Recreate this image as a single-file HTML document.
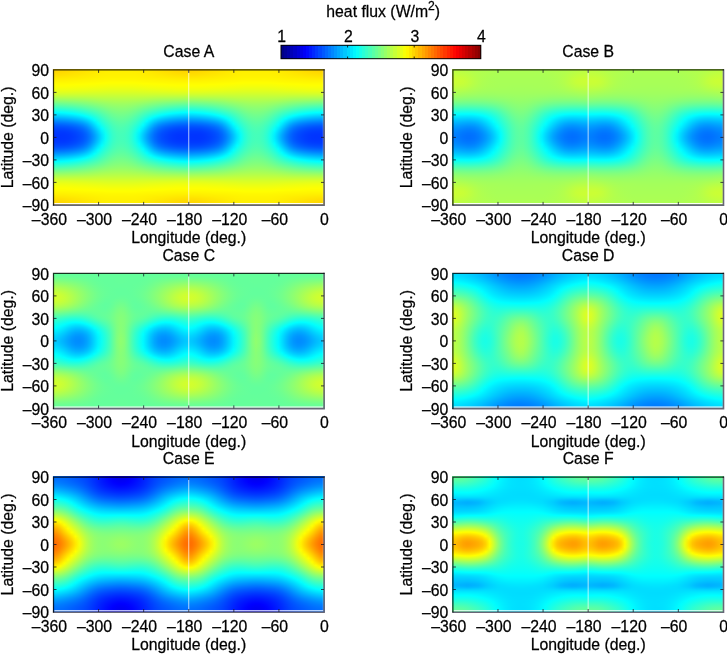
<!DOCTYPE html>
<html><head><meta charset="utf-8"><title>heat flux</title>
<style>
html,body{margin:0;padding:0;background:#fff}
body{width:727px;height:655px;position:relative;overflow:hidden;font-family:"Liberation Sans",sans-serif}
.hm{position:absolute;width:272px;height:136px;overflow:hidden}
.hm i{display:block;height:1px;width:100%}
.a0{background:repeating-linear-gradient(90deg,#ffd500,#ffd500,#ffd600,#ffd800,#ffda00,#ffdc00,#ffde00,#ffe100,#ffe300,#ffe500,#ffe800,#ffea00,#ffec00,#ffee00,#ffef00,#fff000,#fff000,#fff000,#fff000,#fff000,#fff000,#fff000,#ffef00,#ffee00,#ffed00,#ffeb00,#ffe800,#ffe600,#ffe400,#ffe100,#ffdf00,#ffdd00,#ffda00,#ffd800,#ffd600,#ffd500,#ffd500 135.25px)}
.a1{background:repeating-linear-gradient(90deg,#ffd500,#ffd500,#ffd600,#ffd800,#ffda00,#ffdc00,#ffdf00,#ffe100,#ffe300,#ffe500,#ffe800,#ffea00,#ffec00,#ffee00,#ffef00,#fff000,#fff000,#fff000,#fff000,#fff000,#fff000,#fff000,#ffef00,#ffee00,#ffed00,#ffeb00,#ffe800,#ffe600,#ffe400,#ffe200,#ffdf00,#ffdd00,#ffdb00,#ffd900,#ffd700,#ffd600,#ffd500 135.25px)}
.a2{background:repeating-linear-gradient(90deg,#ffd600,#ffd700,#ffd800,#ffd900,#ffdb00,#ffdd00,#ffe000,#ffe200,#ffe400,#ffe600,#ffe800,#ffea00,#ffec00,#ffee00,#ffef00,#fff000,#fff000,#fff000,#fff000,#fff000,#fff000,#fff000,#ffef00,#ffee00,#ffed00,#ffeb00,#ffe900,#ffe700,#ffe400,#ffe200,#ffe000,#ffde00,#ffdc00,#ffda00,#ffd800,#ffd700,#ffd600 135.25px)}
.a3{background:repeating-linear-gradient(90deg,#ffd800,#ffd800,#ffd900,#ffdb00,#ffdd00,#ffdf00,#ffe100,#ffe300,#ffe500,#ffe700,#ffe900,#ffeb00,#ffed00,#ffee00,#fff000,#fff000,#fff000,#fff000,#fff000,#fff000,#fff000,#fff000,#fff000,#ffef00,#ffed00,#ffec00,#ffea00,#ffe700,#ffe500,#ffe300,#ffe100,#ffdf00,#ffdd00,#ffdb00,#ffda00,#ffd900,#ffd800 135.25px)}
.a4{background:repeating-linear-gradient(90deg,#ffdb00,#ffdb00,#ffdc00,#ffdd00,#ffdf00,#ffe100,#ffe300,#ffe400,#ffe600,#ffe800,#ffea00,#ffec00,#ffee00,#ffef00,#fff000,#fff100,#fff100,#fff100,#fff100,#fff100,#fff100,#fff100,#fff000,#ffef00,#ffee00,#ffec00,#ffea00,#ffe900,#ffe700,#ffe500,#ffe300,#ffe100,#ffdf00,#ffdd00,#ffdc00,#ffdb00,#ffdb00 135.25px)}
.a5{background:repeating-linear-gradient(90deg,#ffde00,#ffde00,#ffde00,#ffe000,#ffe100,#ffe300,#ffe500,#ffe600,#ffe800,#ffe900,#ffeb00,#ffed00,#ffee00,#fff000,#fff100,#fff100,#fff100,#fff100,#fff100,#fff100,#fff100,#fff100,#fff100,#fff000,#ffef00,#ffed00,#ffec00,#ffea00,#ffe800,#ffe700,#ffe500,#ffe300,#ffe100,#ffe000,#ffdf00,#ffde00,#ffde00 135.25px)}
.a6{background:repeating-linear-gradient(90deg,#ffe100,#ffe100,#ffe100,#ffe200,#ffe400,#ffe500,#ffe700,#ffe800,#ffea00,#ffeb00,#ffed00,#ffee00,#ffef00,#fff100,#fff100,#fff200,#fff200,#fff200,#fff200,#fff200,#fff200,#fff200,#fff200,#fff100,#fff000,#ffee00,#ffed00,#ffec00,#ffea00,#ffe900,#ffe700,#ffe600,#ffe400,#ffe300,#ffe200,#ffe100,#ffe100 135.25px)}
.a7{background:repeating-linear-gradient(90deg,#ffe400,#ffe400,#ffe500,#ffe600,#ffe700,#ffe800,#ffe900,#ffeb00,#ffec00,#ffed00,#ffee00,#ffef00,#fff100,#fff200,#fff300,#fff300,#fff300,#fff300,#fff300,#fff300,#fff300,#fff300,#fff300,#fff200,#fff100,#fff000,#ffef00,#ffed00,#ffec00,#ffeb00,#ffea00,#ffe800,#ffe700,#ffe600,#ffe500,#ffe400,#ffe400 135.25px)}
.a8{background:repeating-linear-gradient(90deg,#ffe800,#ffe800,#ffe800,#ffe900,#ffea00,#ffeb00,#ffec00,#ffed00,#ffee00,#ffef00,#fff000,#fff100,#fff200,#fff300,#fff400,#fff400,#fff400,#fff400,#fff400,#fff400,#fff400,#fff400,#fff400,#fff300,#fff200,#fff100,#fff000,#ffef00,#ffee00,#ffed00,#ffec00,#ffeb00,#ffea00,#ffe900,#ffe800,#ffe800,#ffe800 135.25px)}
.a9{background:repeating-linear-gradient(90deg,#ffeb00,#ffeb00,#ffec00,#ffec00,#ffed00,#ffee00,#ffef00,#ffef00,#fff000,#fff100,#fff200,#fff300,#fff400,#fff500,#fff500,#fff600,#fff600,#fff600,#fff600,#fff600,#fff600,#fff600,#fff500,#fff500,#fff400,#fff300,#fff200,#fff100,#fff100,#fff000,#ffef00,#ffee00,#ffed00,#ffec00,#ffec00,#ffeb00,#ffeb00 135.25px)}
.a10{background:repeating-linear-gradient(90deg,#ffef00,#ffef00,#ffef00,#ffef00,#fff000,#fff100,#fff100,#fff200,#fff300,#fff300,#fff400,#fff500,#fff600,#fff600,#fff700,#fff700,#fff800,#fff700,#fff700,#fff700,#fff800,#fff700,#fff700,#fff600,#fff600,#fff500,#fff400,#fff400,#fff300,#fff200,#fff200,#fff100,#fff000,#ffef00,#ffef00,#ffef00,#ffef00 135.25px)}
.a11{background:repeating-linear-gradient(90deg,#fff200,#fff200,#fff200,#fff200,#fff300,#fff300,#fff400,#fff500,#fff500,#fff600,#fff600,#fff700,#fff800,#fff800,#fff900,#fff900,#fff900,#fff900,#fff900,#fff900,#fff900,#fff900,#fff900,#fff800,#fff800,#fff700,#fff700,#fff600,#fff500,#fff500,#fff400,#fff400,#fff300,#fff200,#fff200,#fff200,#fff200 135.25px)}
.a12{background:repeating-linear-gradient(90deg,#fff500,#fff500,#fff500,#fff500,#fff600,#fff600,#fff700,#fff700,#fff800,#fff800,#fff900,#fff900,#fffa00,#fffa00,#fffb00,#fffc00,#fffc00,#fffc00,#fffc00,#fffc00,#fffc00,#fffc00,#fffb00,#fffb00,#fffa00,#fff900,#fff900,#fff800,#fff800,#fff700,#fff700,#fff600,#fff600,#fff500,#fff500,#fff500,#fff500 135.25px)}
.a13{background:repeating-linear-gradient(90deg,#fff800,#fff800,#fff800,#fff800,#fff800,#fff900,#fff900,#fffa00,#fffa00,#fffb00,#fffb00,#fffc00,#fffc00,#fffd00,#fffe00,#fffe00,#fffe00,#fffe00,#fffe00,#fffe00,#fffe00,#fffe00,#fffe00,#fffd00,#fffc00,#fffc00,#fffb00,#fffb00,#fffa00,#fffa00,#fff900,#fff900,#fff800,#fff800,#fff800,#fff800,#fff800 135.25px)}
.a14{background:repeating-linear-gradient(90deg,#fffb00,#fffb00,#fffb00,#fffb00,#fffb00,#fffb00,#fffc00,#fffc00,#fffd00,#fffd00,#fffe00,#fffe00,#ffff00,#feff01,#feff01,#fdff02,#fdff02,#fdff02,#fdff02,#fdff02,#fdff02,#fdff02,#fdff02,#feff01,#ffff00,#ffff00,#fffe00,#fffe00,#fffd00,#fffd00,#fffc00,#fffb00,#fffb00,#fffb00,#fffb00,#fffb00,#fffb00 135.25px)}
.a15{background:repeating-linear-gradient(90deg,#fffe00,#fffd00,#fffd00,#fffd00,#fffe00,#fffe00,#ffff00,#ffff00,#feff01,#feff01,#fdff02,#fdff02,#fcff03,#fbff04,#fbff04,#faff05,#faff05,#faff05,#faff05,#faff05,#faff05,#faff05,#faff05,#fbff04,#fcff03,#fdff02,#fdff02,#feff01,#feff01,#ffff00,#ffff00,#fffe00,#fffe00,#fffd00,#fffd00,#fffd00,#fffe00 135.25px)}
.a16{background:repeating-linear-gradient(90deg,#feff01,#feff01,#feff01,#feff01,#feff01,#fdff02,#fcff03,#fcff03,#fbff04,#fbff04,#faff05,#faff05,#f9ff06,#f8ff07,#f7ff08,#f7ff08,#f7ff08,#f7ff08,#f7ff08,#f7ff08,#f6ff09,#f7ff08,#f7ff08,#f8ff07,#f9ff06,#f9ff06,#faff05,#fbff04,#fbff04,#fcff03,#fcff03,#fdff02,#feff01,#feff01,#feff01,#feff01,#feff01 135.25px)}
.a17{background:repeating-linear-gradient(90deg,#fbff04,#fbff04,#fbff04,#fbff04,#fbff04,#faff05,#f9ff06,#f9ff06,#f8ff07,#f8ff07,#f7ff08,#f6ff09,#f5ff0a,#f4ff0b,#f4ff0b,#f3ff0c,#f3ff0c,#f3ff0c,#f3ff0c,#f3ff0c,#f3ff0c,#f3ff0c,#f4ff0b,#f4ff0b,#f5ff0a,#f6ff09,#f7ff08,#f7ff08,#f8ff07,#f9ff06,#f9ff06,#faff05,#faff05,#fbff04,#fbff04,#fbff04,#fbff04 135.25px)}
.a18{background:repeating-linear-gradient(90deg,#f7ff08,#f8ff07,#f8ff07,#f8ff07,#f7ff08,#f7ff08,#f6ff09,#f5ff0a,#f5ff0a,#f4ff0b,#f3ff0c,#f2ff0d,#f2ff0d,#f1ff0e,#f0ff0f,#efff10,#efff10,#efff10,#efff10,#efff10,#efff10,#efff10,#f0ff0f,#f0ff0f,#f1ff0e,#f2ff0d,#f3ff0c,#f4ff0b,#f4ff0b,#f5ff0a,#f6ff09,#f6ff09,#f7ff08,#f8ff07,#f8ff07,#f8ff07,#f7ff08 135.25px)}
.a19{background:repeating-linear-gradient(90deg,#f4ff0b,#f4ff0b,#f4ff0b,#f4ff0b,#f3ff0c,#f3ff0c,#f2ff0d,#f1ff0e,#f1ff0e,#f0ff0f,#efff10,#eeff11,#eeff11,#edff12,#ecff13,#ebff14,#ebff14,#ebff14,#ebff14,#ebff14,#ebff14,#ebff14,#ecff13,#ecff13,#edff12,#eeff11,#efff10,#f0ff0f,#f1ff0e,#f1ff0e,#f2ff0d,#f3ff0c,#f3ff0c,#f4ff0b,#f4ff0b,#f4ff0b,#f4ff0b 135.25px)}
.a20{background:repeating-linear-gradient(90deg,#f0ff0f,#f0ff0f,#f0ff0f,#f0ff0f,#efff10,#efff10,#eeff11,#edff12,#ecff13,#ecff13,#ebff14,#eaff15,#e9ff16,#e8ff17,#e8ff17,#e7ff18,#e7ff18,#e7ff18,#e7ff18,#e7ff18,#e7ff18,#e7ff18,#e7ff18,#e8ff17,#e9ff16,#eaff15,#ebff14,#ebff14,#ecff13,#edff12,#eeff11,#eeff11,#efff10,#f0ff0f,#f0ff0f,#f0ff0f,#f0ff0f 135.25px)}
.a21{background:repeating-linear-gradient(90deg,#ebff14,#ebff14,#ebff14,#ebff14,#eaff15,#eaff15,#e9ff16,#e8ff17,#e8ff17,#e7ff18,#e6ff19,#e5ff1a,#e5ff1a,#e4ff1b,#e3ff1c,#e2ff1d,#e2ff1d,#e2ff1d,#e2ff1d,#e2ff1d,#e2ff1d,#e2ff1d,#e3ff1c,#e4ff1b,#e4ff1b,#e5ff1a,#e6ff19,#e7ff18,#e7ff18,#e8ff17,#e9ff16,#e9ff16,#eaff15,#ebff14,#ebff14,#ebff14,#ebff14 135.25px)}
.a22{background:repeating-linear-gradient(90deg,#e5ff1a,#e5ff1a,#e5ff1a,#e5ff1a,#e5ff1a,#e4ff1b,#e3ff1c,#e3ff1c,#e2ff1d,#e2ff1d,#e1ff1e,#e0ff1f,#e0ff1f,#dfff20,#deff21,#deff21,#deff21,#deff21,#deff21,#deff21,#deff21,#deff21,#deff21,#dfff20,#dfff20,#e0ff1f,#e1ff1e,#e1ff1e,#e2ff1d,#e3ff1c,#e3ff1c,#e4ff1b,#e5ff1a,#e5ff1a,#e5ff1a,#e5ff1a,#e5ff1a 135.25px)}
.a23{background:repeating-linear-gradient(90deg,#dfff20,#dfff20,#dfff20,#dfff20,#dfff20,#deff21,#ddff22,#ddff22,#dcff23,#dcff23,#dbff24,#dbff24,#daff25,#daff25,#d9ff26,#d9ff26,#d9ff26,#d9ff26,#d9ff26,#d9ff26,#d9ff26,#d9ff26,#d9ff26,#daff25,#daff25,#dbff24,#dbff24,#dcff23,#dcff23,#ddff22,#ddff22,#deff21,#deff21,#dfff20,#dfff20,#dfff20,#dfff20 135.25px)}
.a24{background:repeating-linear-gradient(90deg,#d8ff27,#d8ff27,#d8ff27,#d8ff27,#d7ff28,#d7ff28,#d7ff28,#d6ff29,#d6ff29,#d5ff2a,#d5ff2a,#d5ff2a,#d5ff2a,#d4ff2b,#d4ff2b,#d4ff2b,#d4ff2b,#d4ff2b,#d4ff2b,#d4ff2b,#d4ff2b,#d4ff2b,#d4ff2b,#d4ff2b,#d5ff2a,#d5ff2a,#d5ff2a,#d5ff2a,#d6ff29,#d6ff29,#d6ff29,#d7ff28,#d7ff28,#d8ff27,#d8ff27,#d8ff27,#d8ff27 135.25px)}
.a25{background:repeating-linear-gradient(90deg,#cfff30,#d0ff2f,#d0ff2f,#d0ff2f,#d0ff2f,#cfff30,#cfff30,#cfff30,#cfff30,#cfff30,#cfff30,#cfff30,#cfff30,#cfff30,#cfff30,#ceff31,#ceff31,#cfff30,#cfff30,#cfff30,#cfff30,#ceff31,#cfff30,#cfff30,#cfff30,#cfff30,#cfff30,#cfff30,#cfff30,#cfff30,#cfff30,#cfff30,#d0ff2f,#d0ff2f,#d0ff2f,#d0ff2f,#cfff30 135.25px)}
.a26{background:repeating-linear-gradient(90deg,#c7ff38,#c7ff38,#c7ff38,#c7ff38,#c7ff38,#c7ff38,#c7ff38,#c7ff38,#c7ff38,#c7ff38,#c8ff37,#c8ff37,#c9ff36,#c9ff36,#c9ff36,#c9ff36,#c9ff36,#c9ff36,#c9ff36,#c9ff36,#c9ff36,#c9ff36,#c9ff36,#c9ff36,#c9ff36,#c9ff36,#c8ff37,#c7ff38,#c7ff38,#c7ff38,#c7ff38,#c7ff38,#c7ff38,#c7ff38,#c7ff38,#c7ff38,#c7ff38 135.25px)}
.a27{background:repeating-linear-gradient(90deg,#bdff42,#bdff42,#beff41,#beff41,#beff41,#beff41,#bfff40,#bfff40,#bfff40,#c0ff3f,#c1ff3e,#c2ff3d,#c3ff3c,#c3ff3c,#c3ff3c,#c4ff3b,#c4ff3b,#c4ff3b,#c4ff3b,#c4ff3b,#c4ff3b,#c4ff3b,#c3ff3c,#c3ff3c,#c3ff3c,#c2ff3d,#c1ff3e,#c0ff3f,#bfff40,#bfff40,#bfff40,#beff41,#beff41,#beff41,#beff41,#bdff42,#bdff42 135.25px)}
.a28{background:repeating-linear-gradient(90deg,#b3ff4c,#b3ff4c,#b4ff4b,#b4ff4b,#b5ff4a,#b5ff4a,#b6ff49,#b6ff49,#b7ff48,#b8ff47,#b9ff46,#bbff44,#bcff43,#bdff42,#beff41,#beff41,#beff41,#bfff40,#bfff40,#bfff40,#beff41,#beff41,#beff41,#bdff42,#bcff43,#bbff44,#baff45,#b8ff47,#b7ff48,#b6ff49,#b6ff49,#b5ff4a,#b5ff4a,#b4ff4b,#b4ff4b,#b3ff4c,#b3ff4c 135.25px)}
.a29{background:repeating-linear-gradient(90deg,#a9ff56,#a9ff56,#a9ff56,#aaff55,#abff54,#abff54,#acff53,#adff52,#aeff51,#afff50,#b1ff4e,#b3ff4c,#b5ff4a,#b7ff48,#b8ff47,#b8ff47,#b9ff46,#b9ff46,#baff45,#b9ff46,#b9ff46,#b9ff46,#b8ff47,#b7ff48,#b6ff49,#b4ff4b,#b2ff4d,#b0ff4f,#aeff51,#adff52,#acff53,#acff53,#abff54,#aaff55,#aaff55,#a9ff56,#a9ff56 135.25px)}
.a30{background:repeating-linear-gradient(90deg,#9eff61,#9eff61,#9fff60,#9fff60,#a0ff5f,#a1ff5e,#a2ff5d,#a4ff5b,#a5ff5a,#a7ff58,#a9ff56,#acff53,#aeff51,#b0ff4f,#b2ff4d,#b3ff4c,#b4ff4b,#b4ff4b,#b4ff4b,#b4ff4b,#b4ff4b,#b3ff4c,#b2ff4d,#b1ff4e,#afff50,#adff52,#aaff55,#a8ff57,#a6ff59,#a4ff5b,#a3ff5c,#a2ff5d,#a1ff5e,#a0ff5f,#9fff60,#9eff61,#9eff61 135.25px)}
.a31{background:repeating-linear-gradient(90deg,#92ff6d,#93ff6c,#93ff6c,#94ff6b,#96ff69,#97ff68,#98ff67,#9aff65,#9cff63,#9eff61,#a1ff5e,#a4ff5b,#a7ff58,#aaff55,#acff53,#adff52,#aeff51,#afff50,#afff50,#afff50,#aeff51,#adff52,#acff53,#aaff55,#a8ff57,#a5ff5a,#a2ff5d,#9fff60,#9cff63,#9aff65,#99ff66,#97ff68,#96ff69,#95ff6a,#94ff6b,#93ff6c,#92ff6d 135.25px)}
.a32{background:repeating-linear-gradient(90deg,#87ff78,#87ff78,#88ff77,#89ff76,#8bff74,#8cff73,#8eff71,#90ff6f,#93ff6c,#95ff6a,#99ff66,#9dff62,#a0ff5f,#a3ff5c,#a6ff59,#a7ff58,#a9ff56,#aaff55,#aaff55,#aaff55,#a9ff56,#a8ff57,#a6ff59,#a4ff5b,#a1ff5e,#9eff61,#9aff65,#96ff69,#93ff6c,#91ff6e,#8fff70,#8dff72,#8bff74,#8aff75,#88ff77,#87ff78,#87ff78 135.25px)}
.a33{background:repeating-linear-gradient(90deg,#7bff84,#7bff84,#7cff83,#7eff81,#7fff80,#81ff7e,#84ff7b,#86ff79,#89ff76,#8cff73,#90ff6f,#95ff6a,#99ff66,#9cff63,#9fff60,#a2ff5d,#a4ff5b,#a5ff5a,#a5ff5a,#a5ff5a,#a4ff5b,#a2ff5d,#a0ff5f,#9dff62,#9aff65,#96ff69,#92ff6d,#8dff72,#8aff75,#87ff78,#84ff7b,#82ff7d,#80ff7f,#7eff81,#7dff82,#7bff84,#7bff84 135.25px)}
.a34{background:repeating-linear-gradient(90deg,#6fff90,#6fff90,#70ff8f,#72ff8d,#74ff8b,#76ff89,#79ff86,#7cff83,#80ff7f,#84ff7b,#88ff77,#8dff72,#91ff6e,#96ff69,#99ff66,#9cff63,#9fff60,#a0ff5f,#a0ff5f,#a0ff5f,#9fff60,#9dff62,#9aff65,#97ff68,#93ff6c,#8eff71,#89ff76,#85ff7a,#81ff7e,#7dff82,#7aff85,#77ff88,#75ff8a,#73ff8c,#71ff8e,#70ff8f,#6fff90 135.25px)}
.a35{background:repeating-linear-gradient(90deg,#63ff9c,#63ff9c,#65ff9a,#66ff99,#69ff96,#6bff94,#6eff91,#72ff8d,#76ff89,#7bff84,#80ff7f,#85ff7a,#8aff75,#8fff70,#93ff6c,#97ff68,#9aff65,#9bff64,#9cff63,#9bff64,#9aff65,#98ff67,#95ff6a,#90ff6f,#8bff74,#86ff79,#81ff7e,#7cff83,#77ff88,#73ff8c,#6fff90,#6cff93,#69ff96,#67ff98,#65ff9a,#63ff9c,#63ff9c 135.25px)}
.a36{background:repeating-linear-gradient(90deg,#57ffa8,#57ffa8,#59ffa6,#5bffa4,#5dffa2,#60ff9f,#64ff9b,#68ff97,#6cff93,#71ff8e,#77ff88,#7dff82,#83ff7c,#88ff77,#8eff71,#92ff6d,#95ff6a,#97ff68,#97ff68,#97ff68,#95ff6a,#93ff6c,#8fff70,#8aff75,#84ff7b,#7eff81,#79ff86,#73ff8c,#6eff91,#69ff96,#65ff9a,#61ff9e,#5effa1,#5bffa4,#59ffa6,#57ffa8,#57ffa8 135.25px)}
.a37{background:repeating-linear-gradient(90deg,#4affb5,#4bffb4,#4cffb3,#4fffb0,#52ffad,#55ffaa,#59ffa6,#5dffa2,#63ff9c,#68ff97,#6eff91,#75ff8a,#7bff84,#82ff7d,#88ff77,#8dff72,#90ff6f,#92ff6d,#93ff6c,#93ff6c,#91ff6e,#8eff71,#89ff76,#83ff7c,#7dff82,#76ff89,#70ff8f,#6aff95,#64ff9b,#5fffa0,#5affa5,#56ffa9,#52ffad,#4fffb0,#4dffb2,#4bffb4,#4affb5 135.25px)}
.a38{background:repeating-linear-gradient(90deg,#3effc1,#3effc1,#40ffbf,#43ffbc,#46ffb9,#49ffb6,#4effb1,#53ffac,#59ffa6,#5fffa0,#66ff99,#6dff92,#74ff8b,#7bff84,#82ff7d,#88ff77,#8cff73,#8eff71,#8fff70,#8fff70,#8dff72,#89ff76,#84ff7b,#7dff82,#76ff89,#6fff90,#68ff97,#61ff9e,#5affa5,#54ffab,#4fffb0,#4bffb4,#47ffb8,#44ffbb,#41ffbe,#3fffc0,#3effc1 135.25px)}
.a39{background:repeating-linear-gradient(90deg,#31ffce,#32ffcd,#34ffcb,#37ffc8,#3affc5,#3effc1,#43ffbc,#48ffb7,#4fffb0,#56ffa9,#5dffa2,#64ff9b,#6cff93,#74ff8b,#7cff83,#83ff7c,#87ff78,#8aff75,#8bff74,#8aff75,#88ff77,#84ff7b,#7eff81,#77ff88,#6eff91,#67ff98,#5fffa0,#58ffa7,#50ffaf,#4affb5,#44ffbb,#3fffc0,#3bffc4,#37ffc8,#34ffcb,#32ffcd,#31ffce 135.25px)}
.a40{background:repeating-linear-gradient(90deg,#25ffda,#25ffda,#27ffd8,#2affd5,#2effd1,#32ffcd,#37ffc8,#3dffc2,#44ffbb,#4cffb3,#54ffab,#5cffa3,#65ff9a,#6eff91,#76ff89,#7eff81,#83ff7c,#86ff79,#87ff78,#87ff78,#84ff7b,#7fff80,#79ff86,#70ff8f,#67ff98,#5fffa0,#56ffa9,#4effb1,#46ffb9,#3fffc0,#39ffc6,#33ffcc,#2fffd0,#2bffd4,#28ffd7,#26ffd9,#25ffda 135.25px)}
.a41{background:repeating-linear-gradient(90deg,#18ffe7,#19ffe6,#1bffe4,#1effe1,#21ffde,#26ffd9,#2bffd4,#32ffcd,#3affc5,#42ffbd,#4bffb4,#54ffab,#5dffa2,#67ff98,#71ff8e,#79ff86,#7fff80,#82ff7d,#83ff7c,#83ff7c,#80ff7f,#7bff84,#73ff8c,#6aff95,#60ff9f,#56ffa9,#4dffb2,#45ffba,#3cffc3,#34ffcb,#2dffd2,#27ffd8,#23ffdc,#1fffe0,#1bffe4,#19ffe6,#18ffe7 135.25px)}
.a42{background:repeating-linear-gradient(90deg,#0bfff4,#0cfff3,#0efff1,#11ffee,#15ffea,#1affe5,#20ffdf,#27ffd8,#2fffd0,#38ffc7,#42ffbd,#4cffb3,#56ffa9,#61ff9e,#6bff94,#74ff8b,#7bff84,#7eff81,#80ff7f,#7fff80,#7cff83,#76ff89,#6eff91,#64ff9b,#59ffa6,#4effb1,#44ffbb,#3bffc4,#31ffce,#29ffd6,#21ffde,#1bffe4,#16ffe9,#12ffed,#0efff1,#0cfff3,#0bfff4 135.25px)}
.a43{background:repeating-linear-gradient(90deg,#00fdff,#00fdff,#01fffe,#04fffb,#08fff7,#0dfff2,#13ffec,#1bffe4,#24ffdb,#2effd1,#38ffc7,#43ffbc,#4fffb0,#5bffa4,#66ff99,#70ff8f,#77ff88,#7bff84,#7cff83,#7bff84,#78ff87,#72ff8d,#69ff96,#5effa1,#52ffad,#46ffb9,#3bffc4,#30ffcf,#26ffd9,#1dffe2,#15ffea,#0ffff0,#09fff6,#05fffa,#01fffe,#00feff,#00fdff 135.25px)}
.a44{background:repeating-linear-gradient(90deg,#00f0ff,#00f0ff,#00f2ff,#00f6ff,#00faff,#00ffff,#07fff8,#0ffff0,#18ffe7,#23ffdc,#2fffd0,#3bffc4,#48ffb7,#54ffab,#61ff9e,#6bff94,#72ff8d,#77ff88,#79ff86,#78ff87,#74ff8b,#6dff92,#64ff9b,#58ffa7,#4bffb4,#3effc1,#32ffcd,#26ffd9,#1bffe4,#11ffee,#09fff6,#02fffd,#00fbff,#00f7ff,#00f3ff,#00f1ff,#00f0ff 135.25px)}
.a45{background:repeating-linear-gradient(90deg,#00e2ff,#00e3ff,#00e5ff,#00e8ff,#00edff,#00f2ff,#00f9ff,#02fffd,#0cfff3,#18ffe7,#25ffda,#32ffcd,#40ffbf,#4effb1,#5bffa4,#66ff99,#6eff91,#73ff8c,#75ff8a,#74ff8b,#70ff8f,#69ff96,#5fffa0,#52ffad,#44ffbb,#36ffc9,#28ffd7,#1bffe4,#0ffff0,#05fffa,#00fbff,#00f4ff,#00eeff,#00e9ff,#00e6ff,#00e3ff,#00e2ff 135.25px)}
.a46{background:repeating-linear-gradient(90deg,#00d5ff,#00d5ff,#00d7ff,#00dbff,#00dfff,#00e5ff,#00ecff,#00f4ff,#00ffff,#0cfff3,#1affe5,#2affd5,#39ffc6,#49ffb6,#56ffa9,#62ff9d,#6bff94,#70ff8f,#72ff8d,#71ff8e,#6cff93,#65ff9a,#5affa5,#4cffb3,#3dffc2,#2effd1,#1effe1,#10ffef,#03fffc,#00f7ff,#00eeff,#00e6ff,#00e0ff,#00dcff,#00d8ff,#00d6ff,#00d5ff 135.25px)}
.a47{background:repeating-linear-gradient(90deg,#00c7ff,#00c7ff,#00caff,#00cdff,#00d1ff,#00d7ff,#00deff,#00e7ff,#00f2ff,#01fffe,#10ffef,#21ffde,#32ffcd,#43ffbc,#51ffae,#5effa1,#67ff98,#6cff93,#6eff91,#6dff92,#68ff97,#60ff9f,#55ffaa,#47ffb8,#37ffc8,#26ffd9,#15ffea,#05fffa,#00f6ff,#00eaff,#00e0ff,#00d9ff,#00d3ff,#00ceff,#00caff,#00c8ff,#00c7ff 135.25px)}
.a48{background:repeating-linear-gradient(90deg,#00b9ff,#00baff,#00bcff,#00bfff,#00c4ff,#00c9ff,#00d1ff,#00daff,#00e5ff,#00f4ff,#06fff9,#18ffe7,#2bffd4,#3dffc2,#4cffb3,#59ffa6,#63ff9c,#69ff96,#6bff94,#6aff95,#65ff9a,#5cffa3,#50ffaf,#41ffbe,#30ffcf,#1effe1,#0bfff4,#00f8ff,#00e9ff,#00ddff,#00d3ff,#00cbff,#00c5ff,#00c0ff,#00bdff,#00baff,#00b9ff 135.25px)}
.a49{background:repeating-linear-gradient(90deg,#00acff,#00acff,#00aeff,#00b1ff,#00b6ff,#00bcff,#00c3ff,#00ccff,#00d8ff,#00e8ff,#00faff,#10ffef,#25ffda,#37ffc8,#48ffb7,#55ffaa,#5fffa0,#65ff9a,#68ff97,#66ff99,#61ff9e,#58ffa7,#4cffb3,#3cffc3,#2affd5,#15ffea,#01fffe,#00ecff,#00dcff,#00cfff,#00c5ff,#00bdff,#00b7ff,#00b3ff,#00afff,#00adff,#00acff 135.25px)}
.a50{background:repeating-linear-gradient(90deg,#009fff,#009fff,#00a1ff,#00a4ff,#00a8ff,#00aeff,#00b6ff,#00bfff,#00ccff,#00dbff,#00f0ff,#07fff8,#1effe1,#32ffcd,#43ffbc,#51ffae,#5bffa4,#62ff9d,#65ff9a,#63ff9c,#5dffa2,#54ffab,#47ffb8,#37ffc8,#23ffdc,#0dfff2,#00f6ff,#00e0ff,#00cfff,#00c2ff,#00b8ff,#00b0ff,#00aaff,#00a5ff,#00a2ff,#009fff,#009fff 135.25px)}
.a51{background:repeating-linear-gradient(90deg,#0092ff,#0092ff,#0094ff,#0097ff,#009bff,#00a1ff,#00a9ff,#00b2ff,#00bfff,#00d0ff,#00e5ff,#00feff,#17ffe8,#2cffd3,#3effc1,#4dffb2,#58ffa7,#5fffa0,#61ff9e,#60ff9f,#5affa5,#50ffaf,#43ffbc,#32ffcd,#1dffe2,#05fffa,#00ecff,#00d5ff,#00c3ff,#00b5ff,#00abff,#00a3ff,#009dff,#0098ff,#0095ff,#0093ff,#0092ff 135.25px)}
.a52{background:repeating-linear-gradient(90deg,#0086ff,#0086ff,#0088ff,#008aff,#008fff,#0094ff,#009cff,#00a5ff,#00b2ff,#00c4ff,#00dbff,#00f5ff,#10ffef,#27ffd8,#3affc5,#49ffb6,#54ffab,#5bffa4,#5effa1,#5dffa2,#56ffa9,#4cffb3,#3effc1,#2cffd3,#17ffe8,#00fcff,#00e2ff,#00caff,#00b7ff,#00a9ff,#009eff,#0096ff,#0090ff,#008bff,#0088ff,#0086ff,#0086ff 135.25px)}
.a53{background:repeating-linear-gradient(90deg,#007aff,#007aff,#007cff,#007eff,#0082ff,#0088ff,#0090ff,#0099ff,#00a6ff,#00b9ff,#00d1ff,#00edff,#09fff6,#22ffdd,#35ffca,#45ffba,#51ffae,#58ffa7,#5cffa3,#5affa5,#53ffac,#48ffb7,#3affc5,#27ffd8,#10ffef,#00f4ff,#00d8ff,#00bfff,#00abff,#009cff,#0092ff,#008aff,#0084ff,#007fff,#007cff,#007bff,#007aff 135.25px)}
.a54{background:repeating-linear-gradient(90deg,#006fff,#006fff,#0071ff,#0073ff,#0077ff,#007dff,#0084ff,#008eff,#009bff,#00aeff,#00c7ff,#00e5ff,#03fffc,#1cffe3,#31ffce,#41ffbe,#4effb1,#56ffa9,#59ffa6,#57ffa8,#50ffaf,#45ffba,#36ffc9,#22ffdd,#0afff5,#00ecff,#00cfff,#00b4ff,#009fff,#0091ff,#0086ff,#007eff,#0078ff,#0074ff,#0071ff,#0070ff,#006fff 135.25px)}
.a55{background:repeating-linear-gradient(90deg,#0065ff,#0065ff,#0066ff,#0069ff,#006dff,#0072ff,#0079ff,#0083ff,#0090ff,#00a3ff,#00beff,#00dcff,#00fbff,#17ffe8,#2cffd3,#3effc1,#4bffb4,#53ffac,#56ffa9,#54ffab,#4dffb2,#42ffbd,#31ffce,#1dffe2,#04fffb,#00e5ff,#00c6ff,#00aaff,#0095ff,#0086ff,#007cff,#0074ff,#006eff,#006aff,#0067ff,#0066ff,#0065ff 135.25px)}
.a56{background:repeating-linear-gradient(90deg,#005cff,#005cff,#005dff,#005fff,#0063ff,#0068ff,#0070ff,#0079ff,#0086ff,#009aff,#00b5ff,#00d4ff,#00f4ff,#11ffee,#28ffd7,#3affc5,#48ffb7,#50ffaf,#54ffab,#52ffad,#4affb5,#3effc1,#2dffd2,#18ffe7,#00fcff,#00ddff,#00bdff,#00a0ff,#008bff,#007cff,#0072ff,#006aff,#0064ff,#0060ff,#005eff,#005cff,#005cff 135.25px)}
.a57{background:repeating-linear-gradient(90deg,#0054ff,#0054ff,#0055ff,#0057ff,#005aff,#0060ff,#0067ff,#0070ff,#007dff,#0091ff,#00acff,#00cdff,#00edff,#0bfff4,#24ffdb,#37ffc8,#45ffba,#4effb1,#52ffad,#4fffb0,#48ffb7,#3bffc4,#29ffd6,#12ffed,#00f6ff,#00d5ff,#00b5ff,#0098ff,#0082ff,#0073ff,#0069ff,#0062ff,#005cff,#0058ff,#0055ff,#0054ff,#0054ff 135.25px)}
.a58{background:repeating-linear-gradient(90deg,#004dff,#004dff,#004eff,#0050ff,#0053ff,#0058ff,#005fff,#0068ff,#0075ff,#0089ff,#00a4ff,#00c5ff,#00e7ff,#06fff9,#1fffe0,#34ffcb,#43ffbc,#4cffb3,#4fffb0,#4dffb2,#46ffb9,#38ffc7,#25ffda,#0dfff2,#00efff,#00ceff,#00adff,#008fff,#007aff,#006bff,#0061ff,#005aff,#0054ff,#0050ff,#004eff,#004eff,#004dff 135.25px)}
.a59{background:repeating-linear-gradient(90deg,#0048ff,#0048ff,#0048ff,#0049ff,#004dff,#0052ff,#0059ff,#0062ff,#006eff,#0082ff,#009dff,#00beff,#00e0ff,#00ffff,#1bffe4,#31ffce,#41ffbe,#4affb5,#4effb1,#4bffb4,#44ffbb,#36ffc9,#22ffdd,#08fff7,#00e9ff,#00c7ff,#00a5ff,#0088ff,#0073ff,#0065ff,#005bff,#0053ff,#004eff,#004aff,#0048ff,#0048ff,#0048ff 135.25px)}
.a60{background:repeating-linear-gradient(90deg,#0043ff,#0043ff,#0043ff,#0044ff,#0047ff,#004cff,#0053ff,#005cff,#0068ff,#007bff,#0096ff,#00b7ff,#00daff,#00faff,#17ffe8,#2effd1,#3fffc0,#48ffb7,#4cffb3,#4affb5,#42ffbd,#33ffcc,#1effe1,#03fffc,#00e3ff,#00c0ff,#009fff,#0082ff,#006dff,#005fff,#0055ff,#004eff,#0048ff,#0045ff,#0043ff,#0043ff,#0043ff 135.25px)}
.a61{background:repeating-linear-gradient(90deg,#003fff,#003fff,#003fff,#0040ff,#0043ff,#0048ff,#004eff,#0057ff,#0063ff,#0076ff,#0090ff,#00b1ff,#00d4ff,#00f5ff,#14ffeb,#2cffd3,#3dffc2,#47ffb8,#4affb5,#48ffb7,#40ffbf,#31ffce,#1bffe4,#00fdff,#00ddff,#00baff,#0099ff,#007cff,#0067ff,#005aff,#0050ff,#0049ff,#0044ff,#0040ff,#003fff,#003eff,#003fff 135.25px)}
.a62{background:repeating-linear-gradient(90deg,#003bff,#003bff,#003bff,#003cff,#003fff,#0044ff,#004aff,#0053ff,#005fff,#0071ff,#008bff,#00abff,#00ceff,#00f1ff,#11ffee,#2affd5,#3bffc4,#45ffba,#49ffb6,#47ffb8,#3fffc0,#2fffd0,#18ffe7,#00f9ff,#00d8ff,#00b5ff,#0093ff,#0077ff,#0063ff,#0055ff,#004cff,#0045ff,#0040ff,#003dff,#003bff,#003bff,#003bff 135.25px)}
.a63{background:repeating-linear-gradient(90deg,#0039ff,#0039ff,#0039ff,#0039ff,#003cff,#0041ff,#0047ff,#004fff,#005bff,#006dff,#0087ff,#00a7ff,#00caff,#00edff,#0efff1,#28ffd7,#3affc5,#44ffbb,#48ffb7,#46ffb9,#3dffc2,#2effd1,#15ffea,#00f5ff,#00d3ff,#00b0ff,#008fff,#0073ff,#005fff,#0052ff,#0049ff,#0042ff,#003dff,#003aff,#0039ff,#0039ff,#0039ff 135.25px)}
.a64{background:repeating-linear-gradient(90deg,#0037ff,#0037ff,#0037ff,#0037ff,#003aff,#003eff,#0045ff,#004dff,#0058ff,#006aff,#0083ff,#00a3ff,#00c6ff,#00e9ff,#0bfff4,#26ffd9,#39ffc6,#43ffbc,#47ffb8,#45ffba,#3dffc2,#2cffd3,#13ffec,#00f2ff,#00cfff,#00acff,#008bff,#0070ff,#005cff,#004fff,#0047ff,#0040ff,#003bff,#0038ff,#0037ff,#0037ff,#0037ff 135.25px)}
.a65{background:repeating-linear-gradient(90deg,#0036ff,#0035ff,#0035ff,#0036ff,#0038ff,#003dff,#0043ff,#004bff,#0056ff,#0067ff,#0080ff,#009fff,#00c2ff,#00e6ff,#09fff6,#25ffda,#38ffc7,#43ffbc,#46ffb9,#44ffbb,#3cffc3,#2bffd4,#11ffee,#00f0ff,#00ccff,#00a8ff,#0088ff,#006dff,#005aff,#004dff,#0045ff,#003eff,#0039ff,#0036ff,#0035ff,#0035ff,#0036ff 135.25px)}
.a66{background:repeating-linear-gradient(90deg,#0035ff,#0035ff,#0034ff,#0035ff,#0037ff,#003cff,#0042ff,#004aff,#0055ff,#0066ff,#007eff,#009dff,#00c0ff,#00e4ff,#08fff7,#24ffdb,#38ffc7,#42ffbd,#46ffb9,#44ffbb,#3bffc4,#2affd5,#10ffef,#00eeff,#00caff,#00a6ff,#0086ff,#006cff,#0059ff,#004cff,#0044ff,#003dff,#0038ff,#0035ff,#0034ff,#0035ff,#0035ff 135.25px)}
.a67{background:repeating-linear-gradient(90deg,#0035ff,#0034ff,#0034ff,#0035ff,#0037ff,#003bff,#0041ff,#0049ff,#0054ff,#0065ff,#007dff,#009cff,#00bfff,#00e3ff,#07fff8,#24ffdb,#37ffc8,#42ffbd,#46ffb9,#44ffbb,#3bffc4,#2affd5,#10ffef,#00edff,#00c9ff,#00a5ff,#0085ff,#006bff,#0058ff,#004cff,#0043ff,#003dff,#0038ff,#0035ff,#0034ff,#0034ff,#0035ff 135.25px)}
.b0{background:repeating-linear-gradient(90deg,#bdff42,#bcff43,#bbff44,#baff45,#b8ff47,#b5ff4a,#b3ff4c,#b1ff4e,#b0ff4f,#afff50,#aeff51,#adff52,#acff53,#abff54,#abff54,#acff53,#acff53,#acff53,#acff53,#acff53,#acff53,#acff53,#acff53,#abff54,#acff53,#acff53,#aeff51,#afff50,#b0ff4f,#b1ff4e,#b2ff4d,#b4ff4b,#b6ff49,#b9ff46,#bbff44,#bcff43,#bdff42 135.25px)}
.b1{background:repeating-linear-gradient(90deg,#bdff42,#bdff42,#bcff43,#baff45,#b8ff47,#b5ff4a,#b3ff4c,#b1ff4e,#b0ff4f,#afff50,#aeff51,#adff52,#acff53,#abff54,#abff54,#acff53,#acff53,#acff53,#acff53,#acff53,#acff53,#acff53,#abff54,#abff54,#acff53,#acff53,#adff52,#afff50,#b0ff4f,#b1ff4e,#b2ff4d,#b4ff4b,#b7ff48,#b9ff46,#bbff44,#bcff43,#bdff42 135.25px)}
.b2{background:repeating-linear-gradient(90deg,#beff41,#beff41,#bdff42,#bbff44,#b9ff46,#b6ff49,#b3ff4c,#b2ff4d,#b0ff4f,#afff50,#aeff51,#adff52,#acff53,#abff54,#abff54,#abff54,#acff53,#acff53,#acff53,#acff53,#acff53,#acff53,#abff54,#abff54,#abff54,#acff53,#adff52,#afff50,#b0ff4f,#b1ff4e,#b2ff4d,#b5ff4a,#b7ff48,#baff45,#bcff43,#bdff42,#beff41 135.25px)}
.b3{background:repeating-linear-gradient(90deg,#bfff40,#bfff40,#beff41,#bcff43,#baff45,#b7ff48,#b4ff4b,#b2ff4d,#b0ff4f,#afff50,#aeff51,#acff53,#abff54,#abff54,#abff54,#abff54,#abff54,#abff54,#abff54,#abff54,#abff54,#abff54,#abff54,#abff54,#abff54,#acff53,#adff52,#aeff51,#b0ff4f,#b1ff4e,#b3ff4c,#b5ff4a,#b8ff47,#bbff44,#bdff42,#bfff40,#bfff40 135.25px)}
.b4{background:repeating-linear-gradient(90deg,#c1ff3e,#c1ff3e,#c0ff3f,#beff41,#bbff44,#b8ff47,#b4ff4b,#b2ff4d,#b0ff4f,#afff50,#adff52,#acff53,#abff54,#abff54,#abff54,#abff54,#abff54,#abff54,#abff54,#abff54,#abff54,#abff54,#abff54,#abff54,#abff54,#acff53,#adff52,#aeff51,#b0ff4f,#b1ff4e,#b3ff4c,#b6ff49,#b9ff46,#bdff42,#bfff40,#c0ff3f,#c1ff3e 135.25px)}
.b5{background:repeating-linear-gradient(90deg,#c2ff3d,#c2ff3d,#c1ff3e,#c0ff3f,#bdff42,#b9ff46,#b5ff4a,#b2ff4d,#b0ff4f,#afff50,#adff52,#acff53,#abff54,#aaff55,#aaff55,#abff54,#abff54,#abff54,#abff54,#abff54,#abff54,#abff54,#abff54,#aaff55,#abff54,#abff54,#acff53,#aeff51,#afff50,#b1ff4e,#b4ff4b,#b7ff48,#bbff44,#beff41,#c1ff3e,#c2ff3d,#c2ff3d 135.25px)}
.b6{background:repeating-linear-gradient(90deg,#c4ff3b,#c4ff3b,#c3ff3c,#c1ff3e,#beff41,#baff45,#b6ff49,#b2ff4d,#b0ff4f,#aeff51,#adff52,#abff54,#aaff55,#aaff55,#aaff55,#aaff55,#aaff55,#aaff55,#aaff55,#aaff55,#aaff55,#aaff55,#aaff55,#aaff55,#aaff55,#abff54,#acff53,#adff52,#afff50,#b1ff4e,#b4ff4b,#b8ff47,#bcff43,#c0ff3f,#c3ff3c,#c4ff3b,#c4ff3b 135.25px)}
.b7{background:repeating-linear-gradient(90deg,#c6ff39,#c6ff39,#c5ff3a,#c3ff3c,#c0ff3f,#bbff44,#b6ff49,#b2ff4d,#b0ff4f,#aeff51,#acff53,#abff54,#aaff55,#aaff55,#aaff55,#aaff55,#aaff55,#aaff55,#aaff55,#aaff55,#aaff55,#aaff55,#aaff55,#aaff55,#aaff55,#aaff55,#acff53,#adff52,#afff50,#b1ff4e,#b4ff4b,#b9ff46,#bdff42,#c2ff3d,#c4ff3b,#c6ff39,#c6ff39 135.25px)}
.b8{background:repeating-linear-gradient(90deg,#c8ff37,#c7ff38,#c7ff38,#c5ff3a,#c1ff3e,#bcff43,#b7ff48,#b3ff4c,#b0ff4f,#adff52,#acff53,#aaff55,#aaff55,#a9ff56,#a9ff56,#aaff55,#aaff55,#aaff55,#aaff55,#aaff55,#aaff55,#aaff55,#a9ff56,#a9ff56,#a9ff56,#aaff55,#abff54,#adff52,#afff50,#b1ff4e,#b5ff4a,#b9ff46,#bfff40,#c3ff3c,#c6ff39,#c7ff38,#c8ff37 135.25px)}
.b9{background:repeating-linear-gradient(90deg,#c9ff36,#c9ff36,#c8ff37,#c6ff39,#c2ff3d,#bdff42,#b7ff48,#b3ff4c,#afff50,#adff52,#abff54,#aaff55,#a9ff56,#a9ff56,#a9ff56,#a9ff56,#a9ff56,#a9ff56,#a9ff56,#a9ff56,#a9ff56,#a9ff56,#a9ff56,#a9ff56,#a9ff56,#aaff55,#abff54,#acff53,#aeff51,#b1ff4e,#b5ff4a,#baff45,#c0ff3f,#c5ff3a,#c7ff38,#c9ff36,#c9ff36 135.25px)}
.b10{background:repeating-linear-gradient(90deg,#caff35,#caff35,#c9ff36,#c7ff38,#c3ff3c,#bdff42,#b7ff48,#b3ff4c,#afff50,#adff52,#abff54,#aaff55,#a9ff56,#a9ff56,#a9ff56,#a9ff56,#a9ff56,#a9ff56,#a9ff56,#a9ff56,#a9ff56,#a9ff56,#a9ff56,#a9ff56,#a9ff56,#a9ff56,#aaff55,#acff53,#aeff51,#b1ff4e,#b5ff4a,#baff45,#c0ff3f,#c5ff3a,#c9ff36,#caff35,#caff35 135.25px)}
.b11{background:repeating-linear-gradient(90deg,#caff35,#caff35,#caff35,#c8ff37,#c3ff3c,#bdff42,#b7ff48,#b2ff4d,#afff50,#acff53,#aaff55,#a9ff56,#a8ff57,#a8ff57,#a8ff57,#a8ff57,#a8ff57,#a8ff57,#a8ff57,#a8ff57,#a8ff57,#a8ff57,#a8ff57,#a8ff57,#a8ff57,#a9ff56,#aaff55,#abff54,#adff52,#b0ff4f,#b5ff4a,#baff45,#c1ff3e,#c6ff39,#c9ff36,#caff35,#caff35 135.25px)}
.b12{background:repeating-linear-gradient(90deg,#caff35,#caff35,#caff35,#c8ff37,#c3ff3c,#bdff42,#b7ff48,#b2ff4d,#aeff51,#acff53,#aaff55,#a9ff56,#a8ff57,#a8ff57,#a8ff57,#a8ff57,#a8ff57,#a8ff57,#a8ff57,#a8ff57,#a8ff57,#a8ff57,#a8ff57,#a8ff57,#a8ff57,#a9ff56,#a9ff56,#abff54,#adff52,#b0ff4f,#b4ff4b,#baff45,#c0ff3f,#c6ff39,#c9ff36,#caff35,#caff35 135.25px)}
.b13{background:repeating-linear-gradient(90deg,#c9ff36,#c9ff36,#c9ff36,#c7ff38,#c3ff3c,#bdff42,#b6ff49,#b2ff4d,#aeff51,#abff54,#aaff55,#a9ff56,#a8ff57,#a8ff57,#a8ff57,#a8ff57,#a8ff57,#a8ff57,#a8ff57,#a8ff57,#a8ff57,#a8ff57,#a8ff57,#a8ff57,#a8ff57,#a8ff57,#a9ff56,#abff54,#adff52,#b0ff4f,#b4ff4b,#baff45,#c0ff3f,#c5ff3a,#c8ff37,#c9ff36,#c9ff36 135.25px)}
.b14{background:repeating-linear-gradient(90deg,#c8ff37,#c8ff37,#c8ff37,#c6ff39,#c1ff3e,#bcff43,#b6ff49,#b1ff4e,#adff52,#abff54,#a9ff56,#a8ff57,#a8ff57,#a7ff58,#a7ff58,#a7ff58,#a7ff58,#a7ff58,#a7ff58,#a7ff58,#a7ff58,#a7ff58,#a7ff58,#a7ff58,#a8ff57,#a8ff57,#a9ff56,#aaff55,#acff53,#afff50,#b3ff4c,#b9ff46,#bfff40,#c4ff3b,#c7ff38,#c8ff37,#c8ff37 135.25px)}
.b15{background:repeating-linear-gradient(90deg,#c7ff38,#c7ff38,#c6ff39,#c4ff3b,#c0ff3f,#baff45,#b5ff4a,#b0ff4f,#adff52,#aaff55,#a9ff56,#a8ff57,#a7ff58,#a7ff58,#a7ff58,#a7ff58,#a7ff58,#a7ff58,#a7ff58,#a7ff58,#a7ff58,#a7ff58,#a7ff58,#a7ff58,#a7ff58,#a8ff57,#a8ff57,#aaff55,#acff53,#aeff51,#b2ff4d,#b8ff47,#bdff42,#c2ff3d,#c5ff3a,#c6ff39,#c7ff38 135.25px)}
.b16{background:repeating-linear-gradient(90deg,#c4ff3b,#c4ff3b,#c4ff3b,#c2ff3d,#beff41,#b9ff46,#b3ff4c,#afff50,#acff53,#aaff55,#a8ff57,#a8ff57,#a7ff58,#a7ff58,#a7ff58,#a7ff58,#a6ff59,#a6ff59,#a6ff59,#a6ff59,#a6ff59,#a6ff59,#a7ff58,#a7ff58,#a7ff58,#a7ff58,#a8ff57,#a9ff56,#abff54,#adff52,#b1ff4e,#b6ff49,#bbff44,#c0ff3f,#c3ff3c,#c4ff3b,#c4ff3b 135.25px)}
.b17{background:repeating-linear-gradient(90deg,#c2ff3d,#c2ff3d,#c1ff3e,#bfff40,#bcff43,#b7ff48,#b2ff4d,#aeff51,#abff54,#a9ff56,#a8ff57,#a7ff58,#a7ff58,#a6ff59,#a6ff59,#a6ff59,#a6ff59,#a6ff59,#a6ff59,#a6ff59,#a6ff59,#a6ff59,#a6ff59,#a6ff59,#a7ff58,#a7ff58,#a7ff58,#a8ff57,#aaff55,#acff53,#b0ff4f,#b4ff4b,#b9ff46,#beff41,#c0ff3f,#c2ff3d,#c2ff3d 135.25px)}
.b18{background:repeating-linear-gradient(90deg,#bfff40,#bfff40,#beff41,#bcff43,#b9ff46,#b4ff4b,#b0ff4f,#acff53,#aaff55,#a8ff57,#a7ff58,#a7ff58,#a6ff59,#a6ff59,#a6ff59,#a5ff5a,#a5ff5a,#a5ff5a,#a5ff5a,#a5ff5a,#a5ff5a,#a5ff5a,#a6ff59,#a6ff59,#a6ff59,#a6ff59,#a7ff58,#a8ff57,#a9ff56,#abff54,#aeff51,#b2ff4d,#b7ff48,#bbff44,#bdff42,#bfff40,#bfff40 135.25px)}
.b19{background:repeating-linear-gradient(90deg,#bcff43,#bcff43,#bbff44,#b9ff46,#b6ff49,#b2ff4d,#aeff51,#abff54,#a9ff56,#a7ff58,#a6ff59,#a6ff59,#a5ff5a,#a5ff5a,#a5ff5a,#a5ff5a,#a5ff5a,#a4ff5b,#a4ff5b,#a4ff5b,#a5ff5a,#a5ff5a,#a5ff5a,#a5ff5a,#a5ff5a,#a6ff59,#a6ff59,#a7ff58,#a8ff57,#aaff55,#acff53,#b0ff4f,#b4ff4b,#b8ff47,#baff45,#bbff44,#bcff43 135.25px)}
.b20{background:repeating-linear-gradient(90deg,#b8ff47,#b8ff47,#b7ff48,#b6ff49,#b3ff4c,#afff50,#acff53,#a9ff56,#a7ff58,#a6ff59,#a5ff5a,#a5ff5a,#a5ff5a,#a4ff5b,#a4ff5b,#a4ff5b,#a4ff5b,#a4ff5b,#a4ff5b,#a4ff5b,#a4ff5b,#a4ff5b,#a4ff5b,#a4ff5b,#a5ff5a,#a5ff5a,#a5ff5a,#a5ff5a,#a6ff59,#a8ff57,#aaff55,#aeff51,#b1ff4e,#b4ff4b,#b7ff48,#b8ff47,#b8ff47 135.25px)}
.b21{background:repeating-linear-gradient(90deg,#b5ff4a,#b5ff4a,#b4ff4b,#b2ff4d,#afff50,#acff53,#a9ff56,#a7ff58,#a5ff5a,#a4ff5b,#a4ff5b,#a4ff5b,#a4ff5b,#a3ff5c,#a3ff5c,#a3ff5c,#a3ff5c,#a3ff5c,#a3ff5c,#a3ff5c,#a3ff5c,#a3ff5c,#a3ff5c,#a3ff5c,#a4ff5b,#a4ff5b,#a4ff5b,#a4ff5b,#a5ff5a,#a6ff59,#a8ff57,#abff54,#aeff51,#b1ff4e,#b3ff4c,#b4ff4b,#b5ff4a 135.25px)}
.b22{background:repeating-linear-gradient(90deg,#b1ff4e,#b1ff4e,#b0ff4f,#aeff51,#acff53,#a9ff56,#a7ff58,#a5ff5a,#a3ff5c,#a3ff5c,#a2ff5d,#a2ff5d,#a2ff5d,#a2ff5d,#a2ff5d,#a2ff5d,#a2ff5d,#a2ff5d,#a2ff5d,#a2ff5d,#a2ff5d,#a2ff5d,#a2ff5d,#a2ff5d,#a2ff5d,#a2ff5d,#a2ff5d,#a2ff5d,#a3ff5c,#a4ff5b,#a6ff59,#a8ff57,#abff54,#adff52,#afff50,#b0ff4f,#b1ff4e 135.25px)}
.b23{background:repeating-linear-gradient(90deg,#adff52,#adff52,#acff53,#aaff55,#a8ff57,#a6ff59,#a4ff5b,#a2ff5d,#a1ff5e,#a1ff5e,#a0ff5f,#a0ff5f,#a1ff5e,#a1ff5e,#a1ff5e,#a1ff5e,#a1ff5e,#a1ff5e,#a1ff5e,#a1ff5e,#a1ff5e,#a1ff5e,#a1ff5e,#a1ff5e,#a1ff5e,#a1ff5e,#a0ff5f,#a0ff5f,#a1ff5e,#a2ff5d,#a3ff5c,#a5ff5a,#a7ff58,#a9ff56,#abff54,#adff52,#adff52 135.25px)}
.b24{background:repeating-linear-gradient(90deg,#a9ff56,#a9ff56,#a8ff57,#a6ff59,#a4ff5b,#a3ff5c,#a1ff5e,#a0ff5f,#9fff60,#9eff61,#9eff61,#9eff61,#9fff60,#9fff60,#9fff60,#9fff60,#a0ff5f,#a0ff5f,#a0ff5f,#a0ff5f,#a0ff5f,#a0ff5f,#9fff60,#9fff60,#9fff60,#9fff60,#9eff61,#9eff61,#9eff61,#9fff60,#a0ff5f,#a2ff5d,#a3ff5c,#a5ff5a,#a7ff58,#a9ff56,#a9ff56 135.25px)}
.b25{background:repeating-linear-gradient(90deg,#a5ff5a,#a5ff5a,#a4ff5b,#a2ff5d,#a0ff5f,#9fff60,#9eff61,#9cff63,#9cff63,#9bff64,#9cff63,#9cff63,#9dff62,#9dff62,#9dff62,#9eff61,#9eff61,#9fff60,#9fff60,#9fff60,#9eff61,#9eff61,#9eff61,#9dff62,#9dff62,#9cff63,#9cff63,#9bff64,#9cff63,#9cff63,#9dff62,#9eff61,#a0ff5f,#a1ff5e,#a3ff5c,#a4ff5b,#a5ff5a 135.25px)}
.b26{background:repeating-linear-gradient(90deg,#a1ff5e,#a0ff5f,#9fff60,#9eff61,#9cff63,#9bff64,#9aff65,#99ff66,#99ff66,#98ff67,#99ff66,#99ff66,#9aff65,#9bff64,#9bff64,#9cff63,#9dff62,#9dff62,#9dff62,#9dff62,#9dff62,#9cff63,#9cff63,#9bff64,#9aff65,#9aff65,#99ff66,#98ff67,#98ff67,#99ff66,#99ff66,#9aff65,#9cff63,#9dff62,#9fff60,#a0ff5f,#a1ff5e 135.25px)}
.b27{background:repeating-linear-gradient(90deg,#9cff63,#9cff63,#9bff64,#99ff66,#98ff67,#97ff68,#96ff69,#95ff6a,#95ff6a,#95ff6a,#95ff6a,#96ff69,#97ff68,#98ff67,#99ff66,#9aff65,#9bff64,#9cff63,#9cff63,#9cff63,#9bff64,#9bff64,#9aff65,#99ff66,#98ff67,#97ff68,#96ff69,#95ff6a,#95ff6a,#95ff6a,#96ff69,#96ff69,#97ff68,#98ff67,#9aff65,#9bff64,#9cff63 135.25px)}
.b28{background:repeating-linear-gradient(90deg,#97ff68,#97ff68,#96ff69,#94ff6b,#93ff6c,#92ff6d,#91ff6e,#91ff6e,#91ff6e,#91ff6e,#92ff6d,#93ff6c,#94ff6b,#95ff6a,#97ff68,#98ff67,#99ff66,#9aff65,#9aff65,#9aff65,#9aff65,#99ff66,#97ff68,#96ff69,#95ff6a,#93ff6c,#92ff6d,#91ff6e,#91ff6e,#91ff6e,#91ff6e,#92ff6d,#92ff6d,#93ff6c,#95ff6a,#96ff69,#97ff68 135.25px)}
.b29{background:repeating-linear-gradient(90deg,#92ff6d,#92ff6d,#90ff6f,#8fff70,#8eff71,#8dff72,#8dff72,#8cff73,#8cff73,#8dff72,#8eff71,#8fff70,#91ff6e,#92ff6d,#94ff6b,#96ff69,#97ff68,#98ff67,#99ff66,#99ff66,#98ff67,#96ff69,#95ff6a,#93ff6c,#91ff6e,#90ff6f,#8eff71,#8dff72,#8dff72,#8cff73,#8dff72,#8dff72,#8dff72,#8eff71,#90ff6f,#91ff6e,#92ff6d 135.25px)}
.b30{background:repeating-linear-gradient(90deg,#8cff73,#8cff73,#8bff74,#89ff76,#88ff77,#87ff78,#87ff78,#87ff78,#87ff78,#88ff77,#89ff76,#8bff74,#8dff72,#8fff70,#91ff6e,#93ff6c,#95ff6a,#97ff68,#97ff68,#97ff68,#96ff69,#94ff6b,#92ff6d,#90ff6f,#8eff71,#8cff73,#8aff75,#88ff77,#88ff77,#87ff78,#87ff78,#87ff78,#88ff77,#88ff77,#8aff75,#8bff74,#8cff73 135.25px)}
.b31{background:repeating-linear-gradient(90deg,#86ff79,#86ff79,#84ff7b,#83ff7c,#82ff7d,#81ff7e,#81ff7e,#82ff7d,#82ff7d,#83ff7c,#84ff7b,#86ff79,#89ff76,#8bff74,#8eff71,#91ff6e,#93ff6c,#95ff6a,#96ff69,#95ff6a,#94ff6b,#92ff6d,#8fff70,#8dff72,#8aff75,#87ff78,#85ff7a,#83ff7c,#82ff7d,#82ff7d,#82ff7d,#81ff7e,#82ff7d,#82ff7d,#84ff7b,#85ff7a,#86ff79 135.25px)}
.b32{background:repeating-linear-gradient(90deg,#7fff80,#7fff80,#7eff81,#7cff83,#7bff84,#7bff84,#7bff84,#7bff84,#7cff83,#7dff82,#7fff80,#81ff7e,#84ff7b,#87ff78,#8bff74,#8eff71,#91ff6e,#93ff6c,#94ff6b,#93ff6c,#92ff6d,#8fff70,#8cff73,#89ff76,#86ff79,#82ff7d,#80ff7f,#7eff81,#7cff83,#7cff83,#7bff84,#7bff84,#7bff84,#7cff83,#7dff82,#7eff81,#7fff80 135.25px)}
.b33{background:repeating-linear-gradient(90deg,#78ff87,#77ff88,#76ff89,#75ff8a,#74ff8b,#74ff8b,#74ff8b,#75ff8a,#75ff8a,#77ff88,#79ff86,#7cff83,#7fff80,#83ff7c,#87ff78,#8bff74,#8eff71,#91ff6e,#92ff6d,#91ff6e,#90ff6f,#8dff72,#89ff76,#85ff7a,#81ff7e,#7dff82,#7aff85,#77ff88,#76ff89,#75ff8a,#74ff8b,#74ff8b,#74ff8b,#74ff8b,#75ff8a,#77ff88,#78ff87 135.25px)}
.b34{background:repeating-linear-gradient(90deg,#70ff8f,#6fff90,#6eff91,#6dff92,#6cff93,#6cff93,#6cff93,#6dff92,#6eff91,#70ff8f,#72ff8d,#76ff89,#7aff85,#7eff81,#83ff7c,#88ff77,#8cff73,#8fff70,#90ff6f,#8fff70,#8dff72,#8aff75,#86ff79,#81ff7e,#7cff83,#77ff88,#74ff8b,#71ff8e,#6fff90,#6dff92,#6dff92,#6cff93,#6cff93,#6cff93,#6dff92,#6fff90,#70ff8f 135.25px)}
.b35{background:repeating-linear-gradient(90deg,#67ff98,#67ff98,#65ff9a,#64ff9b,#63ff9c,#63ff9c,#64ff9b,#65ff9a,#66ff99,#68ff97,#6bff94,#6fff90,#74ff8b,#79ff86,#7fff80,#85ff7a,#89ff76,#8cff73,#8eff71,#8dff72,#8bff74,#87ff78,#82ff7d,#7cff83,#77ff88,#71ff8e,#6dff92,#69ff96,#67ff98,#65ff9a,#64ff9b,#64ff9b,#63ff9c,#64ff9b,#65ff9a,#66ff99,#67ff98 135.25px)}
.b36{background:repeating-linear-gradient(90deg,#5effa1,#5dffa2,#5cffa3,#5bffa4,#5affa5,#5affa5,#5bffa4,#5cffa3,#5effa1,#60ff9f,#64ff9b,#68ff97,#6eff91,#74ff8b,#7bff84,#81ff7e,#87ff78,#8aff75,#8cff73,#8bff74,#89ff76,#84ff7b,#7eff81,#78ff87,#71ff8e,#6bff94,#66ff99,#62ff9d,#5fffa0,#5dffa2,#5cffa3,#5bffa4,#5affa5,#5affa5,#5bffa4,#5dffa2,#5effa1 135.25px)}
.b37{background:repeating-linear-gradient(90deg,#54ffab,#53ffac,#52ffad,#51ffae,#51ffae,#51ffae,#52ffad,#53ffac,#55ffaa,#58ffa7,#5cffa3,#61ff9e,#68ff97,#6fff90,#77ff88,#7eff81,#84ff7b,#88ff77,#8aff75,#89ff76,#86ff79,#81ff7e,#7aff85,#73ff8c,#6bff94,#64ff9b,#5effa1,#5affa5,#56ffa9,#54ffab,#52ffad,#51ffae,#51ffae,#51ffae,#52ffad,#53ffac,#54ffab 135.25px)}
.b38{background:repeating-linear-gradient(90deg,#4affb5,#49ffb6,#48ffb7,#47ffb8,#46ffb9,#47ffb8,#48ffb7,#49ffb6,#4cffb3,#4fffb0,#54ffab,#5affa5,#61ff9e,#6aff95,#72ff8d,#7aff85,#81ff7e,#86ff79,#88ff77,#87ff78,#84ff7b,#7eff81,#76ff89,#6eff91,#65ff9a,#5dffa2,#57ffa8,#51ffae,#4dffb2,#4affb5,#49ffb6,#47ffb8,#47ffb8,#47ffb8,#47ffb8,#49ffb6,#4affb5 135.25px)}
.b39{background:repeating-linear-gradient(90deg,#3fffc0,#3fffc0,#3effc1,#3cffc3,#3cffc3,#3cffc3,#3effc1,#40ffbf,#42ffbd,#46ffb9,#4cffb3,#52ffad,#5bffa4,#64ff9b,#6eff91,#77ff88,#7eff81,#83ff7c,#86ff79,#85ff7a,#81ff7e,#7bff84,#72ff8d,#69ff96,#5fffa0,#56ffa9,#4fffb0,#49ffb6,#44ffbb,#41ffbe,#3fffc0,#3dffc2,#3cffc3,#3cffc3,#3dffc2,#3effc1,#3fffc0 135.25px)}
.b40{background:repeating-linear-gradient(90deg,#34ffcb,#34ffcb,#33ffcc,#32ffcd,#31ffce,#32ffcd,#33ffcc,#35ffca,#39ffc6,#3dffc2,#43ffbc,#4bffb4,#54ffab,#5effa1,#69ff96,#73ff8c,#7bff84,#81ff7e,#83ff7c,#83ff7c,#7eff81,#77ff88,#6eff91,#64ff9b,#59ffa6,#4fffb0,#47ffb8,#40ffbf,#3bffc4,#37ffc8,#34ffcb,#32ffcd,#31ffce,#31ffce,#32ffcd,#33ffcc,#34ffcb 135.25px)}
.b41{background:repeating-linear-gradient(90deg,#29ffd6,#29ffd6,#28ffd7,#27ffd8,#26ffd9,#27ffd8,#29ffd6,#2bffd4,#2fffd0,#34ffcb,#3bffc4,#43ffbc,#4dffb2,#59ffa6,#65ff9a,#70ff8f,#78ff87,#7fff80,#81ff7e,#80ff7f,#7cff83,#74ff8b,#6aff95,#5effa1,#53ffac,#48ffb7,#3fffc0,#37ffc8,#31ffce,#2dffd2,#2affd5,#28ffd7,#27ffd8,#26ffd9,#27ffd8,#28ffd7,#29ffd6 135.25px)}
.b42{background:repeating-linear-gradient(90deg,#1effe1,#1effe1,#1dffe2,#1cffe3,#1bffe4,#1cffe3,#1effe1,#21ffde,#25ffda,#2bffd4,#32ffcd,#3cffc3,#47ffb8,#53ffac,#60ff9f,#6cff93,#76ff89,#7cff83,#7fff80,#7eff81,#79ff86,#71ff8e,#66ff99,#59ffa6,#4dffb2,#41ffbe,#37ffc8,#2effd1,#28ffd7,#23ffdc,#1fffe0,#1dffe2,#1cffe3,#1bffe4,#1cffe3,#1effe1,#1effe1 135.25px)}
.b43{background:repeating-linear-gradient(90deg,#13ffec,#13ffec,#12ffed,#11ffee,#10ffef,#11ffee,#13ffec,#16ffe9,#1bffe4,#22ffdd,#2affd5,#35ffca,#40ffbf,#4effb1,#5cffa3,#68ff97,#73ff8c,#7aff85,#7dff82,#7cff83,#76ff89,#6eff91,#62ff9d,#54ffab,#47ffb8,#3affc5,#2fffd0,#26ffd9,#1effe1,#18ffe7,#14ffeb,#12ffed,#10ffef,#10ffef,#11ffee,#13ffec,#13ffec 135.25px)}
.b44{background:repeating-linear-gradient(90deg,#09fff6,#08fff7,#07fff8,#06fff9,#05fffa,#06fff9,#08fff7,#0cfff3,#12ffed,#19ffe6,#22ffdd,#2effd1,#3affc5,#49ffb6,#57ffa8,#65ff9a,#70ff8f,#77ff88,#7bff84,#79ff86,#74ff8b,#6aff95,#5effa1,#50ffaf,#41ffbe,#33ffcc,#27ffd8,#1dffe2,#15ffea,#0efff1,#0afff5,#07fff8,#06fff9,#05fffa,#06fff9,#08fff7,#09fff6 135.25px)}
.b45{background:repeating-linear-gradient(90deg,#00fdff,#00fdff,#00fcff,#00faff,#00faff,#00faff,#00fcff,#02fffd,#08fff7,#10ffef,#1bffe4,#27ffd8,#35ffca,#44ffbb,#53ffac,#61ff9e,#6dff92,#75ff8a,#79ff86,#77ff88,#71ff8e,#67ff98,#5affa5,#4bffb4,#3cffc3,#2dffd2,#20ffdf,#15ffea,#0cfff3,#05fffa,#00feff,#00fbff,#00faff,#00faff,#00fbff,#00fcff,#00fdff 135.25px)}
.b46{background:repeating-linear-gradient(90deg,#00f3ff,#00f3ff,#00f1ff,#00f0ff,#00efff,#00efff,#00f2ff,#00f7ff,#00feff,#08fff7,#13ffec,#21ffde,#2fffd0,#3fffc0,#4fffb0,#5effa1,#6aff95,#73ff8c,#76ff89,#75ff8a,#6fff90,#64ff9b,#56ffa9,#47ffb8,#37ffc8,#27ffd8,#1affe5,#0dfff2,#03fffc,#00faff,#00f4ff,#00f0ff,#00efff,#00efff,#00f0ff,#00f2ff,#00f3ff 135.25px)}
.b47{background:repeating-linear-gradient(90deg,#00e9ff,#00e9ff,#00e7ff,#00e5ff,#00e5ff,#00e5ff,#00e8ff,#00edff,#00f5ff,#00ffff,#0dfff2,#1bffe4,#2affd5,#3bffc4,#4bffb4,#5affa5,#67ff98,#70ff8f,#74ff8b,#73ff8c,#6cff93,#61ff9e,#53ffac,#43ffbc,#32ffcd,#22ffdd,#13ffec,#06fff9,#00faff,#00f1ff,#00eaff,#00e6ff,#00e5ff,#00e5ff,#00e6ff,#00e8ff,#00e9ff 135.25px)}
.b48{background:repeating-linear-gradient(90deg,#00e0ff,#00dfff,#00deff,#00dcff,#00daff,#00dbff,#00deff,#00e4ff,#00ecff,#00f8ff,#06fff9,#15ffea,#25ffda,#36ffc9,#47ffb8,#57ffa8,#64ff9b,#6eff91,#72ff8d,#71ff8e,#69ff96,#5effa1,#4fffb0,#3fffc0,#2dffd2,#1dffe2,#0dfff2,#00feff,#00f2ff,#00e7ff,#00e0ff,#00dcff,#00daff,#00dbff,#00ddff,#00dfff,#00e0ff 135.25px)}
.b49{background:repeating-linear-gradient(90deg,#00d7ff,#00d6ff,#00d4ff,#00d2ff,#00d1ff,#00d1ff,#00d4ff,#00daff,#00e4ff,#00f0ff,#00ffff,#10ffef,#21ffde,#32ffcd,#44ffbb,#54ffab,#62ff9d,#6cff93,#70ff8f,#6fff90,#67ff98,#5bffa4,#4cffb3,#3bffc4,#29ffd6,#18ffe7,#07fff8,#00f7ff,#00eaff,#00dfff,#00d7ff,#00d2ff,#00d0ff,#00d1ff,#00d3ff,#00d5ff,#00d7ff 135.25px)}
.b50{background:repeating-linear-gradient(90deg,#00ceff,#00ceff,#00cbff,#00c9ff,#00c7ff,#00c7ff,#00cbff,#00d2ff,#00dcff,#00e9ff,#00f9ff,#0afff5,#1cffe3,#2fffd0,#41ffbe,#51ffae,#5fffa0,#69ff96,#6eff91,#6cff93,#65ff9a,#58ffa7,#49ffb6,#37ffc8,#25ffda,#13ffec,#02fffd,#00f0ff,#00e2ff,#00d6ff,#00cdff,#00c9ff,#00c7ff,#00c8ff,#00caff,#00cdff,#00ceff 135.25px)}
.b51{background:repeating-linear-gradient(90deg,#00c6ff,#00c5ff,#00c3ff,#00c0ff,#00beff,#00beff,#00c2ff,#00c9ff,#00d4ff,#00e3ff,#00f3ff,#06fff9,#18ffe7,#2bffd4,#3dffc2,#4effb1,#5dffa2,#67ff98,#6cff93,#6bff94,#62ff9d,#56ffa9,#46ffb9,#34ffcb,#21ffde,#0efff1,#00fbff,#00eaff,#00dbff,#00ceff,#00c5ff,#00bfff,#00beff,#00bfff,#00c1ff,#00c4ff,#00c6ff 135.25px)}
.b52{background:repeating-linear-gradient(90deg,#00beff,#00bdff,#00bbff,#00b7ff,#00b5ff,#00b5ff,#00b9ff,#00c1ff,#00cdff,#00dcff,#00edff,#01fffe,#14ffeb,#27ffd8,#3affc5,#4bffb4,#5affa5,#65ff9a,#6bff94,#69ff96,#60ff9f,#53ffac,#43ffbc,#31ffce,#1dffe2,#0afff5,#00f6ff,#00e4ff,#00d4ff,#00c6ff,#00bcff,#00b7ff,#00b5ff,#00b6ff,#00b9ff,#00bcff,#00beff 135.25px)}
.b53{background:repeating-linear-gradient(90deg,#00b7ff,#00b6ff,#00b3ff,#00afff,#00adff,#00adff,#00b1ff,#00b9ff,#00c6ff,#00d6ff,#00e8ff,#00fbff,#10ffef,#24ffdb,#37ffc8,#49ffb6,#58ffa7,#63ff9c,#69ff96,#67ff98,#5effa1,#51ffae,#40ffbf,#2dffd2,#1affe5,#06fff9,#00f1ff,#00deff,#00cdff,#00bfff,#00b4ff,#00aeff,#00adff,#00aeff,#00b1ff,#00b5ff,#00b7ff 135.25px)}
.b54{background:repeating-linear-gradient(90deg,#00b0ff,#00afff,#00acff,#00a8ff,#00a5ff,#00a5ff,#00a9ff,#00b2ff,#00bfff,#00d0ff,#00e2ff,#00f6ff,#0cfff3,#21ffde,#34ffcb,#46ffb9,#56ffa9,#62ff9d,#67ff98,#65ff9a,#5cffa3,#4effb1,#3dffc2,#2affd5,#16ffe9,#01fffe,#00ecff,#00d8ff,#00c7ff,#00b7ff,#00acff,#00a6ff,#00a5ff,#00a6ff,#00aaff,#00adff,#00b0ff 135.25px)}
.b55{background:repeating-linear-gradient(90deg,#00a9ff,#00a8ff,#00a5ff,#00a1ff,#009eff,#009eff,#00a1ff,#00abff,#00b8ff,#00caff,#00ddff,#00f2ff,#08fff7,#1dffe2,#32ffcd,#44ffbb,#54ffab,#60ff9f,#66ff99,#64ff9b,#5affa5,#4cffb3,#3bffc4,#27ffd8,#12ffed,#00fcff,#00e7ff,#00d3ff,#00c0ff,#00b1ff,#00a5ff,#009fff,#009dff,#009fff,#00a3ff,#00a7ff,#00a9ff 135.25px)}
.b56{background:repeating-linear-gradient(90deg,#00a3ff,#00a2ff,#009eff,#009aff,#0097ff,#0097ff,#009bff,#00a4ff,#00b2ff,#00c4ff,#00d8ff,#00edff,#04fffb,#1affe5,#2fffd0,#42ffbd,#52ffad,#5fffa0,#64ff9b,#62ff9d,#59ffa6,#4affb5,#38ffc7,#24ffdb,#0ffff0,#00f8ff,#00e2ff,#00cdff,#00baff,#00aaff,#009eff,#0098ff,#0096ff,#0098ff,#009cff,#00a0ff,#00a3ff 135.25px)}
.b57{background:repeating-linear-gradient(90deg,#009dff,#009cff,#0098ff,#0094ff,#0090ff,#0090ff,#0094ff,#009eff,#00acff,#00beff,#00d2ff,#00e8ff,#00ffff,#17ffe8,#2cffd3,#40ffbf,#51ffae,#5dffa2,#63ff9c,#61ff9e,#57ffa8,#49ffb6,#36ffc9,#21ffde,#0bfff4,#00f3ff,#00ddff,#00c8ff,#00b4ff,#00a4ff,#0098ff,#0092ff,#0090ff,#0092ff,#0096ff,#009bff,#009dff 135.25px)}
.b58{background:repeating-linear-gradient(90deg,#0098ff,#0097ff,#0093ff,#008eff,#008bff,#008aff,#008eff,#0098ff,#00a6ff,#00b8ff,#00cdff,#00e4ff,#00fbff,#13ffec,#2affd5,#3effc1,#4fffb0,#5cffa3,#62ff9d,#60ff9f,#56ffa9,#47ffb8,#34ffcb,#1effe1,#07fff8,#00efff,#00d8ff,#00c2ff,#00afff,#009eff,#0092ff,#008cff,#008aff,#008cff,#0090ff,#0095ff,#0098ff 135.25px)}
.b59{background:repeating-linear-gradient(90deg,#0093ff,#0092ff,#008eff,#0089ff,#0085ff,#0085ff,#0089ff,#0093ff,#00a1ff,#00b3ff,#00c8ff,#00dfff,#00f7ff,#10ffef,#28ffd7,#3dffc2,#4effb1,#5bffa4,#61ff9e,#5fffa0,#55ffaa,#46ffb9,#32ffcd,#1cffe3,#04fffb,#00eaff,#00d3ff,#00bdff,#00a9ff,#0099ff,#008dff,#0086ff,#0085ff,#0087ff,#008bff,#0090ff,#0093ff 135.25px)}
.b60{background:repeating-linear-gradient(90deg,#008fff,#008eff,#0089ff,#0084ff,#0081ff,#0080ff,#0085ff,#008eff,#009cff,#00aeff,#00c3ff,#00dbff,#00f3ff,#0dfff2,#25ffda,#3bffc4,#4dffb2,#5affa5,#60ff9f,#5effa1,#54ffab,#44ffbb,#30ffcf,#19ffe6,#00ffff,#00e6ff,#00ceff,#00b8ff,#00a4ff,#0094ff,#0088ff,#0082ff,#0080ff,#0082ff,#0087ff,#008cff,#008fff 135.25px)}
.b61{background:repeating-linear-gradient(90deg,#008bff,#008aff,#0085ff,#0080ff,#007cff,#007cff,#0080ff,#008aff,#0098ff,#00aaff,#00bfff,#00d6ff,#00f0ff,#0afff5,#23ffdc,#3affc5,#4cffb3,#59ffa6,#5fffa0,#5dffa2,#53ffac,#43ffbc,#2fffd0,#17ffe8,#00fcff,#00e2ff,#00caff,#00b3ff,#00a0ff,#0090ff,#0084ff,#007eff,#007cff,#007eff,#0083ff,#0088ff,#008bff 135.25px)}
.b62{background:repeating-linear-gradient(90deg,#0088ff,#0087ff,#0082ff,#007cff,#0079ff,#0079ff,#007dff,#0086ff,#0094ff,#00a5ff,#00bbff,#00d2ff,#00ecff,#08fff7,#22ffdd,#39ffc6,#4cffb3,#59ffa6,#5fffa0,#5dffa2,#53ffac,#43ffbc,#2dffd2,#14ffeb,#00f9ff,#00dfff,#00c6ff,#00afff,#009cff,#008cff,#0081ff,#007aff,#0078ff,#007aff,#007fff,#0085ff,#0088ff 135.25px)}
.b63{background:repeating-linear-gradient(90deg,#0085ff,#0084ff,#007fff,#0079ff,#0076ff,#0076ff,#007aff,#0083ff,#0090ff,#00a2ff,#00b7ff,#00cfff,#00e9ff,#05fffa,#20ffdf,#38ffc7,#4bffb4,#58ffa7,#5effa1,#5cffa3,#52ffad,#42ffbd,#2cffd3,#12ffed,#00f6ff,#00dbff,#00c2ff,#00abff,#0098ff,#0089ff,#007eff,#0077ff,#0075ff,#0077ff,#007cff,#0082ff,#0085ff 135.25px)}
.b64{background:repeating-linear-gradient(90deg,#0083ff,#0082ff,#007dff,#0077ff,#0073ff,#0073ff,#0077ff,#0080ff,#008dff,#009fff,#00b4ff,#00ccff,#00e7ff,#03fffc,#1fffe0,#37ffc8,#4bffb4,#58ffa7,#5effa1,#5cffa3,#52ffad,#41ffbe,#2bffd4,#11ffee,#00f4ff,#00d8ff,#00bfff,#00a8ff,#0095ff,#0086ff,#007bff,#0075ff,#0073ff,#0075ff,#007aff,#007fff,#0083ff 135.25px)}
.b65{background:repeating-linear-gradient(90deg,#0081ff,#0080ff,#007bff,#0075ff,#0072ff,#0072ff,#0076ff,#007eff,#008bff,#009cff,#00b1ff,#00caff,#00e4ff,#02fffd,#1effe1,#37ffc8,#4affb5,#58ffa7,#5effa1,#5bffa4,#52ffad,#41ffbe,#2affd5,#0ffff0,#00f2ff,#00d6ff,#00bdff,#00a6ff,#0093ff,#0084ff,#0079ff,#0073ff,#0071ff,#0073ff,#0078ff,#007eff,#0081ff 135.25px)}
.b66{background:repeating-linear-gradient(90deg,#0080ff,#007fff,#007aff,#0074ff,#0070ff,#0070ff,#0074ff,#007dff,#008aff,#009aff,#00afff,#00c8ff,#00e3ff,#01fffe,#1dffe2,#36ffc9,#4affb5,#58ffa7,#5dffa2,#5bffa4,#52ffad,#41ffbe,#2affd5,#0efff1,#00f1ff,#00d5ff,#00bbff,#00a4ff,#0091ff,#0082ff,#0078ff,#0072ff,#0070ff,#0072ff,#0077ff,#007cff,#0080ff 135.25px)}
.b67{background:repeating-linear-gradient(90deg,#007fff,#007eff,#0079ff,#0073ff,#0070ff,#0070ff,#0074ff,#007cff,#0089ff,#009aff,#00afff,#00c7ff,#00e2ff,#00ffff,#1dffe2,#36ffc9,#4affb5,#57ffa8,#5dffa2,#5bffa4,#51ffae,#41ffbe,#29ffd6,#0efff1,#00f0ff,#00d4ff,#00baff,#00a3ff,#0090ff,#0082ff,#0077ff,#0071ff,#006fff,#0071ff,#0076ff,#007cff,#007fff 135.25px)}
.c0{background:repeating-linear-gradient(90deg,#64ff9b,#64ff9b,#64ff9b,#64ff9b,#64ff9b,#64ff9b,#64ff9b,#64ff9b,#64ff9b,#64ff9b,#64ff9b,#64ff9b,#64ff9b,#64ff9b,#64ff9b,#64ff9b,#64ff9b,#64ff9b,#64ff9b,#64ff9b,#64ff9b,#64ff9b,#64ff9b,#64ff9b,#64ff9b,#64ff9b,#64ff9b,#64ff9b,#64ff9b,#64ff9b,#64ff9b,#64ff9b,#64ff9b,#64ff9b,#64ff9b,#64ff9b,#64ff9b 135.25px)}
.c1{background:repeating-linear-gradient(90deg,#65ff9a,#65ff9a,#65ff9a,#65ff9a,#65ff9a,#65ff9a,#65ff9a,#65ff9a,#65ff9a,#64ff9b,#64ff9b,#64ff9b,#64ff9b,#64ff9b,#64ff9b,#64ff9b,#64ff9b,#64ff9b,#64ff9b,#64ff9b,#64ff9b,#64ff9b,#64ff9b,#64ff9b,#64ff9b,#64ff9b,#64ff9b,#64ff9b,#65ff9a,#65ff9a,#65ff9a,#65ff9a,#65ff9a,#65ff9a,#65ff9a,#65ff9a,#65ff9a 135.25px)}
.c2{background:repeating-linear-gradient(90deg,#67ff98,#67ff98,#67ff98,#67ff98,#66ff99,#66ff99,#66ff99,#66ff99,#65ff9a,#65ff9a,#65ff9a,#65ff9a,#64ff9b,#64ff9b,#64ff9b,#64ff9b,#64ff9b,#64ff9b,#64ff9b,#64ff9b,#64ff9b,#64ff9b,#64ff9b,#64ff9b,#64ff9b,#64ff9b,#65ff9a,#65ff9a,#65ff9a,#66ff99,#66ff99,#66ff99,#66ff99,#66ff99,#67ff98,#67ff98,#67ff98 135.25px)}
.c3{background:repeating-linear-gradient(90deg,#6aff95,#6aff95,#69ff96,#69ff96,#69ff96,#68ff97,#68ff97,#67ff98,#67ff98,#66ff99,#65ff9a,#65ff9a,#64ff9b,#64ff9b,#64ff9b,#64ff9b,#64ff9b,#64ff9b,#64ff9b,#64ff9b,#64ff9b,#64ff9b,#64ff9b,#64ff9b,#64ff9b,#65ff9a,#65ff9a,#66ff99,#66ff99,#67ff98,#68ff97,#68ff97,#69ff96,#69ff96,#69ff96,#6aff95,#6aff95 135.25px)}
.c4{background:repeating-linear-gradient(90deg,#6eff91,#6eff91,#6dff92,#6dff92,#6cff93,#6bff94,#6aff95,#69ff96,#68ff97,#67ff98,#66ff99,#65ff9a,#65ff9a,#64ff9b,#64ff9b,#64ff9b,#64ff9b,#65ff9a,#65ff9a,#65ff9a,#64ff9b,#64ff9b,#64ff9b,#64ff9b,#64ff9b,#65ff9a,#66ff99,#67ff98,#68ff97,#69ff96,#6aff95,#6bff94,#6cff93,#6cff93,#6dff92,#6dff92,#6eff91 135.25px)}
.c5{background:repeating-linear-gradient(90deg,#72ff8d,#72ff8d,#72ff8d,#71ff8e,#70ff8f,#6fff90,#6eff91,#6cff93,#6aff95,#69ff96,#67ff98,#66ff99,#65ff9a,#64ff9b,#64ff9b,#64ff9b,#64ff9b,#65ff9a,#65ff9a,#65ff9a,#64ff9b,#64ff9b,#64ff9b,#64ff9b,#65ff9a,#66ff99,#67ff98,#68ff97,#6aff95,#6cff93,#6dff92,#6eff91,#70ff8f,#71ff8e,#71ff8e,#72ff8d,#72ff8d 135.25px)}
.c6{background:repeating-linear-gradient(90deg,#78ff87,#78ff87,#77ff88,#76ff89,#74ff8b,#73ff8c,#71ff8e,#6fff90,#6dff92,#6bff94,#68ff97,#66ff99,#65ff9a,#64ff9b,#64ff9b,#64ff9b,#64ff9b,#65ff9a,#65ff9a,#65ff9a,#64ff9b,#64ff9b,#64ff9b,#64ff9b,#65ff9a,#66ff99,#68ff97,#6aff95,#6cff93,#6eff91,#71ff8e,#72ff8d,#74ff8b,#75ff8a,#77ff88,#77ff88,#78ff87 135.25px)}
.c7{background:repeating-linear-gradient(90deg,#7eff81,#7eff81,#7cff83,#7bff84,#79ff86,#77ff88,#75ff8a,#72ff8d,#6fff90,#6cff93,#6aff95,#67ff98,#65ff9a,#64ff9b,#64ff9b,#64ff9b,#64ff9b,#65ff9a,#65ff9a,#65ff9a,#64ff9b,#64ff9b,#64ff9b,#64ff9b,#65ff9a,#67ff98,#69ff96,#6cff93,#6fff90,#72ff8d,#74ff8b,#77ff88,#79ff86,#7bff84,#7cff83,#7dff82,#7eff81 135.25px)}
.c8{background:repeating-linear-gradient(90deg,#84ff7b,#84ff7b,#83ff7c,#81ff7e,#7eff81,#7cff83,#79ff86,#76ff89,#72ff8d,#6fff90,#6bff94,#68ff97,#66ff99,#65ff9a,#64ff9b,#64ff9b,#64ff9b,#65ff9a,#65ff9a,#65ff9a,#64ff9b,#64ff9b,#64ff9b,#64ff9b,#66ff99,#68ff97,#6aff95,#6eff91,#71ff8e,#75ff8a,#78ff87,#7bff84,#7eff81,#80ff7f,#82ff7d,#84ff7b,#84ff7b 135.25px)}
.c9{background:repeating-linear-gradient(90deg,#8bff74,#8bff74,#89ff76,#87ff78,#84ff7b,#81ff7e,#7dff82,#79ff86,#75ff8a,#71ff8e,#6dff92,#69ff96,#67ff98,#65ff9a,#64ff9b,#64ff9b,#64ff9b,#65ff9a,#65ff9a,#65ff9a,#64ff9b,#64ff9b,#64ff9b,#65ff9a,#66ff99,#68ff97,#6cff93,#70ff8f,#74ff8b,#78ff87,#7cff83,#80ff7f,#83ff7c,#86ff79,#88ff77,#8aff75,#8bff74 135.25px)}
.c10{background:repeating-linear-gradient(90deg,#92ff6d,#91ff6e,#90ff6f,#8dff72,#89ff76,#86ff79,#82ff7d,#7dff82,#78ff87,#73ff8c,#6eff91,#6aff95,#67ff98,#65ff9a,#64ff9b,#64ff9b,#64ff9b,#64ff9b,#65ff9a,#64ff9b,#64ff9b,#64ff9b,#64ff9b,#65ff9a,#67ff98,#69ff96,#6dff92,#72ff8d,#77ff88,#7cff83,#80ff7f,#85ff7a,#89ff76,#8cff73,#8fff70,#91ff6e,#92ff6d 135.25px)}
.c11{background:repeating-linear-gradient(90deg,#99ff66,#98ff67,#96ff69,#93ff6c,#8fff70,#8bff74,#86ff79,#81ff7e,#7bff84,#75ff8a,#70ff8f,#6bff94,#68ff97,#66ff99,#65ff9a,#64ff9b,#64ff9b,#64ff9b,#64ff9b,#64ff9b,#64ff9b,#64ff9b,#65ff9a,#65ff9a,#67ff98,#6aff95,#6fff90,#74ff8b,#7aff85,#7fff80,#85ff7a,#8aff75,#8eff71,#92ff6d,#95ff6a,#98ff67,#99ff66 135.25px)}
.c12{background:repeating-linear-gradient(90deg,#a0ff5f,#9fff60,#9dff62,#99ff66,#95ff6a,#90ff6f,#8aff75,#84ff7b,#7eff81,#78ff87,#72ff8d,#6dff92,#69ff96,#66ff99,#65ff9a,#64ff9b,#64ff9b,#64ff9b,#64ff9b,#64ff9b,#64ff9b,#64ff9b,#65ff9a,#66ff99,#68ff97,#6cff93,#70ff8f,#76ff89,#7cff83,#83ff7c,#89ff76,#8eff71,#93ff6c,#98ff67,#9cff63,#9fff60,#a0ff5f 135.25px)}
.c13{background:repeating-linear-gradient(90deg,#a7ff58,#a6ff59,#a3ff5c,#9fff60,#9aff65,#94ff6b,#8eff71,#88ff77,#81ff7e,#7aff85,#74ff8b,#6eff91,#6aff95,#67ff98,#65ff9a,#64ff9b,#64ff9b,#64ff9b,#64ff9b,#64ff9b,#64ff9b,#64ff9b,#65ff9a,#66ff99,#69ff96,#6dff92,#72ff8d,#78ff87,#7fff80,#86ff79,#8cff73,#93ff6c,#98ff67,#9eff61,#a2ff5d,#a5ff5a,#a7ff58 135.25px)}
.c14{background:repeating-linear-gradient(90deg,#adff52,#acff53,#a9ff56,#a5ff5a,#9fff60,#99ff66,#92ff6d,#8bff74,#84ff7b,#7cff83,#76ff89,#6fff90,#6bff94,#67ff98,#66ff99,#65ff9a,#64ff9b,#64ff9b,#63ff9c,#64ff9b,#64ff9b,#64ff9b,#65ff9a,#67ff98,#6aff95,#6eff91,#74ff8b,#7aff85,#82ff7d,#89ff76,#90ff6f,#97ff68,#9dff62,#a3ff5c,#a8ff57,#abff54,#adff52 135.25px)}
.c15{background:repeating-linear-gradient(90deg,#b3ff4c,#b2ff4d,#afff50,#aaff55,#a4ff5b,#9dff62,#96ff69,#8eff71,#86ff79,#7eff81,#77ff88,#71ff8e,#6cff93,#68ff97,#66ff99,#65ff9a,#64ff9b,#63ff9c,#63ff9c,#63ff9c,#64ff9b,#64ff9b,#66ff99,#67ff98,#6aff95,#6fff90,#75ff8a,#7dff82,#84ff7b,#8cff73,#94ff6b,#9bff64,#a2ff5d,#a8ff57,#aeff51,#b2ff4d,#b3ff4c 135.25px)}
.c16{background:repeating-linear-gradient(90deg,#b9ff46,#b8ff47,#b4ff4b,#afff50,#a8ff57,#a1ff5e,#99ff66,#91ff6e,#89ff76,#80ff7f,#79ff86,#72ff8d,#6cff93,#69ff96,#66ff99,#65ff9a,#64ff9b,#63ff9c,#63ff9c,#63ff9c,#64ff9b,#64ff9b,#66ff99,#68ff97,#6bff94,#70ff8f,#77ff88,#7eff81,#86ff79,#8fff70,#97ff68,#9fff60,#a6ff59,#adff52,#b3ff4c,#b7ff48,#b9ff46 135.25px)}
.c17{background:repeating-linear-gradient(90deg,#beff41,#bdff42,#b9ff46,#b4ff4b,#adff52,#a5ff5a,#9cff63,#93ff6c,#8bff74,#82ff7d,#7aff85,#73ff8c,#6dff92,#69ff96,#67ff98,#65ff9a,#64ff9b,#63ff9c,#63ff9c,#63ff9c,#63ff9c,#64ff9b,#66ff99,#68ff97,#6cff93,#71ff8e,#78ff87,#80ff7f,#88ff77,#91ff6e,#9aff65,#a2ff5d,#abff54,#b2ff4d,#b8ff47,#bcff43,#beff41 135.25px)}
.c18{background:repeating-linear-gradient(90deg,#c3ff3c,#c2ff3d,#beff41,#b8ff47,#b0ff4f,#a8ff57,#9fff60,#96ff69,#8dff72,#84ff7b,#7cff83,#74ff8b,#6eff91,#6aff95,#67ff98,#65ff9a,#64ff9b,#63ff9c,#63ff9c,#63ff9c,#63ff9c,#64ff9b,#66ff99,#69ff96,#6dff92,#72ff8d,#7aff85,#82ff7d,#8aff75,#93ff6c,#9cff63,#a5ff5a,#aeff51,#b6ff49,#bdff42,#c1ff3e,#c3ff3c 135.25px)}
.c19{background:repeating-linear-gradient(90deg,#c7ff38,#c6ff39,#c2ff3d,#bcff43,#b4ff4b,#abff54,#a1ff5e,#98ff67,#8eff71,#85ff7a,#7dff82,#75ff8a,#6fff90,#6aff95,#67ff98,#65ff9a,#64ff9b,#63ff9c,#63ff9c,#63ff9c,#63ff9c,#64ff9b,#66ff99,#69ff96,#6dff92,#73ff8c,#7bff84,#83ff7c,#8cff73,#95ff6a,#9fff60,#a8ff57,#b1ff4e,#baff45,#c1ff3e,#c5ff3a,#c7ff38 135.25px)}
.c20{background:repeating-linear-gradient(90deg,#cbff34,#caff35,#c6ff39,#bfff40,#b7ff48,#adff52,#a3ff5c,#99ff66,#90ff6f,#86ff79,#7eff81,#76ff89,#6fff90,#6aff95,#67ff98,#65ff9a,#64ff9b,#63ff9c,#63ff9c,#63ff9c,#63ff9c,#64ff9b,#66ff99,#69ff96,#6eff91,#74ff8b,#7bff84,#84ff7b,#8dff72,#97ff68,#a0ff5f,#abff54,#b4ff4b,#bdff42,#c4ff3b,#c9ff36,#cbff34 135.25px)}
.c21{background:repeating-linear-gradient(90deg,#ceff31,#cdff32,#c9ff36,#c2ff3d,#b9ff46,#afff50,#a5ff5a,#9aff65,#91ff6e,#87ff78,#7eff81,#76ff89,#6fff90,#6aff95,#67ff98,#65ff9a,#64ff9b,#63ff9c,#63ff9c,#63ff9c,#63ff9c,#64ff9b,#66ff99,#69ff96,#6eff91,#74ff8b,#7cff83,#85ff7a,#8eff71,#98ff67,#a2ff5d,#acff53,#b7ff48,#c0ff3f,#c7ff38,#ccff33,#ceff31 135.25px)}
.c22{background:repeating-linear-gradient(90deg,#d0ff2f,#cfff30,#cbff34,#c4ff3b,#bbff44,#b1ff4e,#a6ff59,#9bff64,#91ff6e,#87ff78,#7eff81,#76ff89,#6fff90,#6aff95,#67ff98,#65ff9a,#64ff9b,#64ff9b,#64ff9b,#64ff9b,#64ff9b,#64ff9b,#66ff99,#69ff96,#6eff91,#74ff8b,#7cff83,#85ff7a,#8fff70,#99ff66,#a3ff5c,#aeff51,#b8ff47,#c2ff3d,#c9ff36,#ceff31,#d0ff2f 135.25px)}
.c23{background:repeating-linear-gradient(90deg,#d2ff2d,#d0ff2f,#ccff33,#c5ff3a,#bcff43,#b2ff4d,#a7ff58,#9cff63,#91ff6e,#88ff77,#7eff81,#76ff89,#6fff90,#6aff95,#66ff99,#64ff9b,#64ff9b,#64ff9b,#65ff9a,#65ff9a,#64ff9b,#64ff9b,#66ff99,#69ff96,#6eff91,#74ff8b,#7cff83,#85ff7a,#8fff70,#99ff66,#a4ff5b,#afff50,#b9ff46,#c3ff3c,#cbff34,#d0ff2f,#d2ff2d 135.25px)}
.c24{background:repeating-linear-gradient(90deg,#d2ff2d,#d1ff2e,#cdff32,#c6ff39,#bdff42,#b2ff4d,#a7ff58,#9cff63,#91ff6e,#87ff78,#7eff81,#76ff89,#6fff90,#69ff96,#66ff99,#64ff9b,#64ff9b,#65ff9a,#66ff99,#66ff99,#64ff9b,#64ff9b,#65ff9a,#68ff97,#6dff92,#74ff8b,#7cff83,#85ff7a,#8eff71,#99ff66,#a4ff5b,#afff50,#baff45,#c4ff3b,#cbff34,#d0ff2f,#d2ff2d 135.25px)}
.c25{background:repeating-linear-gradient(90deg,#d2ff2d,#d1ff2e,#ccff33,#c6ff39,#bcff43,#b2ff4d,#a7ff58,#9bff64,#91ff6e,#86ff79,#7dff82,#75ff8a,#6eff91,#68ff97,#65ff9a,#64ff9b,#64ff9b,#66ff99,#67ff98,#67ff98,#65ff9a,#64ff9b,#64ff9b,#67ff98,#6cff93,#73ff8c,#7bff84,#84ff7b,#8eff71,#98ff67,#a4ff5b,#afff50,#baff45,#c3ff3c,#cbff34,#d0ff2f,#d2ff2d 135.25px)}
.c26{background:repeating-linear-gradient(90deg,#d1ff2e,#d0ff2f,#cbff34,#c5ff3a,#bcff43,#b1ff4e,#a6ff59,#9aff65,#90ff6f,#85ff7a,#7cff83,#74ff8b,#6dff92,#68ff97,#64ff9b,#63ff9c,#65ff9a,#68ff97,#69ff96,#68ff97,#66ff99,#64ff9b,#64ff9b,#66ff99,#6bff94,#72ff8d,#7aff85,#83ff7c,#8dff72,#97ff68,#a3ff5c,#aeff51,#b9ff46,#c2ff3d,#caff35,#cfff30,#d1ff2e 135.25px)}
.c27{background:repeating-linear-gradient(90deg,#cfff30,#ceff31,#caff35,#c3ff3c,#baff45,#b0ff4f,#a4ff5b,#99ff66,#8eff71,#84ff7b,#7bff84,#72ff8d,#6cff93,#67ff98,#63ff9c,#63ff9c,#65ff9a,#69ff96,#6bff94,#6aff95,#66ff99,#63ff9c,#63ff9c,#66ff99,#6aff95,#70ff8f,#78ff87,#81ff7e,#8bff74,#96ff69,#a1ff5e,#adff52,#b7ff48,#c1ff3e,#c8ff37,#cdff32,#cfff30 135.25px)}
.c28{background:repeating-linear-gradient(90deg,#ccff33,#cbff34,#c7ff38,#c1ff3e,#b8ff47,#aeff51,#a2ff5d,#97ff68,#8cff73,#82ff7d,#79ff86,#71ff8e,#6bff94,#66ff99,#63ff9c,#63ff9c,#66ff99,#6aff95,#6dff92,#6bff94,#67ff98,#63ff9c,#62ff9d,#65ff9a,#69ff96,#6fff90,#77ff88,#80ff7f,#89ff76,#94ff6b,#9fff60,#abff54,#b5ff4a,#beff41,#c5ff3a,#caff35,#ccff33 135.25px)}
.c29{background:repeating-linear-gradient(90deg,#c8ff37,#c7ff38,#c3ff3c,#bdff42,#b5ff4a,#abff54,#a0ff5f,#95ff6a,#8aff75,#80ff7f,#77ff88,#70ff8f,#69ff96,#65ff9a,#62ff9d,#63ff9c,#67ff98,#6cff93,#6fff90,#6dff92,#68ff97,#63ff9c,#62ff9d,#64ff9b,#68ff97,#6eff91,#75ff8a,#7eff81,#87ff78,#92ff6d,#9dff62,#a8ff57,#b2ff4d,#bbff44,#c2ff3d,#c6ff39,#c8ff37 135.25px)}
.c30{background:repeating-linear-gradient(90deg,#c4ff3b,#c3ff3c,#bfff40,#b9ff46,#b1ff4e,#a7ff58,#9dff62,#92ff6d,#87ff78,#7eff81,#75ff8a,#6eff91,#68ff97,#64ff9b,#61ff9e,#62ff9d,#67ff98,#6dff92,#71ff8e,#6fff90,#69ff96,#63ff9c,#61ff9e,#63ff9c,#67ff98,#6cff93,#73ff8c,#7bff84,#85ff7a,#8fff70,#9aff65,#a4ff5b,#afff50,#b7ff48,#beff41,#c2ff3d,#c4ff3b 135.25px)}
.c31{background:repeating-linear-gradient(90deg,#beff41,#bdff42,#baff45,#b4ff4b,#acff53,#a3ff5c,#99ff66,#8eff71,#84ff7b,#7bff84,#73ff8c,#6cff93,#67ff98,#63ff9c,#61ff9e,#62ff9d,#68ff97,#6fff90,#73ff8c,#71ff8e,#6aff95,#64ff9b,#61ff9e,#62ff9d,#66ff99,#6bff94,#71ff8e,#79ff86,#82ff7d,#8cff73,#96ff69,#a0ff5f,#aaff55,#b2ff4d,#b9ff46,#bdff42,#beff41 135.25px)}
.c32{background:repeating-linear-gradient(90deg,#b8ff47,#b7ff48,#b4ff4b,#aeff51,#a7ff58,#9eff61,#94ff6b,#8aff75,#81ff7e,#78ff87,#71ff8e,#6bff94,#66ff99,#62ff9d,#61ff9e,#63ff9c,#69ff96,#71ff8e,#75ff8a,#72ff8d,#6bff94,#64ff9b,#61ff9e,#62ff9d,#65ff9a,#6aff95,#6fff90,#76ff89,#7eff81,#88ff77,#92ff6d,#9cff63,#a5ff5a,#adff52,#b3ff4c,#b7ff48,#b8ff47 135.25px)}
.c33{background:repeating-linear-gradient(90deg,#b1ff4e,#b0ff4f,#adff52,#a8ff57,#a1ff5e,#98ff67,#8fff70,#86ff79,#7dff82,#75ff8a,#6fff90,#69ff96,#65ff9a,#62ff9d,#61ff9e,#63ff9c,#6aff95,#72ff8d,#77ff88,#74ff8b,#6cff93,#65ff9a,#61ff9e,#61ff9e,#64ff9b,#68ff97,#6dff92,#73ff8c,#7bff84,#84ff7b,#8dff72,#96ff69,#9fff60,#a6ff59,#acff53,#b0ff4f,#b1ff4e 135.25px)}
.c34{background:repeating-linear-gradient(90deg,#aaff55,#a9ff56,#a6ff59,#a0ff5f,#9aff65,#92ff6d,#89ff76,#81ff7e,#79ff86,#72ff8d,#6cff93,#68ff97,#65ff9a,#62ff9d,#61ff9e,#64ff9b,#6bff94,#74ff8b,#79ff86,#76ff89,#6eff91,#65ff9a,#61ff9e,#61ff9e,#64ff9b,#67ff98,#6bff94,#70ff8f,#77ff88,#7fff80,#87ff78,#90ff6f,#98ff67,#9fff60,#a4ff5b,#a8ff57,#aaff55 135.25px)}
.c35{background:repeating-linear-gradient(90deg,#a1ff5e,#a0ff5f,#9dff62,#98ff67,#92ff6d,#8aff75,#83ff7c,#7bff84,#74ff8b,#6eff91,#6aff95,#67ff98,#64ff9b,#62ff9d,#61ff9e,#65ff9a,#6dff92,#76ff89,#7bff84,#78ff87,#6fff90,#66ff99,#62ff9d,#62ff9d,#64ff9b,#66ff99,#69ff96,#6dff92,#73ff8c,#79ff86,#81ff7e,#88ff77,#90ff6f,#96ff69,#9cff63,#a0ff5f,#a1ff5e 135.25px)}
.c36{background:repeating-linear-gradient(90deg,#98ff67,#97ff68,#94ff6b,#8fff70,#89ff76,#82ff7d,#7cff83,#75ff8a,#6fff90,#6bff94,#68ff97,#66ff99,#64ff9b,#62ff9d,#62ff9d,#66ff99,#6eff91,#77ff88,#7dff82,#79ff86,#70ff8f,#67ff98,#63ff9c,#62ff9d,#64ff9b,#65ff9a,#67ff98,#6aff95,#6eff91,#73ff8c,#7aff85,#81ff7e,#87ff78,#8eff71,#93ff6c,#96ff69,#98ff67 135.25px)}
.c37{background:repeating-linear-gradient(90deg,#8eff71,#8dff72,#8aff75,#85ff7a,#80ff7f,#7aff85,#74ff8b,#6eff91,#6aff95,#67ff98,#65ff9a,#64ff9b,#64ff9b,#63ff9c,#63ff9c,#67ff98,#6fff90,#79ff86,#7eff81,#7bff84,#72ff8d,#69ff96,#64ff9b,#63ff9c,#63ff9c,#64ff9b,#65ff9a,#66ff99,#69ff96,#6dff92,#72ff8d,#78ff87,#7eff81,#84ff7b,#89ff76,#8dff72,#8eff71 135.25px)}
.c38{background:repeating-linear-gradient(90deg,#84ff7b,#83ff7c,#80ff7f,#7bff84,#76ff89,#70ff8f,#6bff94,#67ff98,#64ff9b,#62ff9d,#62ff9d,#63ff9c,#63ff9c,#63ff9c,#64ff9b,#68ff97,#70ff8f,#7aff85,#80ff7f,#7cff83,#73ff8c,#6aff95,#65ff9a,#63ff9c,#63ff9c,#63ff9c,#62ff9d,#62ff9d,#64ff9b,#66ff99,#6aff95,#6fff90,#74ff8b,#7aff85,#7fff80,#83ff7c,#84ff7b 135.25px)}
.c39{background:repeating-linear-gradient(90deg,#7aff85,#79ff86,#76ff89,#71ff8e,#6cff93,#67ff98,#63ff9c,#60ff9f,#5effa1,#5effa1,#5fffa0,#61ff9e,#63ff9c,#64ff9b,#65ff9a,#69ff96,#72ff8d,#7bff84,#81ff7e,#7eff81,#74ff8b,#6bff94,#65ff9a,#64ff9b,#63ff9c,#62ff9d,#60ff9f,#5effa1,#5effa1,#5fffa0,#62ff9d,#66ff99,#6aff95,#70ff8f,#75ff8a,#78ff87,#7aff85 135.25px)}
.c40{background:repeating-linear-gradient(90deg,#70ff8f,#6fff90,#6bff94,#66ff99,#61ff9e,#5dffa2,#59ffa6,#57ffa8,#57ffa8,#59ffa6,#5cffa3,#5fffa0,#62ff9d,#64ff9b,#65ff9a,#6aff95,#73ff8c,#7dff82,#82ff7d,#7fff80,#75ff8a,#6cff93,#66ff99,#64ff9b,#63ff9c,#60ff9f,#5cffa3,#59ffa6,#57ffa8,#57ffa8,#59ffa6,#5cffa3,#60ff9f,#65ff9a,#6aff95,#6eff91,#70ff8f 135.25px)}
.c41{background:repeating-linear-gradient(90deg,#65ff9a,#64ff9b,#60ff9f,#5cffa3,#57ffa8,#52ffad,#50ffaf,#4fffb0,#50ffaf,#53ffac,#57ffa8,#5dffa2,#61ff9e,#63ff9c,#66ff99,#6aff95,#74ff8b,#7eff81,#83ff7c,#80ff7f,#76ff89,#6dff92,#67ff98,#64ff9b,#62ff9d,#5effa1,#59ffa6,#54ffab,#51ffae,#4fffb0,#4fffb0,#52ffad,#55ffaa,#5affa5,#5fffa0,#63ff9c,#65ff9a 135.25px)}
.c42{background:repeating-linear-gradient(90deg,#5bffa4,#5affa5,#56ffa9,#51ffae,#4cffb3,#48ffb7,#46ffb9,#46ffb9,#48ffb7,#4dffb2,#53ffac,#59ffa6,#5fffa0,#63ff9c,#66ff99,#6bff94,#74ff8b,#7fff80,#84ff7b,#81ff7e,#77ff88,#6dff92,#67ff98,#63ff9c,#60ff9f,#5bffa4,#55ffaa,#4effb1,#49ffb6,#46ffb9,#46ffb9,#47ffb8,#4bffb4,#4fffb0,#55ffaa,#59ffa6,#5bffa4 135.25px)}
.c43{background:repeating-linear-gradient(90deg,#51ffae,#50ffaf,#4cffb3,#46ffb9,#41ffbe,#3dffc2,#3cffc3,#3dffc2,#40ffbf,#46ffb9,#4effb1,#56ffa9,#5dffa2,#61ff9e,#65ff9a,#6bff94,#75ff8a,#7fff80,#85ff7a,#81ff7e,#78ff87,#6dff92,#66ff99,#62ff9d,#5effa1,#58ffa7,#50ffaf,#48ffb7,#42ffbd,#3dffc2,#3cffc3,#3dffc2,#40ffbf,#45ffba,#4affb5,#4fffb0,#51ffae 135.25px)}
.c44{background:repeating-linear-gradient(90deg,#48ffb7,#46ffb9,#42ffbd,#3cffc3,#37ffc8,#33ffcc,#31ffce,#33ffcc,#38ffc7,#3fffc0,#48ffb7,#51ffae,#5affa5,#5fffa0,#64ff9b,#6bff94,#75ff8a,#80ff7f,#86ff79,#82ff7d,#78ff87,#6dff92,#65ff9a,#60ff9f,#5bffa4,#54ffab,#4affb5,#41ffbe,#39ffc6,#34ffcb,#32ffcd,#32ffcd,#35ffca,#3affc5,#40ffbf,#45ffba,#48ffb7 135.25px)}
.c45{background:repeating-linear-gradient(90deg,#3fffc0,#3dffc2,#38ffc7,#32ffcd,#2cffd3,#28ffd7,#27ffd8,#29ffd6,#2fffd0,#37ffc8,#41ffbe,#4cffb3,#56ffa9,#5cffa3,#62ff9d,#6aff95,#75ff8a,#80ff7f,#86ff79,#82ff7d,#78ff87,#6cff93,#64ff9b,#5effa1,#58ffa7,#4fffb0,#44ffbb,#39ffc6,#31ffce,#2affd5,#27ffd8,#28ffd7,#2bffd4,#30ffcf,#37ffc8,#3cffc3,#3fffc0 135.25px)}
.c46{background:repeating-linear-gradient(90deg,#37ffc8,#35ffca,#30ffcf,#29ffd6,#22ffdd,#1effe1,#1dffe2,#1fffe0,#25ffda,#2effd1,#3affc5,#46ffb9,#51ffae,#59ffa6,#60ff9f,#68ff97,#74ff8b,#80ff7f,#87ff78,#83ff7c,#78ff87,#6bff94,#62ff9d,#5bffa4,#53ffac,#49ffb6,#3dffc2,#31ffce,#27ffd8,#20ffdf,#1dffe2,#1dffe2,#21ffde,#27ffd8,#2effd1,#34ffcb,#37ffc8 135.25px)}
.c47{background:repeating-linear-gradient(90deg,#2fffd0,#2dffd2,#27ffd8,#20ffdf,#19ffe6,#14ffeb,#12ffed,#14ffeb,#1bffe4,#25ffda,#32ffcd,#3fffc0,#4bffb4,#55ffaa,#5dffa2,#67ff98,#74ff8b,#80ff7f,#87ff78,#83ff7c,#77ff88,#6aff95,#5fffa0,#57ffa8,#4effb1,#42ffbd,#35ffca,#28ffd7,#1dffe2,#16ffe9,#12ffed,#13ffec,#17ffe8,#1effe1,#25ffda,#2cffd3,#2fffd0 135.25px)}
.c48{background:repeating-linear-gradient(90deg,#28ffd7,#26ffd9,#20ffdf,#17ffe8,#10ffef,#0afff5,#08fff7,#0afff5,#11ffee,#1bffe4,#29ffd6,#37ffc8,#45ffba,#50ffaf,#59ffa6,#64ff9b,#73ff8c,#80ff7f,#87ff78,#83ff7c,#77ff88,#68ff97,#5cffa3,#52ffad,#48ffb7,#3bffc4,#2dffd2,#1fffe0,#13ffec,#0bfff4,#08fff7,#09fff6,#0efff1,#15ffea,#1dffe2,#24ffdb,#28ffd7 135.25px)}
.c49{background:repeating-linear-gradient(90deg,#21ffde,#1fffe0,#18ffe7,#0ffff0,#07fff8,#00ffff,#00fcff,#00feff,#06fff9,#11ffee,#20ffdf,#2fffd0,#3effc1,#4affb5,#55ffaa,#62ff9d,#71ff8e,#80ff7f,#88ff77,#83ff7c,#76ff89,#66ff99,#58ffa7,#4dffb2,#42ffbd,#33ffcc,#24ffdb,#15ffea,#09fff6,#01fffe,#00fcff,#00feff,#05fffa,#0dfff2,#16ffe9,#1dffe2,#21ffde 135.25px)}
.c50{background:repeating-linear-gradient(90deg,#1bffe4,#18ffe7,#11ffee,#08fff7,#00fdff,#00f6ff,#00f2ff,#00f4ff,#00fbff,#07fff8,#16ffe9,#27ffd8,#37ffc8,#45ffba,#51ffae,#5fffa0,#70ff8f,#80ff7f,#88ff77,#83ff7c,#74ff8b,#63ff9c,#54ffab,#48ffb7,#3bffc4,#2bffd4,#1bffe4,#0bfff4,#00fdff,#00f5ff,#00f2ff,#00f4ff,#00fbff,#05fffa,#0ffff0,#17ffe8,#1bffe4 135.25px)}
.c51{background:repeating-linear-gradient(90deg,#15ffea,#12ffed,#0bfff4,#01fffe,#00f5ff,#00edff,#00e8ff,#00e9ff,#00f0ff,#00fcff,#0dfff2,#1fffe0,#30ffcf,#3fffc0,#4dffb2,#5cffa3,#6eff91,#7fff80,#88ff77,#83ff7c,#73ff8c,#61ff9e,#50ffaf,#42ffbd,#34ffcb,#23ffdc,#11ffee,#01fffe,#00f3ff,#00ebff,#00e8ff,#00ebff,#00f3ff,#00fdff,#08fff7,#11ffee,#15ffea 135.25px)}
.c52{background:repeating-linear-gradient(90deg,#0ffff0,#0cfff3,#04fffb,#00f9ff,#00edff,#00e4ff,#00deff,#00dfff,#00e6ff,#00f2ff,#03fffc,#16ffe9,#28ffd7,#39ffc6,#48ffb7,#59ffa6,#6dff92,#7fff80,#88ff77,#82ff7d,#72ff8d,#5effa1,#4cffb3,#3dffc2,#2dffd2,#1bffe4,#08fff7,#00f6ff,#00e9ff,#00e0ff,#00deff,#00e2ff,#00eaff,#00f5ff,#02fffd,#0bfff4,#0ffff0 135.25px)}
.c53{background:repeating-linear-gradient(90deg,#09fff6,#07fff8,#00fdff,#00f2ff,#00e6ff,#00dbff,#00d5ff,#00d5ff,#00dcff,#00e8ff,#00f9ff,#0efff1,#21ffde,#33ffcc,#43ffbc,#56ffa9,#6bff94,#7fff80,#88ff77,#82ff7d,#71ff8e,#5bffa4,#48ffb7,#37ffc8,#26ffd9,#13ffec,#00feff,#00ecff,#00dfff,#00d7ff,#00d5ff,#00d9ff,#00e3ff,#00efff,#00faff,#05fffa,#09fff6 135.25px)}
.c54{background:repeating-linear-gradient(90deg,#04fffb,#01fffe,#00f7ff,#00ebff,#00deff,#00d3ff,#00ccff,#00ccff,#00d2ff,#00dfff,#00f0ff,#06fff9,#1affe5,#2dffd2,#3fffc0,#53ffac,#6aff95,#7eff81,#89ff76,#82ff7d,#70ff8f,#59ffa6,#44ffbb,#32ffcd,#1fffe0,#0bfff4,#00f6ff,#00e3ff,#00d5ff,#00cdff,#00cbff,#00d1ff,#00dbff,#00e8ff,#00f4ff,#00feff,#04fffb 135.25px)}
.c55{background:repeating-linear-gradient(90deg,#00fdff,#00fbff,#00f2ff,#00e5ff,#00d7ff,#00cbff,#00c4ff,#00c3ff,#00c9ff,#00d6ff,#00e8ff,#00fdff,#14ffeb,#28ffd7,#3bffc4,#50ffaf,#68ff97,#7eff81,#89ff76,#82ff7d,#6fff90,#56ffa9,#40ffbf,#2dffd2,#19ffe6,#04fffb,#00edff,#00daff,#00ccff,#00c4ff,#00c3ff,#00c9ff,#00d4ff,#00e1ff,#00eeff,#00f9ff,#00fdff 135.25px)}
.c56{background:repeating-linear-gradient(90deg,#00f8ff,#00f5ff,#00ecff,#00dfff,#00d1ff,#00c4ff,#00bcff,#00bbff,#00c1ff,#00cdff,#00e0ff,#00f6ff,#0efff1,#23ffdc,#37ffc8,#4dffb2,#67ff98,#7eff81,#89ff76,#82ff7d,#6eff91,#54ffab,#3dffc2,#28ffd7,#14ffeb,#00fcff,#00e6ff,#00d2ff,#00c4ff,#00bcff,#00bbff,#00c1ff,#00cdff,#00dbff,#00e9ff,#00f3ff,#00f8ff 135.25px)}
.c57{background:repeating-linear-gradient(90deg,#00f2ff,#00efff,#00e6ff,#00d9ff,#00caff,#00bdff,#00b4ff,#00b3ff,#00b9ff,#00c6ff,#00d9ff,#00f0ff,#08fff7,#1effe1,#34ffcb,#4bffb4,#66ff99,#7eff81,#8aff75,#83ff7c,#6dff92,#52ffad,#39ffc6,#24ffdb,#0efff1,#00f6ff,#00dfff,#00caff,#00bcff,#00b4ff,#00b3ff,#00baff,#00c6ff,#00d5ff,#00e3ff,#00edff,#00f2ff 135.25px)}
.c58{background:repeating-linear-gradient(90deg,#00edff,#00eaff,#00e0ff,#00d3ff,#00c4ff,#00b6ff,#00aeff,#00acff,#00b2ff,#00bfff,#00d3ff,#00ebff,#04fffb,#1bffe4,#31ffce,#49ffb6,#65ff9a,#7eff81,#8bff74,#83ff7c,#6cff93,#50ffaf,#37ffc8,#20ffdf,#0afff5,#00f1ff,#00d9ff,#00c4ff,#00b5ff,#00adff,#00acff,#00b4ff,#00c0ff,#00cfff,#00ddff,#00e8ff,#00edff 135.25px)}
.c59{background:repeating-linear-gradient(90deg,#00e7ff,#00e4ff,#00dbff,#00cdff,#00beff,#00b0ff,#00a7ff,#00a6ff,#00acff,#00b9ff,#00cdff,#00e6ff,#00ffff,#17ffe8,#2effd1,#47ffb8,#64ff9b,#7eff81,#8bff74,#83ff7c,#6cff93,#4fffb0,#34ffcb,#1dffe2,#07fff8,#00edff,#00d4ff,#00beff,#00aeff,#00a7ff,#00a6ff,#00adff,#00baff,#00c9ff,#00d7ff,#00e2ff,#00e7ff 135.25px)}
.c60{background:repeating-linear-gradient(90deg,#00e2ff,#00dfff,#00d5ff,#00c8ff,#00b9ff,#00abff,#00a2ff,#00a0ff,#00a6ff,#00b4ff,#00c9ff,#00e2ff,#00fcff,#15ffea,#2cffd3,#46ffb9,#64ff9b,#7fff80,#8cff73,#84ff7b,#6bff94,#4dffb2,#32ffcd,#1bffe4,#03fffc,#00e9ff,#00cfff,#00b9ff,#00a9ff,#00a1ff,#00a1ff,#00a8ff,#00b5ff,#00c4ff,#00d2ff,#00ddff,#00e2ff 135.25px)}
.c61{background:repeating-linear-gradient(90deg,#00ddff,#00daff,#00d0ff,#00c3ff,#00b4ff,#00a6ff,#009dff,#009bff,#00a1ff,#00afff,#00c5ff,#00dfff,#00f9ff,#13ffec,#2affd5,#44ffbb,#63ff9c,#7fff80,#8dff72,#84ff7b,#6bff94,#4cffb3,#31ffce,#19ffe6,#01fffe,#00e6ff,#00cbff,#00b4ff,#00a4ff,#009cff,#009cff,#00a3ff,#00b0ff,#00bfff,#00cdff,#00d8ff,#00ddff 135.25px)}
.c62{background:repeating-linear-gradient(90deg,#00d8ff,#00d5ff,#00ccff,#00beff,#00afff,#00a2ff,#0099ff,#0097ff,#009dff,#00abff,#00c1ff,#00dcff,#00f7ff,#11ffee,#29ffd6,#43ffbc,#63ff9c,#7fff80,#8eff71,#85ff7a,#6bff94,#4bffb4,#2fffd0,#17ffe8,#00feff,#00e3ff,#00c8ff,#00b1ff,#00a0ff,#0098ff,#0097ff,#009fff,#00abff,#00baff,#00c8ff,#00d3ff,#00d8ff 135.25px)}
.c63{background:repeating-linear-gradient(90deg,#00d4ff,#00d1ff,#00c8ff,#00baff,#00abff,#009eff,#0095ff,#0093ff,#009aff,#00a8ff,#00bfff,#00daff,#00f5ff,#10ffef,#28ffd7,#43ffbc,#63ff9c,#80ff7f,#8eff71,#85ff7a,#6bff94,#4bffb4,#2effd1,#16ffe9,#00fcff,#00e1ff,#00c5ff,#00adff,#009dff,#0094ff,#0094ff,#009bff,#00a7ff,#00b6ff,#00c4ff,#00cfff,#00d4ff 135.25px)}
.c64{background:repeating-linear-gradient(90deg,#00d0ff,#00ceff,#00c4ff,#00b7ff,#00a8ff,#009bff,#0092ff,#0091ff,#0097ff,#00a6ff,#00bcff,#00d8ff,#00f4ff,#0ffff0,#27ffd8,#42ffbd,#63ff9c,#80ff7f,#8fff70,#86ff79,#6bff94,#4affb5,#2effd1,#15ffea,#00fbff,#00e0ff,#00c4ff,#00abff,#009aff,#0092ff,#0091ff,#0098ff,#00a4ff,#00b3ff,#00c1ff,#00ccff,#00d0ff 135.25px)}
.c65{background:repeating-linear-gradient(90deg,#00ceff,#00cbff,#00c1ff,#00b4ff,#00a6ff,#0099ff,#0090ff,#008fff,#0095ff,#00a4ff,#00bbff,#00d7ff,#00f3ff,#0efff1,#26ffd9,#42ffbd,#63ff9c,#80ff7f,#90ff6f,#86ff79,#6bff94,#4affb5,#2dffd2,#14ffeb,#00fbff,#00dfff,#00c2ff,#00a9ff,#0098ff,#0090ff,#008fff,#0096ff,#00a2ff,#00b0ff,#00beff,#00c9ff,#00ceff 135.25px)}
.c66{background:repeating-linear-gradient(90deg,#00ccff,#00c9ff,#00bfff,#00b2ff,#00a4ff,#0097ff,#008fff,#008dff,#0094ff,#00a3ff,#00baff,#00d6ff,#00f3ff,#0efff1,#26ffd9,#42ffbd,#63ff9c,#81ff7e,#90ff6f,#87ff78,#6bff94,#4affb5,#2dffd2,#14ffeb,#00faff,#00deff,#00c1ff,#00a8ff,#0097ff,#008eff,#008dff,#0094ff,#00a0ff,#00aeff,#00bcff,#00c7ff,#00ccff 135.25px)}
.c67{background:repeating-linear-gradient(90deg,#00caff,#00c8ff,#00beff,#00b1ff,#00a3ff,#0096ff,#008eff,#008cff,#0093ff,#00a2ff,#00baff,#00d6ff,#00f3ff,#0dfff2,#26ffd9,#42ffbd,#63ff9c,#81ff7e,#90ff6f,#87ff78,#6bff94,#4affb5,#2dffd2,#14ffeb,#00faff,#00deff,#00c1ff,#00a8ff,#0096ff,#008dff,#008dff,#0093ff,#009fff,#00adff,#00bbff,#00c6ff,#00caff 135.25px)}
.d0{background:repeating-linear-gradient(90deg,#00dbff,#00dbff,#00d9ff,#00d5ff,#00d1ff,#00cbff,#00c5ff,#00beff,#00b6ff,#00aeff,#00a5ff,#009bff,#0092ff,#008bff,#0085ff,#0080ff,#007dff,#007aff,#0079ff,#0079ff,#007bff,#007fff,#0083ff,#0088ff,#008fff,#0097ff,#00a0ff,#00aaff,#00b2ff,#00baff,#00c2ff,#00c9ff,#00ceff,#00d3ff,#00d7ff,#00daff,#00dbff 135.25px)}
.d1{background:repeating-linear-gradient(90deg,#00dcff,#00dbff,#00d9ff,#00d6ff,#00d1ff,#00ccff,#00c6ff,#00bfff,#00b7ff,#00aeff,#00a5ff,#009cff,#0093ff,#008cff,#0086ff,#0081ff,#007dff,#007aff,#0079ff,#007aff,#007cff,#007fff,#0083ff,#0089ff,#008fff,#0097ff,#00a1ff,#00aaff,#00b3ff,#00bbff,#00c2ff,#00c9ff,#00cfff,#00d4ff,#00d8ff,#00dbff,#00dcff 135.25px)}
.d2{background:repeating-linear-gradient(90deg,#00deff,#00ddff,#00dbff,#00d8ff,#00d3ff,#00cdff,#00c7ff,#00c0ff,#00b8ff,#00b0ff,#00a7ff,#009dff,#0095ff,#008dff,#0087ff,#0082ff,#007eff,#007cff,#007aff,#007bff,#007dff,#0080ff,#0085ff,#008aff,#0091ff,#0099ff,#00a2ff,#00acff,#00b4ff,#00bdff,#00c4ff,#00caff,#00d0ff,#00d5ff,#00daff,#00dcff,#00deff 135.25px)}
.d3{background:repeating-linear-gradient(90deg,#00e0ff,#00e0ff,#00deff,#00daff,#00d5ff,#00d0ff,#00c9ff,#00c2ff,#00bbff,#00b2ff,#00a9ff,#00a0ff,#0097ff,#008fff,#0089ff,#0084ff,#0080ff,#007eff,#007cff,#007dff,#007fff,#0082ff,#0087ff,#008cff,#0093ff,#009bff,#00a5ff,#00aeff,#00b7ff,#00bfff,#00c6ff,#00cdff,#00d3ff,#00d8ff,#00dcff,#00dfff,#00e0ff 135.25px)}
.d4{background:repeating-linear-gradient(90deg,#00e4ff,#00e3ff,#00e1ff,#00ddff,#00d8ff,#00d3ff,#00cdff,#00c6ff,#00beff,#00b5ff,#00acff,#00a3ff,#009aff,#0092ff,#008cff,#0087ff,#0083ff,#0080ff,#007fff,#0080ff,#0082ff,#0085ff,#008aff,#008fff,#0096ff,#009fff,#00a8ff,#00b1ff,#00baff,#00c2ff,#00c9ff,#00d0ff,#00d6ff,#00dbff,#00dfff,#00e2ff,#00e4ff 135.25px)}
.d5{background:repeating-linear-gradient(90deg,#00e8ff,#00e8ff,#00e5ff,#00e1ff,#00dcff,#00d7ff,#00d0ff,#00c9ff,#00c2ff,#00b9ff,#00b0ff,#00a7ff,#009eff,#0096ff,#0090ff,#008aff,#0086ff,#0084ff,#0082ff,#0083ff,#0085ff,#0088ff,#008dff,#0093ff,#009aff,#00a2ff,#00acff,#00b5ff,#00beff,#00c6ff,#00cdff,#00d4ff,#00daff,#00dfff,#00e3ff,#00e7ff,#00e8ff 135.25px)}
.d6{background:repeating-linear-gradient(90deg,#00edff,#00edff,#00eaff,#00e6ff,#00e1ff,#00dbff,#00d5ff,#00ceff,#00c6ff,#00bdff,#00b4ff,#00abff,#00a2ff,#009aff,#0094ff,#008eff,#008aff,#0087ff,#0086ff,#0087ff,#0089ff,#008cff,#0091ff,#0097ff,#009eff,#00a7ff,#00b0ff,#00b9ff,#00c2ff,#00caff,#00d1ff,#00d8ff,#00deff,#00e3ff,#00e8ff,#00ebff,#00edff 135.25px)}
.d7{background:repeating-linear-gradient(90deg,#00f3ff,#00f2ff,#00efff,#00ebff,#00e6ff,#00e0ff,#00daff,#00d2ff,#00cbff,#00c2ff,#00b9ff,#00b0ff,#00a7ff,#009fff,#0098ff,#0092ff,#008eff,#008bff,#008aff,#008bff,#008dff,#0090ff,#0095ff,#009bff,#00a3ff,#00abff,#00b4ff,#00beff,#00c7ff,#00cfff,#00d6ff,#00ddff,#00e3ff,#00e9ff,#00edff,#00f1ff,#00f3ff 135.25px)}
.d8{background:repeating-linear-gradient(90deg,#00f9ff,#00f8ff,#00f5ff,#00f1ff,#00ebff,#00e5ff,#00dfff,#00d7ff,#00cfff,#00c7ff,#00beff,#00b4ff,#00acff,#00a3ff,#009dff,#0097ff,#0093ff,#0090ff,#008fff,#008fff,#0091ff,#0095ff,#009aff,#00a0ff,#00a8ff,#00b0ff,#00b9ff,#00c3ff,#00cbff,#00d4ff,#00dbff,#00e2ff,#00e9ff,#00eeff,#00f3ff,#00f7ff,#00f9ff 135.25px)}
.d9{background:repeating-linear-gradient(90deg,#00ffff,#00feff,#00fbff,#00f7ff,#00f1ff,#00ebff,#00e4ff,#00ddff,#00d5ff,#00ccff,#00c3ff,#00b9ff,#00b0ff,#00a8ff,#00a1ff,#009bff,#0097ff,#0094ff,#0093ff,#0094ff,#0096ff,#0099ff,#009eff,#00a5ff,#00acff,#00b5ff,#00beff,#00c7ff,#00d0ff,#00d9ff,#00e1ff,#00e8ff,#00eeff,#00f4ff,#00f9ff,#00fdff,#00ffff 135.25px)}
.d10{background:repeating-linear-gradient(90deg,#07fff8,#06fff9,#03fffc,#00fdff,#00f8ff,#00f1ff,#00eaff,#00e2ff,#00daff,#00d1ff,#00c7ff,#00beff,#00b5ff,#00adff,#00a6ff,#00a0ff,#009cff,#0099ff,#0098ff,#0098ff,#009aff,#009eff,#00a3ff,#00aaff,#00b1ff,#00baff,#00c3ff,#00ccff,#00d6ff,#00deff,#00e7ff,#00eeff,#00f5ff,#00fbff,#01fffe,#05fffa,#07fff8 135.25px)}
.d11{background:repeating-linear-gradient(90deg,#0dfff2,#0dfff2,#0afff5,#05fffa,#00feff,#00f7ff,#00f0ff,#00e8ff,#00dfff,#00d6ff,#00ccff,#00c3ff,#00baff,#00b2ff,#00abff,#00a5ff,#00a1ff,#009eff,#009dff,#009dff,#009fff,#00a3ff,#00a8ff,#00aeff,#00b6ff,#00bfff,#00c8ff,#00d1ff,#00daff,#00e4ff,#00ecff,#00f4ff,#00fbff,#02fffd,#07fff8,#0bfff4,#0dfff2 135.25px)}
.d12{background:repeating-linear-gradient(90deg,#14ffeb,#14ffeb,#10ffef,#0cfff3,#06fff9,#00feff,#00f6ff,#00edff,#00e4ff,#00daff,#00d1ff,#00c7ff,#00bfff,#00b7ff,#00afff,#00aaff,#00a5ff,#00a3ff,#00a2ff,#00a2ff,#00a4ff,#00a7ff,#00acff,#00b3ff,#00bbff,#00c3ff,#00ccff,#00d6ff,#00dfff,#00e9ff,#00f2ff,#00faff,#02fffd,#09fff6,#0efff1,#12ffed,#14ffeb 135.25px)}
.d13{background:repeating-linear-gradient(90deg,#1bffe4,#1bffe4,#17ffe8,#12ffed,#0cfff3,#05fffa,#00fcff,#00f3ff,#00e9ff,#00dfff,#00d5ff,#00ccff,#00c3ff,#00bbff,#00b4ff,#00aeff,#00aaff,#00a8ff,#00a7ff,#00a7ff,#00a9ff,#00acff,#00b1ff,#00b7ff,#00bfff,#00c7ff,#00d0ff,#00daff,#00e4ff,#00eeff,#00f8ff,#01fffe,#09fff6,#10ffef,#15ffea,#19ffe6,#1bffe4 135.25px)}
.d14{background:repeating-linear-gradient(90deg,#22ffdd,#22ffdd,#1effe1,#19ffe6,#13ffec,#0cfff3,#03fffc,#00f8ff,#00edff,#00e3ff,#00d9ff,#00cfff,#00c7ff,#00bfff,#00b8ff,#00b2ff,#00aeff,#00acff,#00abff,#00acff,#00adff,#00b0ff,#00b5ff,#00bcff,#00c3ff,#00cbff,#00d4ff,#00deff,#00e8ff,#00f3ff,#00fdff,#08fff7,#10ffef,#17ffe8,#1cffe3,#20ffdf,#22ffdd 135.25px)}
.d15{background:repeating-linear-gradient(90deg,#29ffd6,#29ffd6,#26ffd9,#21ffde,#1affe5,#12ffed,#09fff6,#00fdff,#00f2ff,#00e7ff,#00dcff,#00d3ff,#00cbff,#00c3ff,#00bcff,#00b7ff,#00b3ff,#00b1ff,#00b0ff,#00b0ff,#00b2ff,#00b5ff,#00baff,#00c0ff,#00c7ff,#00cfff,#00d8ff,#00e2ff,#00edff,#00f8ff,#04fffb,#0efff1,#17ffe8,#1effe1,#23ffdc,#27ffd8,#29ffd6 135.25px)}
.d16{background:repeating-linear-gradient(90deg,#31ffce,#30ffcf,#2dffd2,#28ffd7,#21ffde,#19ffe6,#0ffff0,#04fffb,#00f6ff,#00ebff,#00e0ff,#00d7ff,#00cfff,#00c7ff,#00c1ff,#00bbff,#00b8ff,#00b6ff,#00b5ff,#00b5ff,#00b6ff,#00b9ff,#00beff,#00c4ff,#00cbff,#00d3ff,#00dbff,#00e5ff,#00f1ff,#00fdff,#0afff5,#14ffeb,#1dffe2,#25ffda,#2bffd4,#2fffd0,#31ffce 135.25px)}
.d17{background:repeating-linear-gradient(90deg,#38ffc7,#37ffc8,#34ffcb,#2fffd0,#28ffd7,#1fffe0,#15ffea,#09fff6,#00fbff,#00eeff,#00e4ff,#00daff,#00d2ff,#00cbff,#00c5ff,#00c0ff,#00bcff,#00baff,#00baff,#00baff,#00bbff,#00beff,#00c2ff,#00c8ff,#00cfff,#00d6ff,#00dfff,#00e9ff,#00f5ff,#03fffc,#0ffff0,#1bffe4,#24ffdb,#2cffd3,#32ffcd,#36ffc9,#38ffc7 135.25px)}
.d18{background:repeating-linear-gradient(90deg,#40ffbf,#3fffc0,#3cffc3,#37ffc8,#2fffd0,#26ffd9,#1bffe4,#0efff1,#00ffff,#00f2ff,#00e7ff,#00deff,#00d6ff,#00cfff,#00c9ff,#00c4ff,#00c1ff,#00bfff,#00beff,#00bfff,#00c0ff,#00c2ff,#00c6ff,#00ccff,#00d2ff,#00daff,#00e2ff,#00edff,#00f9ff,#07fff8,#15ffea,#21ffde,#2bffd4,#33ffcc,#3affc5,#3effc1,#40ffbf 135.25px)}
.d19{background:repeating-linear-gradient(90deg,#47ffb8,#47ffb8,#43ffbc,#3effc1,#36ffc9,#2dffd2,#21ffde,#13ffec,#05fffa,#00f6ff,#00ebff,#00e1ff,#00daff,#00d3ff,#00cdff,#00c8ff,#00c5ff,#00c4ff,#00c3ff,#00c3ff,#00c4ff,#00c7ff,#00cbff,#00d0ff,#00d6ff,#00ddff,#00e6ff,#00f0ff,#00fdff,#0cfff3,#1affe5,#27ffd8,#32ffcd,#3bffc4,#41ffbe,#45ffba,#47ffb8 135.25px)}
.d20{background:repeating-linear-gradient(90deg,#4fffb0,#4fffb0,#4bffb4,#46ffb9,#3effc1,#33ffcc,#27ffd8,#18ffe7,#09fff6,#00faff,#00eeff,#00e5ff,#00ddff,#00d7ff,#00d1ff,#00cdff,#00caff,#00c9ff,#00c8ff,#00c8ff,#00c9ff,#00cbff,#00cfff,#00d4ff,#00daff,#00e1ff,#00e9ff,#00f4ff,#02fffd,#11ffee,#20ffdf,#2dffd2,#39ffc6,#42ffbd,#49ffb6,#4dffb2,#4fffb0 135.25px)}
.d21{background:repeating-linear-gradient(90deg,#57ffa8,#57ffa8,#53ffac,#4dffb2,#45ffba,#3affc5,#2cffd3,#1dffe2,#0dfff2,#00feff,#00f2ff,#00e8ff,#00e1ff,#00dbff,#00d5ff,#00d1ff,#00cfff,#00cdff,#00cdff,#00cdff,#00ceff,#00d0ff,#00d3ff,#00d8ff,#00deff,#00e5ff,#00edff,#00f8ff,#06fff9,#16ffe9,#25ffda,#34ffcb,#40ffbf,#49ffb6,#51ffae,#55ffaa,#57ffa8 135.25px)}
.d22{background:repeating-linear-gradient(90deg,#60ff9f,#5fffa0,#5bffa4,#55ffaa,#4cffb3,#40ffbf,#32ffcd,#22ffdd,#12ffed,#03fffc,#00f6ff,#00ecff,#00e5ff,#00dfff,#00daff,#00d6ff,#00d4ff,#00d2ff,#00d2ff,#00d2ff,#00d3ff,#00d5ff,#00d8ff,#00dcff,#00e2ff,#00e9ff,#00f1ff,#00fcff,#0afff5,#1affe5,#2bffd4,#3affc5,#46ffb9,#51ffae,#59ffa6,#5effa1,#60ff9f 135.25px)}
.d23{background:repeating-linear-gradient(90deg,#69ff96,#68ff97,#64ff9b,#5dffa2,#53ffac,#46ffb9,#38ffc7,#27ffd8,#17ffe8,#07fff8,#00faff,#00f0ff,#00e9ff,#00e3ff,#00dfff,#00dbff,#00d9ff,#00d7ff,#00d7ff,#00d7ff,#00d8ff,#00daff,#00ddff,#00e1ff,#00e6ff,#00edff,#00f5ff,#01fffe,#0ffff0,#1fffe0,#30ffcf,#40ffbf,#4dffb2,#58ffa7,#61ff9e,#66ff99,#69ff96 135.25px)}
.d24{background:repeating-linear-gradient(90deg,#72ff8d,#71ff8e,#6cff93,#64ff9b,#5affa5,#4dffb2,#3dffc2,#2dffd2,#1bffe4,#0cfff3,#00feff,#00f5ff,#00edff,#00e8ff,#00e3ff,#00e0ff,#00deff,#00ddff,#00dcff,#00dcff,#00ddff,#00dfff,#00e2ff,#00e6ff,#00ebff,#00f1ff,#00f9ff,#05fffa,#13ffec,#24ffdb,#35ffca,#46ffb9,#54ffab,#60ff9f,#69ff96,#6fff90,#72ff8d 135.25px)}
.d25{background:repeating-linear-gradient(90deg,#7bff84,#7aff85,#75ff8a,#6cff93,#61ff9e,#53ffac,#43ffbc,#32ffcd,#20ffdf,#10ffef,#03fffc,#00f9ff,#00f2ff,#00ecff,#00e8ff,#00e5ff,#00e3ff,#00e2ff,#00e2ff,#00e2ff,#00e3ff,#00e4ff,#00e7ff,#00eaff,#00efff,#00f5ff,#00feff,#0afff5,#18ffe7,#29ffd6,#3bffc4,#4bffb4,#5affa5,#67ff98,#71ff8e,#78ff87,#7bff84 135.25px)}
.d26{background:repeating-linear-gradient(90deg,#84ff7b,#83ff7c,#7dff82,#73ff8c,#67ff98,#59ffa6,#48ffb7,#36ffc9,#25ffda,#15ffea,#08fff7,#00fdff,#00f6ff,#00f1ff,#00edff,#00ebff,#00e9ff,#00e8ff,#00e7ff,#00e7ff,#00e8ff,#00eaff,#00ecff,#00efff,#00f4ff,#00faff,#03fffc,#0efff1,#1dffe2,#2effd1,#40ffbf,#51ffae,#60ff9f,#6eff91,#79ff86,#80ff7f,#84ff7b 135.25px)}
.d27{background:repeating-linear-gradient(90deg,#8dff72,#8cff73,#85ff7a,#7bff84,#6eff91,#5effa1,#4dffb2,#3bffc4,#29ffd6,#19ffe6,#0dfff2,#03fffc,#00fbff,#00f6ff,#00f3ff,#00f0ff,#00eeff,#00edff,#00edff,#00edff,#00eeff,#00efff,#00f1ff,#00f4ff,#00f9ff,#00feff,#08fff7,#13ffec,#21ffde,#33ffcc,#45ffba,#56ffa9,#67ff98,#75ff8a,#81ff7e,#89ff76,#8dff72 135.25px)}
.d28{background:repeating-linear-gradient(90deg,#96ff69,#95ff6a,#8dff72,#82ff7d,#74ff8b,#64ff9b,#52ffad,#40ffbf,#2effd1,#1effe1,#11ffee,#08fff7,#01fffe,#00fbff,#00f8ff,#00f6ff,#00f4ff,#00f3ff,#00f3ff,#00f3ff,#00f4ff,#00f5ff,#00f7ff,#00f9ff,#00fdff,#04fffb,#0cfff3,#17ffe8,#26ffd9,#37ffc8,#4affb5,#5cffa3,#6cff93,#7bff84,#88ff77,#92ff6d,#96ff69 135.25px)}
.d29{background:repeating-linear-gradient(90deg,#9fff60,#9dff62,#95ff6a,#89ff76,#7aff85,#69ff96,#57ffa8,#44ffbb,#32ffcd,#22ffdd,#16ffe9,#0cfff3,#05fffa,#01fffe,#00fdff,#00fcff,#00faff,#00f9ff,#00f9ff,#00f9ff,#00faff,#00fbff,#00fcff,#00ffff,#03fffc,#09fff6,#11ffee,#1cffe3,#2affd5,#3cffc3,#4effb1,#60ff9f,#72ff8d,#82ff7d,#90ff6f,#9aff65,#9fff60 135.25px)}
.d30{background:repeating-linear-gradient(90deg,#a8ff57,#a6ff59,#9dff62,#8fff70,#7fff80,#6eff91,#5bffa4,#49ffb6,#37ffc8,#27ffd8,#1affe5,#11ffee,#0afff5,#06fff9,#04fffb,#02fffd,#01fffe,#00ffff,#00ffff,#00ffff,#01fffe,#02fffd,#03fffc,#05fffa,#08fff7,#0dfff2,#15ffea,#20ffdf,#2fffd0,#40ffbf,#52ffad,#65ff9a,#77ff88,#88ff77,#97ff68,#a2ff5d,#a8ff57 135.25px)}
.d31{background:repeating-linear-gradient(90deg,#b0ff4f,#adff52,#a4ff5b,#95ff6a,#84ff7b,#72ff8d,#5fffa0,#4dffb2,#3bffc4,#2bffd4,#1effe1,#15ffea,#0ffff0,#0bfff4,#09fff6,#08fff7,#08fff7,#07fff8,#06fff9,#06fff9,#07fff8,#08fff7,#09fff6,#0afff5,#0dfff2,#12ffed,#19ffe6,#24ffdb,#33ffcc,#44ffbb,#56ffa9,#69ff96,#7cff83,#8dff72,#9dff62,#aaff55,#b0ff4f 135.25px)}
.d32{background:repeating-linear-gradient(90deg,#b7ff48,#b5ff4a,#aaff55,#9bff64,#89ff76,#76ff89,#63ff9c,#50ffaf,#3effc1,#2fffd0,#22ffdd,#19ffe6,#13ffec,#10ffef,#0ffff0,#0efff1,#0efff1,#0dfff2,#0dfff2,#0dfff2,#0efff1,#0efff1,#0ffff0,#0ffff0,#11ffee,#16ffe9,#1dffe2,#28ffd7,#37ffc8,#48ffb7,#5affa5,#6dff92,#80ff7f,#92ff6d,#a3ff5c,#b1ff4e,#b7ff48 135.25px)}
.d33{background:repeating-linear-gradient(90deg,#beff41,#bcff43,#b0ff4f,#9fff60,#8dff72,#7aff85,#67ff98,#54ffab,#42ffbd,#32ffcd,#26ffd9,#1dffe2,#17ffe8,#15ffea,#14ffeb,#15ffea,#15ffea,#14ffeb,#14ffeb,#14ffeb,#15ffea,#15ffea,#14ffeb,#14ffeb,#16ffe9,#1affe5,#21ffde,#2cffd3,#3affc5,#4bffb4,#5dffa2,#71ff8e,#84ff7b,#97ff68,#a9ff56,#b7ff48,#beff41 135.25px)}
.d34{background:repeating-linear-gradient(90deg,#c5ff3a,#c2ff3d,#b5ff4a,#a4ff5b,#90ff6f,#7dff82,#6aff95,#57ffa8,#45ffba,#35ffca,#29ffd6,#20ffdf,#1bffe4,#19ffe6,#1affe5,#1bffe4,#1cffe3,#1cffe3,#1bffe4,#1bffe4,#1cffe3,#1bffe4,#1affe5,#19ffe6,#1affe5,#1effe1,#24ffdb,#2fffd0,#3dffc2,#4effb1,#60ff9f,#74ff8b,#87ff78,#9aff65,#adff52,#bdff42,#c5ff3a 135.25px)}
.d35{background:repeating-linear-gradient(90deg,#caff35,#c7ff38,#baff45,#a7ff58,#93ff6c,#80ff7f,#6cff93,#59ffa6,#47ffb8,#38ffc7,#2cffd3,#24ffdb,#1fffe0,#1effe1,#1fffe0,#21ffde,#23ffdc,#23ffdc,#23ffdc,#23ffdc,#23ffdc,#22ffdd,#20ffdf,#1effe1,#1effe1,#21ffde,#28ffd7,#32ffcd,#40ffbf,#50ffaf,#63ff9c,#76ff89,#8aff75,#9eff61,#b1ff4e,#c2ff3d,#caff35 135.25px)}
.d36{background:repeating-linear-gradient(90deg,#cfff30,#ccff33,#beff41,#aaff55,#96ff69,#82ff7d,#6eff91,#5bffa4,#4affb5,#3affc5,#2effd1,#27ffd8,#23ffdc,#22ffdd,#25ffda,#28ffd7,#2affd5,#2bffd4,#2bffd4,#2bffd4,#2affd5,#29ffd6,#26ffd9,#23ffdc,#22ffdd,#24ffdb,#2affd5,#34ffcb,#42ffbd,#53ffac,#65ff9a,#78ff87,#8cff73,#a0ff5f,#b5ff4a,#c6ff39,#cfff30 135.25px)}
.d37{background:repeating-linear-gradient(90deg,#d3ff2c,#cfff30,#c1ff3e,#acff53,#98ff67,#84ff7b,#70ff8f,#5dffa2,#4bffb4,#3cffc3,#31ffce,#29ffd6,#26ffd9,#27ffd8,#2affd5,#2effd1,#31ffce,#32ffcd,#33ffcc,#33ffcc,#32ffcd,#2fffd0,#2cffd3,#28ffd7,#26ffd9,#27ffd8,#2dffd2,#36ffc9,#44ffbb,#54ffab,#67ff98,#7aff85,#8eff71,#a2ff5d,#b7ff48,#c9ff36,#d3ff2c 135.25px)}
.d38{background:repeating-linear-gradient(90deg,#d6ff29,#d2ff2d,#c3ff3c,#aeff51,#99ff66,#85ff7a,#71ff8e,#5effa1,#4dffb2,#3effc1,#32ffcd,#2cffd3,#29ffd6,#2bffd4,#2fffd0,#34ffcb,#38ffc7,#3affc5,#3bffc4,#3bffc4,#39ffc6,#36ffc9,#32ffcd,#2dffd2,#29ffd6,#2affd5,#2fffd0,#38ffc7,#45ffba,#56ffa9,#68ff97,#7bff84,#8fff70,#a4ff5b,#baff45,#ccff33,#d6ff29 135.25px)}
.d39{background:repeating-linear-gradient(90deg,#d9ff26,#d5ff2a,#c5ff3a,#afff50,#9aff65,#86ff79,#72ff8d,#5fffa0,#4effb1,#3fffc0,#34ffcb,#2effd1,#2cffd3,#2fffd0,#34ffcb,#3affc5,#3fffc0,#42ffbd,#43ffbc,#43ffbc,#41ffbe,#3dffc2,#37ffc8,#31ffce,#2dffd2,#2cffd3,#30ffcf,#39ffc6,#46ffb9,#57ffa8,#69ff96,#7cff83,#90ff6f,#a5ff5a,#bbff44,#ceff31,#d9ff26 135.25px)}
.d40{background:repeating-linear-gradient(90deg,#dbff24,#d7ff28,#c6ff39,#b0ff4f,#9aff65,#86ff79,#73ff8c,#60ff9f,#4effb1,#3fffc0,#35ffca,#2fffd0,#2fffd0,#32ffcd,#39ffc6,#40ffbf,#46ffb9,#4affb5,#4bffb4,#4bffb4,#48ffb7,#43ffbc,#3dffc2,#35ffca,#30ffcf,#2fffd0,#32ffcd,#3affc5,#47ffb8,#57ffa8,#6aff95,#7dff82,#90ff6f,#a5ff5a,#bcff43,#d0ff2f,#dbff24 135.25px)}
.d41{background:repeating-linear-gradient(90deg,#dcff23,#d8ff27,#c7ff38,#b1ff4e,#9aff65,#86ff79,#73ff8c,#60ff9f,#4effb1,#40ffbf,#36ffc9,#31ffce,#31ffce,#36ffc9,#3effc1,#46ffb9,#4dffb2,#51ffae,#53ffac,#53ffac,#4fffb0,#4affb5,#42ffbd,#39ffc6,#33ffcc,#31ffce,#33ffcc,#3affc5,#47ffb8,#57ffa8,#6aff95,#7dff82,#91ff6e,#a6ff59,#bdff42,#d1ff2e,#dcff23 135.25px)}
.d42{background:repeating-linear-gradient(90deg,#ddff22,#d8ff27,#c7ff38,#b0ff4f,#9aff65,#86ff79,#73ff8c,#60ff9f,#4effb1,#40ffbf,#36ffc9,#32ffcd,#34ffcb,#39ffc6,#42ffbd,#4cffb3,#54ffab,#59ffa6,#5bffa4,#5bffa4,#57ffa8,#50ffaf,#47ffb8,#3dffc2,#36ffc9,#32ffcd,#34ffcb,#3bffc4,#47ffb8,#57ffa8,#6aff95,#7dff82,#90ff6f,#a5ff5a,#bdff42,#d1ff2e,#ddff22 135.25px)}
.d43{background:repeating-linear-gradient(90deg,#ddff22,#d8ff27,#c7ff38,#b0ff4f,#9aff65,#85ff7a,#72ff8d,#5fffa0,#4effb1,#3fffc0,#37ffc8,#34ffcb,#36ffc9,#3dffc2,#47ffb8,#51ffae,#5affa5,#60ff9f,#63ff9c,#62ff9d,#5dffa2,#56ffa9,#4cffb3,#41ffbe,#39ffc6,#34ffcb,#35ffca,#3affc5,#46ffb9,#56ffa9,#69ff96,#7cff83,#90ff6f,#a5ff5a,#bcff43,#d1ff2e,#ddff22 135.25px)}
.d44{background:repeating-linear-gradient(90deg,#dcff23,#d8ff27,#c6ff39,#afff50,#99ff66,#84ff7b,#71ff8e,#5effa1,#4dffb2,#3fffc0,#37ffc8,#35ffca,#38ffc7,#40ffbf,#4bffb4,#56ffa9,#60ff9f,#67ff98,#6bff94,#69ff96,#64ff9b,#5bffa4,#50ffaf,#45ffba,#3bffc4,#36ffc9,#35ffca,#3affc5,#45ffba,#55ffaa,#68ff97,#7bff84,#8fff70,#a4ff5b,#bbff44,#d0ff2f,#dcff23 135.25px)}
.d45{background:repeating-linear-gradient(90deg,#dbff24,#d6ff29,#c5ff3a,#aeff51,#97ff68,#83ff7c,#70ff8f,#5dffa2,#4bffb4,#3effc1,#37ffc8,#35ffca,#3affc5,#43ffbc,#4effb1,#5bffa4,#66ff99,#6eff91,#72ff8d,#70ff8f,#6aff95,#60ff9f,#54ffab,#48ffb7,#3effc1,#37ffc8,#35ffca,#3affc5,#44ffbb,#54ffab,#67ff98,#7aff85,#8dff72,#a3ff5c,#baff45,#cfff30,#dbff24 135.25px)}
.d46{background:repeating-linear-gradient(90deg,#d9ff26,#d5ff2a,#c4ff3b,#adff52,#96ff69,#81ff7e,#6eff91,#5bffa4,#4affb5,#3dffc2,#36ffc9,#36ffc9,#3bffc4,#45ffba,#52ffad,#5fffa0,#6bff94,#74ff8b,#78ff87,#77ff88,#70ff8f,#65ff9a,#58ffa7,#4bffb4,#40ffbf,#38ffc7,#35ffca,#39ffc6,#43ffbc,#52ffad,#65ff9a,#78ff87,#8cff73,#a1ff5e,#b9ff46,#ceff31,#d9ff26 135.25px)}
.d47{background:repeating-linear-gradient(90deg,#d7ff28,#d3ff2c,#c2ff3d,#abff54,#94ff6b,#80ff7f,#6cff93,#59ffa6,#48ffb7,#3bffc4,#36ffc9,#37ffc8,#3dffc2,#48ffb7,#55ffaa,#63ff9c,#70ff8f,#7aff85,#7fff80,#7dff82,#75ff8a,#69ff96,#5cffa3,#4effb1,#42ffbd,#39ffc6,#35ffca,#38ffc7,#41ffbe,#50ffaf,#63ff9c,#76ff89,#8aff75,#a0ff5f,#b7ff48,#ccff33,#d7ff28 135.25px)}
.d48{background:repeating-linear-gradient(90deg,#d4ff2b,#d0ff2f,#c0ff3f,#a9ff56,#93ff6c,#7dff82,#69ff96,#56ffa9,#45ffba,#39ffc6,#35ffca,#37ffc8,#3fffc0,#4affb5,#58ffa7,#66ff99,#74ff8b,#7fff80,#85ff7a,#83ff7c,#7aff85,#6dff92,#5fffa0,#50ffaf,#44ffbb,#3affc5,#35ffca,#36ffc9,#3fffc0,#4effb1,#60ff9f,#74ff8b,#88ff77,#9eff61,#b5ff4a,#c9ff36,#d4ff2b 135.25px)}
.d49{background:repeating-linear-gradient(90deg,#d1ff2e,#cdff32,#bdff42,#a7ff58,#91ff6e,#7bff84,#67ff98,#54ffab,#43ffbc,#38ffc7,#34ffcb,#37ffc8,#40ffbf,#4cffb3,#5affa5,#6aff95,#78ff87,#84ff7b,#8aff75,#88ff77,#7fff80,#71ff8e,#62ff9d,#53ffac,#45ffba,#3bffc4,#35ffca,#35ffca,#3dffc2,#4bffb4,#5dffa2,#71ff8e,#86ff79,#9cff63,#b3ff4c,#c7ff38,#d1ff2e 135.25px)}
.d50{background:repeating-linear-gradient(90deg,#ceff31,#caff35,#bbff44,#a5ff5a,#8fff70,#79ff86,#64ff9b,#51ffae,#40ffbf,#36ffc9,#33ffcc,#37ffc8,#41ffbe,#4effb1,#5dffa2,#6dff92,#7cff83,#89ff76,#90ff6f,#8dff72,#83ff7c,#74ff8b,#64ff9b,#55ffaa,#47ffb8,#3bffc4,#34ffcb,#33ffcc,#3affc5,#48ffb7,#5bffa4,#6fff90,#84ff7b,#9aff65,#b1ff4e,#c4ff3b,#ceff31 135.25px)}
.d51{background:repeating-linear-gradient(90deg,#cbff34,#c7ff38,#b8ff47,#a3ff5c,#8cff73,#76ff89,#61ff9e,#4effb1,#3dffc2,#33ffcc,#32ffcd,#37ffc8,#42ffbd,#50ffaf,#5fffa0,#6fff90,#80ff7f,#8dff72,#94ff6b,#92ff6d,#87ff78,#77ff88,#67ff98,#57ffa8,#48ffb7,#3cffc3,#33ffcc,#31ffce,#38ffc7,#45ffba,#58ffa7,#6cff93,#82ff7d,#98ff67,#afff50,#c1ff3e,#cbff34 135.25px)}
.d52{background:repeating-linear-gradient(90deg,#c8ff37,#c4ff3b,#b6ff49,#a1ff5e,#8aff75,#74ff8b,#5effa1,#4affb5,#3bffc4,#31ffce,#30ffcf,#37ffc8,#43ffbc,#51ffae,#61ff9e,#72ff8d,#83ff7c,#91ff6e,#99ff66,#96ff69,#8aff75,#7aff85,#69ff96,#59ffa6,#4affb5,#3cffc3,#33ffcc,#30ffcf,#35ffca,#42ffbd,#54ffab,#69ff96,#80ff7f,#96ff69,#acff53,#beff41,#c8ff37 135.25px)}
.d53{background:repeating-linear-gradient(90deg,#c5ff3a,#c1ff3e,#b3ff4c,#9fff60,#88ff77,#71ff8e,#5bffa4,#47ffb8,#38ffc7,#2fffd0,#2fffd0,#37ffc8,#44ffbb,#53ffac,#63ff9c,#74ff8b,#86ff79,#95ff6a,#9dff62,#9aff65,#8eff71,#7dff82,#6bff94,#5affa5,#4bffb4,#3cffc3,#32ffcd,#2effd1,#32ffcd,#3fffc0,#51ffae,#67ff98,#7dff82,#94ff6b,#aaff55,#bcff43,#c5ff3a 135.25px)}
.d54{background:repeating-linear-gradient(90deg,#c2ff3d,#bfff40,#b1ff4e,#9dff62,#86ff79,#6fff90,#58ffa7,#44ffbb,#35ffca,#2cffd3,#2dffd2,#36ffc9,#44ffbb,#54ffab,#65ff9a,#76ff89,#89ff76,#98ff67,#a1ff5e,#9eff61,#91ff6e,#7fff80,#6dff92,#5cffa3,#4cffb3,#3dffc2,#31ffce,#2cffd3,#30ffcf,#3cffc3,#4effb1,#64ff9b,#7bff84,#92ff6d,#a8ff57,#b9ff46,#c2ff3d 135.25px)}
.d55{background:repeating-linear-gradient(90deg,#bfff40,#bcff43,#afff50,#9bff64,#84ff7b,#6cff93,#55ffaa,#41ffbe,#32ffcd,#2affd5,#2cffd3,#36ffc9,#45ffba,#55ffaa,#66ff99,#78ff87,#8bff74,#9bff64,#a4ff5b,#a1ff5e,#94ff6b,#82ff7d,#6fff90,#5dffa2,#4cffb3,#3dffc2,#30ffcf,#2affd5,#2dffd2,#39ffc6,#4bffb4,#61ff9e,#79ff86,#90ff6f,#a6ff59,#b7ff48,#bfff40 135.25px)}
.d56{background:repeating-linear-gradient(90deg,#bdff42,#baff45,#adff52,#9aff65,#82ff7d,#6aff95,#52ffad,#3effc1,#2fffd0,#28ffd7,#2bffd4,#35ffca,#45ffba,#56ffa9,#68ff97,#7aff85,#8eff71,#9eff61,#a7ff58,#a4ff5b,#96ff69,#84ff7b,#71ff8e,#5effa1,#4dffb2,#3cffc3,#2fffd0,#28ffd7,#2affd5,#36ffc9,#48ffb7,#5effa1,#77ff88,#8fff70,#a4ff5b,#b5ff4a,#bdff42 135.25px)}
.d57{background:repeating-linear-gradient(90deg,#bbff44,#b8ff47,#acff53,#98ff67,#81ff7e,#68ff97,#50ffaf,#3bffc4,#2cffd3,#26ffd9,#29ffd6,#35ffca,#45ffba,#57ffa8,#69ff96,#7cff83,#90ff6f,#a1ff5e,#aaff55,#a6ff59,#99ff66,#86ff79,#72ff8d,#60ff9f,#4effb1,#3cffc3,#2effd1,#26ffd9,#28ffd7,#33ffcc,#45ffba,#5cffa3,#75ff8a,#8dff72,#a3ff5c,#b3ff4c,#bbff44 135.25px)}
.d58{background:repeating-linear-gradient(90deg,#baff45,#b7ff48,#aaff55,#97ff68,#7fff80,#66ff99,#4dffb2,#39ffc6,#2affd5,#24ffdb,#28ffd7,#34ffcb,#45ffba,#58ffa7,#6bff94,#7eff81,#92ff6d,#a3ff5c,#acff53,#a9ff56,#9bff64,#88ff77,#74ff8b,#61ff9e,#4effb1,#3cffc3,#2dffd2,#24ffdb,#26ffd9,#31ffce,#43ffbc,#5affa5,#73ff8c,#8cff73,#a2ff5d,#b2ff4d,#baff45 135.25px)}
.d59{background:repeating-linear-gradient(90deg,#b9ff46,#b6ff49,#aaff55,#96ff69,#7eff81,#64ff9b,#4bffb4,#36ffc9,#28ffd7,#22ffdd,#26ffd9,#33ffcc,#45ffba,#58ffa7,#6cff93,#80ff7f,#94ff6b,#a5ff5a,#aeff51,#abff54,#9dff62,#8aff75,#75ff8a,#62ff9d,#4effb1,#3bffc4,#2cffd3,#23ffdc,#24ffdb,#2effd1,#40ffbf,#58ffa7,#71ff8e,#8bff74,#a1ff5e,#b1ff4e,#b9ff46 135.25px)}
.d60{background:repeating-linear-gradient(90deg,#b8ff47,#b5ff4a,#a9ff56,#95ff6a,#7dff82,#62ff9d,#49ffb6,#34ffcb,#26ffd9,#20ffdf,#25ffda,#33ffcc,#45ffba,#59ffa6,#6dff92,#81ff7e,#96ff69,#a7ff58,#b0ff4f,#adff52,#9fff60,#8bff74,#77ff88,#62ff9d,#4fffb0,#3bffc4,#2bffd4,#21ffde,#22ffdd,#2cffd3,#3effc1,#56ffa9,#70ff8f,#8aff75,#a0ff5f,#b1ff4e,#b8ff47 135.25px)}
.d61{background:repeating-linear-gradient(90deg,#b8ff47,#b5ff4a,#a9ff56,#95ff6a,#7cff83,#61ff9e,#47ffb8,#32ffcd,#24ffdb,#1effe1,#24ffdb,#32ffcd,#45ffba,#59ffa6,#6eff91,#83ff7c,#97ff68,#a9ff56,#b1ff4e,#aeff51,#a0ff5f,#8dff72,#78ff87,#63ff9c,#4fffb0,#3bffc4,#2affd5,#20ffdf,#20ffdf,#2affd5,#3cffc3,#54ffab,#6fff90,#89ff76,#a0ff5f,#b0ff4f,#b8ff47 135.25px)}
.d62{background:repeating-linear-gradient(90deg,#b8ff47,#b5ff4a,#a8ff57,#94ff6b,#7bff84,#5fffa0,#46ffb9,#30ffcf,#22ffdd,#1dffe2,#23ffdc,#31ffce,#45ffba,#5affa5,#6fff90,#84ff7b,#99ff66,#aaff55,#b3ff4c,#afff50,#a2ff5d,#8eff71,#79ff86,#64ff9b,#4fffb0,#3affc5,#29ffd6,#1effe1,#1effe1,#28ffd7,#3bffc4,#53ffac,#6eff91,#88ff77,#9fff60,#b0ff4f,#b8ff47 135.25px)}
.d63{background:repeating-linear-gradient(90deg,#b8ff47,#b5ff4a,#a8ff57,#94ff6b,#7aff85,#5effa1,#44ffbb,#2fffd0,#21ffde,#1cffe3,#22ffdd,#30ffcf,#44ffbb,#5affa5,#70ff8f,#85ff7a,#9aff65,#abff54,#b4ff4b,#b0ff4f,#a3ff5c,#8fff70,#7aff85,#64ff9b,#4fffb0,#3affc5,#28ffd7,#1dffe2,#1dffe2,#27ffd8,#39ffc6,#51ffae,#6dff92,#88ff77,#9fff60,#b0ff4f,#b8ff47 135.25px)}
.d64{background:repeating-linear-gradient(90deg,#b8ff47,#b5ff4a,#a8ff57,#93ff6c,#79ff86,#5dffa2,#43ffbc,#2effd1,#1fffe0,#1bffe4,#21ffde,#30ffcf,#44ffbb,#5affa5,#70ff8f,#86ff79,#9bff64,#acff53,#b4ff4b,#b1ff4e,#a4ff5b,#90ff6f,#7bff84,#65ff9a,#4fffb0,#39ffc6,#27ffd8,#1cffe3,#1cffe3,#26ffd9,#38ffc7,#50ffaf,#6cff93,#87ff78,#9fff60,#b0ff4f,#b8ff47 135.25px)}
.d65{background:repeating-linear-gradient(90deg,#b9ff46,#b6ff49,#a8ff57,#93ff6c,#79ff86,#5dffa2,#42ffbd,#2dffd2,#1effe1,#1affe5,#20ffdf,#2fffd0,#44ffbb,#5affa5,#71ff8e,#87ff78,#9cff63,#acff53,#b5ff4a,#b2ff4d,#a5ff5a,#91ff6e,#7cff83,#65ff9a,#4fffb0,#39ffc6,#27ffd8,#1bffe4,#1bffe4,#25ffda,#37ffc8,#50ffaf,#6bff94,#87ff78,#9fff60,#b0ff4f,#b9ff46 135.25px)}
.d66{background:repeating-linear-gradient(90deg,#b9ff46,#b6ff49,#a8ff57,#93ff6c,#79ff86,#5cffa3,#42ffbd,#2cffd3,#1effe1,#19ffe6,#20ffdf,#2fffd0,#44ffbb,#5affa5,#71ff8e,#88ff77,#9cff63,#adff52,#b5ff4a,#b2ff4d,#a5ff5a,#92ff6d,#7cff83,#65ff9a,#4fffb0,#39ffc6,#26ffd9,#1bffe4,#1affe5,#24ffdb,#36ffc9,#4fffb0,#6bff94,#87ff78,#9fff60,#b0ff4f,#b9ff46 135.25px)}
.d67{background:repeating-linear-gradient(90deg,#b9ff46,#b6ff49,#a8ff57,#93ff6c,#79ff86,#5cffa3,#41ffbe,#2cffd3,#1effe1,#19ffe6,#1fffe0,#2fffd0,#44ffbb,#5affa5,#71ff8e,#88ff77,#9dff62,#adff52,#b5ff4a,#b2ff4d,#a5ff5a,#92ff6d,#7cff83,#66ff99,#4fffb0,#38ffc7,#26ffd9,#1bffe4,#1affe5,#24ffdb,#36ffc9,#4fffb0,#6bff94,#87ff78,#9fff60,#b1ff4e,#b9ff46 135.25px)}
.e0{background:repeating-linear-gradient(90deg,#006eff,#006eff,#006cff,#0068ff,#0063ff,#005eff,#0057ff,#0052ff,#004bff,#0044ff,#0039ff,#002eff,#0022ff,#0017ff,#000cff,#0003ff,#0000f9,#0000f3,#0000f0,#0000f2,#0000f7,#0001ff,#000aff,#0014ff,#001fff,#002bff,#0036ff,#0041ff,#0049ff,#0050ff,#0056ff,#005cff,#0062ff,#0067ff,#006bff,#006eff,#006eff 135.25px)}
.e1{background:repeating-linear-gradient(90deg,#006fff,#006eff,#006cff,#0069ff,#0064ff,#005eff,#0058ff,#0052ff,#004bff,#0044ff,#003aff,#002eff,#0022ff,#0017ff,#000dff,#0003ff,#0000fa,#0000f3,#0000f0,#0000f2,#0000f8,#0001ff,#000aff,#0014ff,#001fff,#002bff,#0037ff,#0041ff,#004aff,#0050ff,#0056ff,#005cff,#0062ff,#0067ff,#006bff,#006eff,#006fff 135.25px)}
.e2{background:repeating-linear-gradient(90deg,#0070ff,#006fff,#006dff,#006aff,#0065ff,#005fff,#0059ff,#0053ff,#004cff,#0044ff,#003aff,#002eff,#0022ff,#0017ff,#000dff,#0004ff,#0000fa,#0000f4,#0000f1,#0000f3,#0000f8,#0001ff,#000aff,#0014ff,#001fff,#002bff,#0037ff,#0042ff,#004aff,#0051ff,#0057ff,#005dff,#0063ff,#0068ff,#006cff,#006fff,#0070ff 135.25px)}
.e3{background:repeating-linear-gradient(90deg,#0072ff,#0071ff,#006fff,#006bff,#0066ff,#0060ff,#005aff,#0054ff,#004dff,#0045ff,#003aff,#002fff,#0023ff,#0018ff,#000eff,#0005ff,#0000fb,#0000f5,#0000f2,#0000f4,#0000f9,#0002ff,#000bff,#0015ff,#0020ff,#002cff,#0037ff,#0042ff,#004bff,#0052ff,#0058ff,#005eff,#0065ff,#006aff,#006eff,#0071ff,#0072ff 135.25px)}
.e4{background:repeating-linear-gradient(90deg,#0075ff,#0074ff,#0072ff,#006eff,#0068ff,#0062ff,#005cff,#0055ff,#004eff,#0046ff,#003bff,#0030ff,#0024ff,#0019ff,#000fff,#0006ff,#0000fd,#0000f7,#0000f4,#0000f6,#0000fb,#0004ff,#000cff,#0016ff,#0021ff,#002cff,#0038ff,#0043ff,#004cff,#0054ff,#005aff,#0061ff,#0067ff,#006cff,#0071ff,#0074ff,#0075ff 135.25px)}
.e5{background:repeating-linear-gradient(90deg,#0079ff,#0078ff,#0075ff,#0071ff,#006bff,#0065ff,#005eff,#0057ff,#0050ff,#0047ff,#003cff,#0031ff,#0025ff,#001aff,#0010ff,#0008ff,#0000ff,#0000f9,#0000f7,#0000f8,#0000fd,#0005ff,#000eff,#0017ff,#0022ff,#002dff,#0039ff,#0045ff,#004eff,#0056ff,#005dff,#0063ff,#0069ff,#006fff,#0074ff,#0077ff,#0079ff 135.25px)}
.e6{background:repeating-linear-gradient(90deg,#007dff,#007cff,#0079ff,#0074ff,#006eff,#0068ff,#0061ff,#005aff,#0052ff,#0049ff,#003eff,#0032ff,#0026ff,#001bff,#0012ff,#000aff,#0002ff,#0000fc,#0000f9,#0000fb,#0001ff,#0007ff,#0010ff,#0019ff,#0023ff,#002fff,#003bff,#0046ff,#0050ff,#0058ff,#005fff,#0066ff,#006dff,#0073ff,#0078ff,#007bff,#007dff 135.25px)}
.e7{background:repeating-linear-gradient(90deg,#0082ff,#0081ff,#007dff,#0078ff,#0072ff,#006cff,#0065ff,#005dff,#0055ff,#004bff,#0040ff,#0034ff,#0028ff,#001dff,#0014ff,#000cff,#0005ff,#0000ff,#0000fd,#0000fe,#0003ff,#000aff,#0012ff,#001bff,#0025ff,#0030ff,#003cff,#0048ff,#0052ff,#005bff,#0063ff,#006aff,#0071ff,#0077ff,#007cff,#0080ff,#0082ff 135.25px)}
.e8{background:repeating-linear-gradient(90deg,#0088ff,#0086ff,#0083ff,#007dff,#0077ff,#0070ff,#0069ff,#0061ff,#0058ff,#004dff,#0042ff,#0036ff,#002aff,#001fff,#0016ff,#000fff,#0008ff,#0003ff,#0001ff,#0002ff,#0007ff,#000dff,#0014ff,#001dff,#0027ff,#0032ff,#003fff,#004aff,#0055ff,#005fff,#0067ff,#006eff,#0075ff,#007cff,#0081ff,#0086ff,#0088ff 135.25px)}
.e9{background:repeating-linear-gradient(90deg,#008eff,#008dff,#0089ff,#0083ff,#007cff,#0075ff,#006eff,#0065ff,#005bff,#0050ff,#0044ff,#0038ff,#002cff,#0022ff,#0019ff,#0012ff,#000cff,#0007ff,#0005ff,#0006ff,#000aff,#0010ff,#0017ff,#001fff,#0029ff,#0035ff,#0041ff,#004dff,#0058ff,#0062ff,#006bff,#0073ff,#007bff,#0081ff,#0087ff,#008cff,#008eff 135.25px)}
.e10{background:repeating-linear-gradient(90deg,#0095ff,#0093ff,#008fff,#0089ff,#0082ff,#007bff,#0073ff,#006aff,#005fff,#0054ff,#0047ff,#003bff,#002fff,#0025ff,#001cff,#0015ff,#0010ff,#000bff,#0009ff,#000bff,#000eff,#0014ff,#001aff,#0022ff,#002cff,#0037ff,#0044ff,#0050ff,#005cff,#0067ff,#0070ff,#0079ff,#0080ff,#0087ff,#008dff,#0092ff,#0095ff 135.25px)}
.e11{background:repeating-linear-gradient(90deg,#009cff,#009bff,#0096ff,#0090ff,#0089ff,#0081ff,#0078ff,#006fff,#0064ff,#0057ff,#004bff,#003eff,#0032ff,#0028ff,#0020ff,#0019ff,#0014ff,#0010ff,#000eff,#000fff,#0013ff,#0018ff,#001eff,#0026ff,#002fff,#003aff,#0047ff,#0054ff,#0060ff,#006cff,#0076ff,#007fff,#0087ff,#008eff,#0094ff,#009aff,#009cff 135.25px)}
.e12{background:repeating-linear-gradient(90deg,#00a4ff,#00a3ff,#009eff,#0097ff,#0090ff,#0088ff,#007fff,#0074ff,#0068ff,#005cff,#004eff,#0041ff,#0035ff,#002cff,#0024ff,#001eff,#0018ff,#0015ff,#0013ff,#0014ff,#0017ff,#001cff,#0022ff,#0029ff,#0033ff,#003eff,#004bff,#0058ff,#0065ff,#0071ff,#007cff,#0085ff,#008eff,#0095ff,#009cff,#00a2ff,#00a4ff 135.25px)}
.e13{background:repeating-linear-gradient(90deg,#00adff,#00abff,#00a6ff,#009fff,#0097ff,#008fff,#0085ff,#007aff,#006eff,#0060ff,#0052ff,#0045ff,#0039ff,#0030ff,#0028ff,#0022ff,#001dff,#001aff,#0018ff,#0019ff,#001cff,#0021ff,#0026ff,#002eff,#0037ff,#0042ff,#004fff,#005dff,#006aff,#0077ff,#0082ff,#008cff,#0095ff,#009dff,#00a4ff,#00aaff,#00adff 135.25px)}
.e14{background:repeating-linear-gradient(90deg,#00b5ff,#00b4ff,#00aeff,#00a7ff,#009fff,#0096ff,#008cff,#0081ff,#0073ff,#0065ff,#0057ff,#004aff,#003eff,#0034ff,#002dff,#0027ff,#0023ff,#001fff,#001eff,#001fff,#0022ff,#0026ff,#002bff,#0032ff,#003bff,#0046ff,#0053ff,#0061ff,#0070ff,#007dff,#0089ff,#0094ff,#009dff,#00a5ff,#00adff,#00b3ff,#00b5ff 135.25px)}
.e15{background:repeating-linear-gradient(90deg,#00bfff,#00bdff,#00b7ff,#00b0ff,#00a8ff,#009eff,#0094ff,#0087ff,#0079ff,#006bff,#005cff,#004eff,#0042ff,#0039ff,#0032ff,#002dff,#0028ff,#0025ff,#0024ff,#0025ff,#0027ff,#002bff,#0031ff,#0037ff,#0040ff,#004bff,#0058ff,#0067ff,#0075ff,#0084ff,#0091ff,#009cff,#00a5ff,#00aeff,#00b6ff,#00bcff,#00bfff 135.25px)}
.e16{background:repeating-linear-gradient(90deg,#00c8ff,#00c6ff,#00c1ff,#00b9ff,#00b0ff,#00a7ff,#009bff,#008eff,#0080ff,#0070ff,#0061ff,#0054ff,#0048ff,#003eff,#0038ff,#0032ff,#002eff,#002bff,#002aff,#002bff,#002dff,#0031ff,#0036ff,#003cff,#0045ff,#0050ff,#005eff,#006cff,#007cff,#008aff,#0098ff,#00a4ff,#00aeff,#00b7ff,#00bfff,#00c5ff,#00c8ff 135.25px)}
.e17{background:repeating-linear-gradient(90deg,#00d2ff,#00d0ff,#00caff,#00c2ff,#00b9ff,#00afff,#00a3ff,#0096ff,#0086ff,#0077ff,#0067ff,#0059ff,#004dff,#0044ff,#003eff,#0039ff,#0035ff,#0032ff,#0030ff,#0031ff,#0034ff,#0037ff,#003cff,#0042ff,#004bff,#0056ff,#0063ff,#0072ff,#0082ff,#0092ff,#00a0ff,#00acff,#00b7ff,#00c0ff,#00c8ff,#00cfff,#00d2ff 135.25px)}
.e18{background:repeating-linear-gradient(90deg,#00dbff,#00daff,#00d4ff,#00ccff,#00c3ff,#00b8ff,#00abff,#009dff,#008dff,#007dff,#006dff,#005fff,#0053ff,#004aff,#0044ff,#003fff,#003bff,#0038ff,#0037ff,#0038ff,#003aff,#003eff,#0043ff,#0048ff,#0051ff,#005cff,#0069ff,#0079ff,#0089ff,#0099ff,#00a8ff,#00b5ff,#00c0ff,#00caff,#00d2ff,#00d8ff,#00dbff 135.25px)}
.e19{background:repeating-linear-gradient(90deg,#00e5ff,#00e4ff,#00deff,#00d6ff,#00ccff,#00c1ff,#00b4ff,#00a5ff,#0094ff,#0084ff,#0074ff,#0066ff,#005aff,#0051ff,#004bff,#0046ff,#0042ff,#0040ff,#003eff,#003fff,#0042ff,#0045ff,#0049ff,#004fff,#0057ff,#0062ff,#0070ff,#007fff,#0090ff,#00a0ff,#00b0ff,#00bdff,#00c9ff,#00d3ff,#00dcff,#00e2ff,#00e5ff 135.25px)}
.e20{background:repeating-linear-gradient(90deg,#00efff,#00edff,#00e8ff,#00dfff,#00d5ff,#00c9ff,#00bcff,#00acff,#009bff,#008bff,#007bff,#006cff,#0060ff,#0058ff,#0052ff,#004dff,#004aff,#0047ff,#0046ff,#0047ff,#0049ff,#004cff,#0051ff,#0056ff,#005eff,#0069ff,#0077ff,#0086ff,#0097ff,#00a8ff,#00b8ff,#00c6ff,#00d2ff,#00ddff,#00e6ff,#00ecff,#00efff 135.25px)}
.e21{background:repeating-linear-gradient(90deg,#00f9ff,#00f7ff,#00f2ff,#00e9ff,#00dfff,#00d2ff,#00c4ff,#00b4ff,#00a3ff,#0092ff,#0082ff,#0073ff,#0068ff,#005fff,#0059ff,#0055ff,#0052ff,#004fff,#004eff,#004eff,#0051ff,#0054ff,#0058ff,#005dff,#0065ff,#0070ff,#007eff,#008dff,#009eff,#00afff,#00c0ff,#00cfff,#00dcff,#00e7ff,#00f0ff,#00f6ff,#00f9ff 135.25px)}
.e22{background:repeating-linear-gradient(90deg,#04fffb,#02fffd,#00fcff,#00f3ff,#00e8ff,#00dbff,#00ccff,#00bbff,#00aaff,#0099ff,#0089ff,#007bff,#006fff,#0067ff,#0061ff,#005dff,#005aff,#0057ff,#0056ff,#0057ff,#0059ff,#005cff,#0060ff,#0065ff,#006dff,#0077ff,#0085ff,#0095ff,#00a6ff,#00b7ff,#00c8ff,#00d7ff,#00e5ff,#00f0ff,#00faff,#01fffe,#04fffb 135.25px)}
.e23{background:repeating-linear-gradient(90deg,#0dfff2,#0cfff3,#06fff9,#00fdff,#00f1ff,#00e3ff,#00d4ff,#00c3ff,#00b2ff,#00a1ff,#0091ff,#0083ff,#0077ff,#006fff,#006aff,#0066ff,#0062ff,#0060ff,#005eff,#005fff,#0061ff,#0065ff,#0068ff,#006dff,#0075ff,#007fff,#008dff,#009cff,#00adff,#00beff,#00cfff,#00dfff,#00eeff,#00faff,#04fffb,#0bfff4,#0dfff2 135.25px)}
.e24{background:repeating-linear-gradient(90deg,#17ffe8,#15ffea,#10ffef,#07fff8,#00faff,#00ecff,#00dbff,#00caff,#00b9ff,#00a8ff,#0099ff,#008bff,#0080ff,#0078ff,#0072ff,#006eff,#006bff,#0069ff,#0067ff,#0068ff,#006aff,#006eff,#0071ff,#0076ff,#007dff,#0088ff,#0095ff,#00a4ff,#00b5ff,#00c6ff,#00d7ff,#00e8ff,#00f7ff,#04fffb,#0efff1,#14ffeb,#17ffe8 135.25px)}
.e25{background:repeating-linear-gradient(90deg,#20ffdf,#1effe1,#19ffe6,#11ffee,#04fffb,#00f4ff,#00e3ff,#00d2ff,#00c1ff,#00b0ff,#00a1ff,#0093ff,#0088ff,#0081ff,#007bff,#0078ff,#0074ff,#0072ff,#0071ff,#0071ff,#0074ff,#0077ff,#007aff,#007fff,#0086ff,#0090ff,#009dff,#00acff,#00bcff,#00cdff,#00dfff,#00f0ff,#00ffff,#0efff1,#17ffe8,#1dffe2,#20ffdf 135.25px)}
.e26{background:repeating-linear-gradient(90deg,#29ffd6,#28ffd7,#23ffdc,#1affe5,#0dfff2,#00fcff,#00ebff,#00d9ff,#00c8ff,#00b8ff,#00a9ff,#009cff,#0091ff,#008aff,#0085ff,#0081ff,#007eff,#007bff,#007aff,#007bff,#007dff,#0080ff,#0084ff,#0088ff,#008fff,#0099ff,#00a5ff,#00b4ff,#00c4ff,#00d5ff,#00e6ff,#00f7ff,#09fff6,#17ffe8,#21ffde,#27ffd8,#29ffd6 135.25px)}
.e27{background:repeating-linear-gradient(90deg,#32ffcd,#31ffce,#2cffd3,#23ffdc,#16ffe9,#05fffa,#00f2ff,#00e1ff,#00d0ff,#00c0ff,#00b2ff,#00a5ff,#009aff,#0093ff,#008eff,#008bff,#0088ff,#0085ff,#0084ff,#0085ff,#0087ff,#008aff,#008dff,#0092ff,#0098ff,#00a2ff,#00aeff,#00bcff,#00ccff,#00dcff,#00edff,#00ffff,#12ffed,#20ffdf,#2affd5,#30ffcf,#32ffcd 135.25px)}
.e28{background:repeating-linear-gradient(90deg,#3cffc3,#3bffc4,#36ffc9,#2dffd2,#1fffe0,#0dfff2,#00faff,#00e8ff,#00d8ff,#00c8ff,#00baff,#00aeff,#00a4ff,#009cff,#0098ff,#0094ff,#0091ff,#008fff,#008eff,#008fff,#0091ff,#0094ff,#0097ff,#009bff,#00a1ff,#00abff,#00b7ff,#00c4ff,#00d3ff,#00e4ff,#00f5ff,#08fff7,#1affe5,#2affd5,#34ffcb,#3affc5,#3cffc3 135.25px)}
.e29{background:repeating-linear-gradient(90deg,#45ffba,#44ffbb,#40ffbf,#36ffc9,#28ffd7,#16ffe9,#02fffd,#00f0ff,#00dfff,#00d1ff,#00c3ff,#00b7ff,#00adff,#00a6ff,#00a2ff,#009eff,#009bff,#0099ff,#0098ff,#0099ff,#009bff,#009eff,#00a1ff,#00a5ff,#00abff,#00b4ff,#00bfff,#00cdff,#00dbff,#00ebff,#00fdff,#10ffef,#23ffdc,#33ffcc,#3effc1,#43ffbc,#45ffba 135.25px)}
.e30{background:repeating-linear-gradient(90deg,#4fffb0,#4effb1,#4affb5,#40ffbf,#31ffce,#1effe1,#0afff5,#00f7ff,#00e7ff,#00d9ff,#00cbff,#00c0ff,#00b6ff,#00b0ff,#00abff,#00a8ff,#00a6ff,#00a3ff,#00a2ff,#00a3ff,#00a5ff,#00a8ff,#00abff,#00aeff,#00b4ff,#00bdff,#00c8ff,#00d5ff,#00e3ff,#00f3ff,#05fffa,#19ffe6,#2cffd3,#3cffc3,#48ffb7,#4dffb2,#4fffb0 135.25px)}
.e31{background:repeating-linear-gradient(90deg,#5affa5,#59ffa6,#54ffab,#4affb5,#3affc5,#27ffd8,#12ffed,#00ffff,#00efff,#00e1ff,#00d4ff,#00c9ff,#00c0ff,#00b9ff,#00b5ff,#00b2ff,#00b0ff,#00aeff,#00adff,#00aeff,#00afff,#00b2ff,#00b4ff,#00b8ff,#00beff,#00c6ff,#00d1ff,#00deff,#00ebff,#00fbff,#0dfff2,#21ffde,#35ffca,#46ffb9,#52ffad,#58ffa7,#5affa5 135.25px)}
.e32{background:repeating-linear-gradient(90deg,#64ff9b,#63ff9c,#5effa1,#54ffab,#44ffbb,#2fffd0,#1bffe4,#08fff7,#00f7ff,#00eaff,#00ddff,#00d2ff,#00c9ff,#00c3ff,#00bfff,#00bdff,#00baff,#00b8ff,#00b8ff,#00b8ff,#00baff,#00bcff,#00beff,#00c2ff,#00c7ff,#00cfff,#00daff,#00e6ff,#00f4ff,#04fffb,#15ffea,#2affd5,#3effc1,#50ffaf,#5cffa3,#62ff9d,#64ff9b 135.25px)}
.e33{background:repeating-linear-gradient(90deg,#70ff8f,#6fff90,#69ff96,#5effa1,#4dffb2,#38ffc7,#23ffdc,#11ffee,#01fffe,#00f2ff,#00e5ff,#00dbff,#00d2ff,#00ccff,#00c9ff,#00c6ff,#00c5ff,#00c3ff,#00c2ff,#00c3ff,#00c4ff,#00c6ff,#00c8ff,#00cbff,#00d0ff,#00d8ff,#00e2ff,#00eeff,#00fcff,#0cfff3,#1effe1,#33ffcc,#48ffb7,#5affa5,#67ff98,#6eff91,#70ff8f 135.25px)}
.e34{background:repeating-linear-gradient(90deg,#7cff83,#7aff85,#75ff8a,#69ff96,#57ffa8,#42ffbd,#2cffd3,#19ffe6,#09fff6,#00faff,#00eeff,#00e3ff,#00dbff,#00d6ff,#00d2ff,#00d0ff,#00cfff,#00ceff,#00cdff,#00cdff,#00ceff,#00d0ff,#00d2ff,#00d5ff,#00d9ff,#00e1ff,#00ebff,#00f7ff,#05fffa,#15ffea,#27ffd8,#3cffc3,#52ffad,#65ff9a,#72ff8d,#79ff86,#7cff83 135.25px)}
.e35{background:repeating-linear-gradient(90deg,#88ff77,#87ff78,#80ff7f,#74ff8b,#62ff9d,#4cffb3,#35ffca,#22ffdd,#12ffed,#04fffb,#00f6ff,#00ecff,#00e4ff,#00dfff,#00dcff,#00daff,#00d9ff,#00d8ff,#00d8ff,#00d8ff,#00d9ff,#00daff,#00dbff,#00deff,#00e2ff,#00e9ff,#00f3ff,#00ffff,#0efff1,#1dffe2,#30ffcf,#46ffb9,#5cffa3,#70ff8f,#7eff81,#86ff79,#88ff77 135.25px)}
.e36{background:repeating-linear-gradient(90deg,#95ff6a,#94ff6b,#8cff73,#7fff80,#6cff93,#56ffa9,#3fffc0,#2bffd4,#1affe5,#0cfff3,#00ffff,#00f4ff,#00ecff,#00e7ff,#00e5ff,#00e4ff,#00e3ff,#00e3ff,#00e2ff,#00e3ff,#00e3ff,#00e4ff,#00e5ff,#00e7ff,#00ebff,#00f2ff,#00fcff,#09fff6,#16ffe9,#26ffd9,#39ffc6,#4fffb0,#66ff99,#7bff84,#8aff75,#92ff6d,#95ff6a 135.25px)}
.e37{background:repeating-linear-gradient(90deg,#a3ff5c,#a1ff5e,#99ff66,#8bff74,#77ff88,#60ff9f,#49ffb6,#34ffcb,#23ffdc,#14ffeb,#08fff7,#00fcff,#00f5ff,#00f0ff,#00eeff,#00edff,#00edff,#00edff,#00edff,#00edff,#00edff,#00edff,#00eeff,#00efff,#00f3ff,#00faff,#05fffa,#11ffee,#1fffe0,#30ffcf,#43ffbc,#5affa5,#71ff8e,#86ff79,#96ff69,#9fff60,#a3ff5c 135.25px)}
.e38{background:repeating-linear-gradient(90deg,#b1ff4e,#aeff51,#a5ff5a,#96ff69,#82ff7d,#6aff95,#53ffac,#3effc1,#2cffd3,#1dffe2,#10ffef,#05fffa,#00fdff,#00f9ff,#00f7ff,#00f7ff,#00f7ff,#00f7ff,#00f8ff,#00f8ff,#00f7ff,#00f7ff,#00f7ff,#00f8ff,#00fbff,#03fffc,#0dfff2,#19ffe6,#28ffd7,#39ffc6,#4dffb2,#64ff9b,#7cff83,#91ff6e,#a2ff5d,#adff52,#b1ff4e 135.25px)}
.e39{background:repeating-linear-gradient(90deg,#bfff40,#bcff43,#b2ff4d,#a2ff5d,#8dff72,#75ff8a,#5dffa2,#47ffb8,#35ffca,#25ffda,#18ffe7,#0dfff2,#06fff9,#02fffd,#01fffe,#01fffe,#02fffd,#03fffc,#03fffc,#03fffc,#02fffd,#01fffe,#01fffe,#01fffe,#05fffa,#0bfff4,#15ffea,#21ffde,#30ffcf,#42ffbd,#57ffa8,#6eff91,#86ff79,#9dff62,#aeff51,#baff45,#bfff40 135.25px)}
.e40{background:repeating-linear-gradient(90deg,#cdff32,#c9ff36,#beff41,#adff52,#97ff68,#7fff80,#67ff98,#51ffae,#3effc1,#2dffd2,#20ffdf,#15ffea,#0efff1,#0afff5,#09fff6,#0afff5,#0bfff4,#0dfff2,#0dfff2,#0dfff2,#0cfff3,#0afff5,#09fff6,#0afff5,#0dfff2,#13ffec,#1dffe2,#29ffd6,#39ffc6,#4cffb3,#61ff9e,#79ff86,#91ff6e,#a8ff57,#baff45,#c7ff38,#cdff32 135.25px)}
.e41{background:repeating-linear-gradient(90deg,#daff25,#d7ff28,#cbff34,#b8ff47,#a2ff5d,#89ff76,#71ff8e,#5affa5,#46ffb9,#35ffca,#28ffd7,#1dffe2,#16ffe9,#12ffed,#12ffed,#13ffec,#15ffea,#16ffe9,#17ffe8,#17ffe8,#15ffea,#13ffec,#12ffed,#12ffed,#15ffea,#1bffe4,#24ffdb,#31ffce,#42ffbd,#55ffaa,#6bff94,#83ff7c,#9cff63,#b3ff4c,#c6ff39,#d4ff2b,#daff25 135.25px)}
.e42{background:repeating-linear-gradient(90deg,#e8ff17,#e4ff1b,#d7ff28,#c3ff3c,#acff53,#94ff6b,#7bff84,#64ff9b,#4fffb0,#3effc1,#2fffd0,#25ffda,#1effe1,#1affe5,#1affe5,#1bffe4,#1effe1,#20ffdf,#21ffde,#20ffdf,#1effe1,#1cffe3,#1affe5,#1affe5,#1dffe2,#22ffdd,#2cffd3,#39ffc6,#4affb5,#5effa1,#75ff8a,#8dff72,#a6ff59,#beff41,#d2ff2d,#e1ff1e,#e8ff17 135.25px)}
.e43{background:repeating-linear-gradient(90deg,#f5ff0a,#f1ff0e,#e3ff1c,#ceff31,#b6ff49,#9dff62,#85ff7a,#6dff92,#58ffa7,#46ffb9,#37ffc8,#2cffd3,#26ffd9,#22ffdd,#22ffdd,#24ffdb,#26ffd9,#29ffd6,#2affd5,#29ffd6,#27ffd8,#25ffda,#23ffdc,#22ffdd,#24ffdb,#2affd5,#34ffcb,#41ffbe,#53ffac,#67ff98,#7eff81,#97ff68,#b0ff4f,#c8ff37,#deff21,#eeff11,#f5ff0a 135.25px)}
.e44{background:repeating-linear-gradient(90deg,#fffc00,#fdff02,#eeff11,#d8ff27,#c0ff3f,#a7ff58,#8eff71,#76ff89,#60ff9f,#4effb1,#3fffc0,#34ffcb,#2dffd2,#2affd5,#2affd5,#2cffd3,#2fffd0,#32ffcd,#33ffcc,#32ffcd,#30ffcf,#2dffd2,#2bffd4,#2affd5,#2cffd3,#32ffcd,#3cffc3,#49ffb6,#5bffa4,#70ff8f,#88ff77,#a0ff5f,#b9ff46,#d2ff2d,#e9ff16,#faff05,#fffc00 135.25px)}
.e45{background:repeating-linear-gradient(90deg,#fff000,#fff500,#f9ff06,#e2ff1d,#c9ff36,#b0ff4f,#97ff68,#7fff80,#69ff96,#56ffa9,#47ffb8,#3cffc3,#35ffca,#32ffcd,#32ffcd,#34ffcb,#37ffc8,#3affc5,#3bffc4,#3bffc4,#38ffc7,#35ffca,#33ffcc,#32ffcd,#34ffcb,#3affc5,#43ffbc,#51ffae,#63ff9c,#79ff86,#91ff6e,#a9ff56,#c3ff3c,#dbff24,#f3ff0c,#fff800,#fff000 135.25px)}
.e46{background:repeating-linear-gradient(90deg,#ffe400,#ffea00,#fffb00,#ebff14,#d2ff2d,#b9ff46,#a0ff5f,#88ff77,#71ff8e,#5dffa2,#4effb1,#44ffbb,#3dffc2,#3affc5,#3affc5,#3cffc3,#3fffc0,#42ffbd,#44ffbb,#43ffbc,#40ffbf,#3dffc2,#3bffc4,#3affc5,#3cffc3,#42ffbd,#4bffb4,#59ffa6,#6bff94,#81ff7e,#99ff66,#b2ff4d,#cbff34,#e4ff1b,#fdff02,#ffee00,#ffe400 135.25px)}
.e47{background:repeating-linear-gradient(90deg,#ffda00,#ffe000,#fff200,#f4ff0b,#daff25,#c1ff3e,#a8ff57,#90ff6f,#79ff86,#65ff9a,#56ffa9,#4bffb4,#45ffba,#42ffbd,#42ffbd,#44ffbb,#47ffb8,#4affb5,#4bffb4,#4affb5,#48ffb7,#45ffba,#42ffbd,#42ffbd,#44ffbb,#49ffb6,#53ffac,#61ff9e,#73ff8c,#89ff76,#a2ff5d,#baff45,#d3ff2c,#edff12,#fff800,#ffe300,#ffda00 135.25px)}
.e48{background:repeating-linear-gradient(90deg,#ffd000,#ffd600,#ffe900,#fcff03,#e2ff1d,#c9ff36,#b0ff4f,#98ff67,#81ff7e,#6dff92,#5effa1,#53ffac,#4dffb2,#4affb5,#4affb5,#4bffb4,#4effb1,#51ffae,#52ffad,#51ffae,#4fffb0,#4cffb3,#4affb5,#4affb5,#4cffb3,#51ffae,#5affa5,#68ff97,#7bff84,#91ff6e,#aaff55,#c2ff3d,#dbff24,#f5ff0a,#ffef00,#ffda00,#ffd000 135.25px)}
.e49{background:repeating-linear-gradient(90deg,#ffc600,#ffcd00,#ffe000,#fffb00,#e9ff16,#d0ff2f,#b8ff47,#9fff60,#88ff77,#74ff8b,#65ff9a,#5bffa4,#54ffab,#52ffad,#51ffae,#53ffac,#55ffaa,#58ffa7,#59ffa6,#58ffa7,#56ffa9,#53ffac,#51ffae,#51ffae,#53ffac,#59ffa6,#62ff9d,#70ff8f,#82ff7d,#99ff66,#b1ff4e,#caff35,#e3ff1c,#fcff03,#ffe700,#ffd100,#ffc600 135.25px)}
.e50{background:repeating-linear-gradient(90deg,#ffbd00,#ffc400,#ffd900,#fff300,#f0ff0f,#d8ff27,#bfff40,#a7ff58,#8fff70,#7bff84,#6cff93,#62ff9d,#5cffa3,#59ffa6,#58ffa7,#5affa5,#5cffa3,#5effa1,#5fffa0,#5fffa0,#5cffa3,#5affa5,#59ffa6,#58ffa7,#5bffa4,#60ff9f,#69ff96,#77ff88,#8aff75,#a0ff5f,#b9ff46,#d1ff2e,#eaff15,#fffb00,#ffdf00,#ffc800,#ffbd00 135.25px)}
.e51{background:repeating-linear-gradient(90deg,#ffb500,#ffbc00,#ffd100,#ffec00,#f7ff08,#dfff20,#c6ff39,#aeff51,#96ff69,#82ff7d,#73ff8c,#69ff96,#63ff9c,#60ff9f,#5fffa0,#60ff9f,#62ff9d,#64ff9b,#65ff9a,#65ff9a,#63ff9c,#61ff9e,#5fffa0,#5fffa0,#62ff9d,#67ff98,#70ff8f,#7eff81,#91ff6e,#a7ff58,#c0ff3f,#d8ff27,#f1ff0e,#fff400,#ffd800,#ffc000,#ffb500 135.25px)}
.e52{background:repeating-linear-gradient(90deg,#ffad00,#ffb400,#ffca00,#ffe600,#feff01,#e5ff1a,#cdff32,#b5ff4a,#9dff62,#89ff76,#7aff85,#70ff8f,#6aff95,#66ff99,#66ff99,#66ff99,#68ff97,#6aff95,#6bff94,#6aff95,#69ff96,#67ff98,#66ff99,#66ff99,#68ff97,#6eff91,#77ff88,#84ff7b,#97ff68,#aeff51,#c7ff38,#dfff20,#f7ff08,#ffed00,#ffd100,#ffb900,#ffad00 135.25px)}
.e53{background:repeating-linear-gradient(90deg,#ffa600,#ffad00,#ffc300,#ffdf00,#fffa00,#ecff13,#d4ff2b,#bbff44,#a4ff5b,#8fff70,#80ff7f,#76ff89,#70ff8f,#6dff92,#6cff93,#6cff93,#6eff91,#6fff90,#70ff8f,#70ff8f,#6eff91,#6cff93,#6cff93,#6cff93,#6fff90,#74ff8b,#7dff82,#8aff75,#9eff61,#b5ff4a,#ceff31,#e6ff19,#feff01,#ffe600,#ffca00,#ffb200,#ffa600 135.25px)}
.e54{background:repeating-linear-gradient(90deg,#ff9f00,#ffa600,#ffbc00,#ffd800,#fff300,#f3ff0c,#dbff24,#c2ff3d,#aaff55,#95ff6a,#86ff79,#7cff83,#75ff8a,#72ff8d,#71ff8e,#72ff8d,#73ff8c,#74ff8b,#75ff8a,#75ff8a,#73ff8c,#72ff8d,#71ff8e,#72ff8d,#74ff8b,#7aff85,#82ff7d,#90ff6f,#a4ff5b,#bbff44,#d4ff2b,#ecff13,#fffa00,#ffe000,#ffc400,#ffab00,#ff9f00 135.25px)}
.e55{background:repeating-linear-gradient(90deg,#ff9800,#ffa000,#ffb600,#ffd200,#ffed00,#f9ff06,#e1ff1e,#c8ff37,#afff50,#9aff65,#8bff74,#81ff7e,#7bff84,#77ff88,#76ff89,#76ff89,#78ff87,#79ff86,#7aff85,#79ff86,#78ff87,#77ff88,#76ff89,#77ff88,#79ff86,#7fff80,#88ff77,#96ff69,#a9ff56,#c1ff3e,#daff25,#f3ff0c,#fff300,#ffd900,#ffbd00,#ffa400,#ff9800 135.25px)}
.e56{background:repeating-linear-gradient(90deg,#ff9200,#ff9a00,#ffb000,#ffcc00,#ffe600,#ffff00,#e7ff18,#ceff31,#b5ff4a,#9fff60,#90ff6f,#85ff7a,#7fff80,#7cff83,#7bff84,#7bff84,#7cff83,#7eff81,#7eff81,#7eff81,#7dff82,#7bff84,#7bff84,#7bff84,#7eff81,#83ff7c,#8cff73,#9bff64,#afff50,#c7ff38,#e1ff1e,#f9ff06,#ffed00,#ffd300,#ffb700,#ff9e00,#ff9200 135.25px)}
.e57{background:repeating-linear-gradient(90deg,#ff8c00,#ff9400,#ffa900,#ffc500,#ffe000,#fff800,#edff12,#d4ff2b,#baff45,#a4ff5b,#94ff6b,#89ff76,#83ff7c,#80ff7f,#7eff81,#7fff80,#80ff7f,#82ff7d,#83ff7c,#82ff7d,#81ff7e,#7fff80,#7eff81,#7fff80,#82ff7d,#87ff78,#90ff6f,#9fff60,#b4ff4b,#cdff32,#e7ff18,#fffe00,#ffe600,#ffcc00,#ffb100,#ff9800,#ff8c00 135.25px)}
.e58{background:repeating-linear-gradient(90deg,#ff8700,#ff8e00,#ffa300,#ffbf00,#ffd900,#fff200,#f3ff0c,#d9ff26,#bfff40,#a8ff57,#97ff68,#8cff73,#86ff79,#83ff7c,#82ff7d,#82ff7d,#84ff7b,#86ff79,#87ff78,#86ff79,#84ff7b,#83ff7c,#82ff7d,#82ff7d,#85ff7a,#8aff75,#94ff6b,#a3ff5c,#b8ff47,#d2ff2d,#edff12,#fff800,#ffe000,#ffc600,#ffaa00,#ff9300,#ff8700 135.25px)}
.e59{background:repeating-linear-gradient(90deg,#ff8200,#ff8900,#ff9d00,#ffb800,#ffd200,#ffeb00,#f9ff06,#deff21,#c3ff3c,#acff53,#9aff65,#8fff70,#88ff77,#85ff7a,#84ff7b,#85ff7a,#87ff78,#89ff76,#8aff75,#8aff75,#88ff77,#86ff79,#85ff7a,#85ff7a,#87ff78,#8dff72,#97ff68,#a6ff59,#bcff43,#d7ff28,#f2ff0d,#fff200,#ffd900,#ffbf00,#ffa400,#ff8d00,#ff8200 135.25px)}
.e60{background:repeating-linear-gradient(90deg,#ff7d00,#ff8400,#ff9800,#ffb200,#ffcc00,#ffe500,#ffff00,#e3ff1c,#c7ff38,#afff50,#9dff62,#91ff6e,#8aff75,#87ff78,#87ff78,#88ff77,#8aff75,#8cff73,#8eff71,#8dff72,#8bff74,#89ff76,#87ff78,#87ff78,#89ff76,#8fff70,#99ff66,#a9ff56,#c0ff3f,#dbff24,#f8ff07,#ffec00,#ffd300,#ffb900,#ff9f00,#ff8800,#ff7d00 135.25px)}
.e61{background:repeating-linear-gradient(90deg,#ff7900,#ff7f00,#ff9300,#ffac00,#ffc600,#ffe000,#fffa00,#e7ff18,#cbff34,#b1ff4e,#9fff60,#93ff6c,#8cff73,#89ff76,#88ff77,#8aff75,#8dff72,#8fff70,#91ff6e,#90ff6f,#8eff71,#8bff74,#89ff76,#88ff77,#8aff75,#90ff6f,#9bff64,#acff53,#c3ff3c,#dfff20,#fcff03,#ffe600,#ffcd00,#ffb300,#ff9900,#ff8400,#ff7900 135.25px)}
.e62{background:repeating-linear-gradient(90deg,#ff7500,#ff7b00,#ff8e00,#ffa700,#ffc100,#ffda00,#fff500,#ebff14,#ceff31,#b4ff4b,#a1ff5e,#94ff6b,#8dff72,#8aff75,#8aff75,#8cff73,#8fff70,#92ff6d,#93ff6c,#92ff6d,#90ff6f,#8dff72,#8aff75,#89ff76,#8bff74,#91ff6e,#9dff62,#aeff51,#c6ff39,#e3ff1c,#fffd00,#ffe100,#ffc700,#ffae00,#ff9400,#ff7f00,#ff7500 135.25px)}
.e63{background:repeating-linear-gradient(90deg,#ff7200,#ff7800,#ff8a00,#ffa200,#ffbc00,#ffd600,#fff100,#eeff11,#d0ff2f,#b6ff49,#a2ff5d,#95ff6a,#8dff72,#8aff75,#8bff74,#8dff72,#91ff6e,#94ff6b,#96ff69,#95ff6a,#92ff6d,#8eff71,#8bff74,#8aff75,#8cff73,#92ff6d,#9eff61,#b0ff4f,#c9ff36,#e6ff19,#fff900,#ffdd00,#ffc300,#ffa900,#ff9000,#ff7c00,#ff7200 135.25px)}
.e64{background:repeating-linear-gradient(90deg,#ff7000,#ff7500,#ff8700,#ff9e00,#ffb800,#ffd200,#ffee00,#f1ff0e,#d2ff2d,#b7ff48,#a3ff5c,#95ff6a,#8eff71,#8bff74,#8bff74,#8eff71,#92ff6d,#96ff69,#98ff67,#97ff68,#93ff6c,#8fff70,#8cff73,#8bff74,#8cff73,#93ff6c,#9eff61,#b1ff4e,#cbff34,#e9ff16,#fff600,#ffd900,#ffbe00,#ffa500,#ff8d00,#ff7900,#ff7000 135.25px)}
.e65{background:repeating-linear-gradient(90deg,#ff6e00,#ff7300,#ff8400,#ff9b00,#ffb400,#ffcf00,#ffeb00,#f3ff0c,#d4ff2b,#b8ff47,#a3ff5c,#96ff69,#8eff71,#8bff74,#8cff73,#8fff70,#93ff6c,#97ff68,#99ff66,#98ff67,#95ff6a,#90ff6f,#8dff72,#8bff74,#8dff72,#93ff6c,#9fff60,#b2ff4d,#ccff33,#ebff14,#fff300,#ffd600,#ffbb00,#ffa200,#ff8a00,#ff7700,#ff6e00 135.25px)}
.e66{background:repeating-linear-gradient(90deg,#ff6c00,#ff7100,#ff8200,#ff9900,#ffb200,#ffcc00,#ffe900,#f5ff0a,#d5ff2a,#b9ff46,#a4ff5b,#96ff69,#8eff71,#8bff74,#8cff73,#90ff6f,#94ff6b,#98ff67,#9aff65,#99ff66,#95ff6a,#91ff6e,#8dff72,#8bff74,#8dff72,#93ff6c,#9fff60,#b2ff4d,#cdff32,#ecff13,#fff200,#ffd400,#ffb900,#ff9f00,#ff8800,#ff7500,#ff6c00 135.25px)}
.e67{background:repeating-linear-gradient(90deg,#ff6b00,#ff7100,#ff8100,#ff9800,#ffb100,#ffcb00,#ffe800,#f6ff09,#d6ff29,#b9ff46,#a4ff5b,#96ff69,#8eff71,#8bff74,#8cff73,#90ff6f,#94ff6b,#99ff66,#9bff64,#99ff66,#96ff69,#91ff6e,#8dff72,#8bff74,#8dff72,#93ff6c,#9fff60,#b3ff4c,#cdff32,#edff12,#fff100,#ffd300,#ffb700,#ff9e00,#ff8700,#ff7400,#ff6b00 135.25px)}
.f0{background:repeating-linear-gradient(90deg,#64ff9b,#64ff9b,#62ff9d,#5fffa0,#59ffa6,#51ffae,#48ffb7,#3fffc0,#35ffca,#2affd5,#1dffe2,#0ffff0,#01fffe,#00f5ff,#00edff,#00e7ff,#00e2ff,#00e0ff,#00dfff,#00dfff,#00e1ff,#00e4ff,#00eaff,#00f1ff,#00fbff,#08fff7,#16ffe9,#24ffdb,#30ffcf,#3affc5,#44ffbb,#4dffb2,#55ffaa,#5cffa3,#61ff9e,#63ff9c,#64ff9b 135.25px)}
.f1{background:repeating-linear-gradient(90deg,#63ff9c,#63ff9c,#61ff9e,#5effa1,#58ffa7,#50ffaf,#47ffb8,#3effc1,#35ffca,#2affd5,#1dffe2,#0efff1,#01fffe,#00f5ff,#00edff,#00e7ff,#00e2ff,#00e0ff,#00dfff,#00dfff,#00e1ff,#00e4ff,#00eaff,#00f1ff,#00faff,#08fff7,#16ffe9,#24ffdb,#30ffcf,#3affc5,#43ffbc,#4cffb3,#54ffab,#5bffa4,#60ff9f,#63ff9c,#63ff9c 135.25px)}
.f2{background:repeating-linear-gradient(90deg,#61ff9e,#61ff9e,#5fffa0,#5cffa3,#56ffa9,#4effb1,#45ffba,#3dffc2,#33ffcc,#28ffd7,#1cffe3,#0efff1,#01fffe,#00f5ff,#00edff,#00e7ff,#00e2ff,#00e0ff,#00dfff,#00dfff,#00e1ff,#00e4ff,#00eaff,#00f1ff,#00faff,#07fff8,#15ffea,#22ffdd,#2effd1,#38ffc7,#41ffbe,#4affb5,#52ffad,#59ffa6,#5effa1,#60ff9f,#61ff9e 135.25px)}
.f3{background:repeating-linear-gradient(90deg,#5dffa2,#5dffa2,#5bffa4,#58ffa7,#53ffac,#4bffb4,#43ffbc,#3affc5,#31ffce,#26ffd9,#1affe5,#0dfff2,#00ffff,#00f4ff,#00ecff,#00e7ff,#00e2ff,#00e0ff,#00dfff,#00dfff,#00e1ff,#00e4ff,#00e9ff,#00f0ff,#00faff,#06fff9,#14ffeb,#21ffde,#2cffd3,#36ffc9,#3fffc0,#47ffb8,#4fffb0,#56ffa9,#5affa5,#5cffa3,#5dffa2 135.25px)}
.f4{background:repeating-linear-gradient(90deg,#58ffa7,#57ffa8,#56ffa9,#53ffac,#4effb1,#47ffb8,#3fffc0,#37ffc8,#2effd1,#24ffdb,#18ffe7,#0bfff4,#00feff,#00f4ff,#00ecff,#00e6ff,#00e2ff,#00e0ff,#00dfff,#00dfff,#00e1ff,#00e4ff,#00e9ff,#00f0ff,#00f9ff,#05fffa,#12ffed,#1effe1,#29ffd6,#33ffcc,#3bffc4,#43ffbc,#4bffb4,#51ffae,#55ffaa,#57ffa8,#58ffa7 135.25px)}
.f5{background:repeating-linear-gradient(90deg,#51ffae,#51ffae,#50ffaf,#4effb1,#49ffb6,#42ffbd,#3bffc4,#33ffcc,#2affd5,#21ffde,#15ffea,#09fff6,#00fdff,#00f3ff,#00ecff,#00e6ff,#00e2ff,#00e0ff,#00dfff,#00e0ff,#00e1ff,#00e4ff,#00e9ff,#00efff,#00f8ff,#04fffb,#10ffef,#1bffe4,#26ffd9,#2fffd0,#37ffc8,#3fffc0,#46ffb9,#4cffb3,#4fffb0,#51ffae,#51ffae 135.25px)}
.f6{background:repeating-linear-gradient(90deg,#4affb5,#4affb5,#4affb5,#47ffb8,#43ffbc,#3dffc2,#36ffc9,#2effd1,#26ffd9,#1dffe2,#12ffed,#07fff8,#00fbff,#00f2ff,#00ebff,#00e6ff,#00e2ff,#00e0ff,#00dfff,#00e0ff,#00e1ff,#00e4ff,#00e8ff,#00eeff,#00f7ff,#02fffd,#0dfff2,#18ffe7,#22ffdd,#2bffd4,#32ffcd,#3affc5,#40ffbf,#46ffb9,#49ffb6,#4affb5,#4affb5 135.25px)}
.f7{background:repeating-linear-gradient(90deg,#43ffbc,#43ffbc,#42ffbd,#40ffbf,#3dffc2,#37ffc8,#30ffcf,#29ffd6,#22ffdd,#19ffe6,#0ffff0,#05fffa,#00faff,#00f1ff,#00eaff,#00e5ff,#00e2ff,#00e0ff,#00dfff,#00e0ff,#00e1ff,#00e4ff,#00e8ff,#00eeff,#00f5ff,#00ffff,#0afff5,#15ffea,#1effe1,#26ffd9,#2dffd2,#34ffcb,#3affc5,#3fffc0,#42ffbd,#43ffbc,#43ffbc 135.25px)}
.f8{background:repeating-linear-gradient(90deg,#3bffc4,#3bffc4,#3bffc4,#39ffc6,#36ffc9,#31ffce,#2bffd4,#24ffdb,#1dffe2,#15ffea,#0cfff3,#02fffd,#00f8ff,#00f0ff,#00eaff,#00e5ff,#00e2ff,#00e0ff,#00dfff,#00e0ff,#00e1ff,#00e3ff,#00e7ff,#00edff,#00f4ff,#00fdff,#07fff8,#11ffee,#19ffe6,#21ffde,#28ffd7,#2effd1,#34ffcb,#38ffc7,#3affc5,#3bffc4,#3bffc4 135.25px)}
.f9{background:repeating-linear-gradient(90deg,#33ffcc,#33ffcc,#33ffcc,#32ffcd,#2fffd0,#2affd5,#25ffda,#1fffe0,#18ffe7,#11ffee,#08fff7,#00feff,#00f6ff,#00efff,#00e9ff,#00e4ff,#00e1ff,#00e0ff,#00dfff,#00dfff,#00e1ff,#00e3ff,#00e6ff,#00ecff,#00f2ff,#00faff,#04fffb,#0dfff2,#15ffea,#1cffe3,#22ffdd,#28ffd7,#2dffd2,#30ffcf,#32ffcd,#33ffcc,#33ffcc 135.25px)}
.f10{background:repeating-linear-gradient(90deg,#2affd5,#2affd5,#2bffd4,#2affd5,#28ffd7,#24ffdb,#1fffe0,#19ffe6,#13ffec,#0cfff3,#05fffa,#00fcff,#00f4ff,#00edff,#00e8ff,#00e4ff,#00e1ff,#00e0ff,#00dfff,#00dfff,#00e0ff,#00e2ff,#00e6ff,#00eaff,#00f1ff,#00f8ff,#01fffe,#09fff6,#10ffef,#16ffe9,#1cffe3,#21ffde,#26ffd9,#29ffd6,#2affd5,#2bffd4,#2affd5 135.25px)}
.f11{background:repeating-linear-gradient(90deg,#22ffdd,#22ffdd,#23ffdc,#22ffdd,#21ffde,#1dffe2,#19ffe6,#14ffeb,#0efff1,#08fff7,#01fffe,#00f9ff,#00f2ff,#00ecff,#00e7ff,#00e3ff,#00e1ff,#00dfff,#00dfff,#00dfff,#00e0ff,#00e2ff,#00e5ff,#00e9ff,#00efff,#00f5ff,#00fcff,#05fffa,#0bfff4,#11ffee,#16ffe9,#1bffe4,#1fffe0,#22ffdd,#23ffdc,#23ffdc,#22ffdd 135.25px)}
.f12{background:repeating-linear-gradient(90deg,#1bffe4,#1bffe4,#1bffe4,#1bffe4,#1affe5,#17ffe8,#13ffec,#0efff1,#09fff6,#03fffc,#00fcff,#00f6ff,#00f0ff,#00eaff,#00e6ff,#00e2ff,#00e0ff,#00dfff,#00deff,#00dfff,#00dfff,#00e1ff,#00e4ff,#00e8ff,#00edff,#00f3ff,#00f9ff,#00ffff,#06fff9,#0cfff3,#11ffee,#15ffea,#18ffe7,#1bffe4,#1bffe4,#1bffe4,#1bffe4 135.25px)}
.f13{background:repeating-linear-gradient(90deg,#13ffec,#14ffeb,#14ffeb,#14ffeb,#13ffec,#11ffee,#0dfff2,#09fff6,#04fffb,#00feff,#00f9ff,#00f3ff,#00edff,#00e8ff,#00e4ff,#00e1ff,#00dfff,#00deff,#00deff,#00deff,#00dfff,#00e0ff,#00e3ff,#00e6ff,#00ebff,#00f0ff,#00f6ff,#00fcff,#02fffd,#07fff8,#0bfff4,#0ffff0,#12ffed,#14ffeb,#14ffeb,#14ffeb,#13ffec 135.25px)}
.f14{background:repeating-linear-gradient(90deg,#0dfff2,#0dfff2,#0dfff2,#0efff1,#0dfff2,#0bfff4,#08fff7,#04fffb,#00ffff,#00faff,#00f5ff,#00f0ff,#00ebff,#00e7ff,#00e3ff,#00e0ff,#00dfff,#00deff,#00deff,#00deff,#00deff,#00dfff,#00e2ff,#00e5ff,#00e9ff,#00eeff,#00f3ff,#00f8ff,#00fdff,#02fffd,#06fff9,#09fff6,#0cfff3,#0dfff2,#0efff1,#0dfff2,#0dfff2 135.25px)}
.f15{background:repeating-linear-gradient(90deg,#06fff9,#06fff9,#07fff8,#07fff8,#07fff8,#05fffa,#02fffd,#00feff,#00faff,#00f6ff,#00f2ff,#00edff,#00e9ff,#00e5ff,#00e2ff,#00e0ff,#00deff,#00ddff,#00ddff,#00ddff,#00deff,#00dfff,#00e1ff,#00e4ff,#00e7ff,#00ebff,#00f0ff,#00f4ff,#00f8ff,#00fcff,#01fffe,#04fffb,#06fff9,#07fff8,#07fff8,#07fff8,#06fff9 135.25px)}
.f16{background:repeating-linear-gradient(90deg,#00ffff,#00ffff,#01fffe,#01fffe,#01fffe,#00feff,#00fcff,#00f9ff,#00f6ff,#00f2ff,#00efff,#00ebff,#00e7ff,#00e4ff,#00e1ff,#00dfff,#00ddff,#00ddff,#00ddff,#00ddff,#00ddff,#00deff,#00e0ff,#00e2ff,#00e5ff,#00e9ff,#00edff,#00f1ff,#00f4ff,#00f8ff,#00fbff,#00fdff,#00ffff,#01fffe,#01fffe,#00ffff,#00ffff 135.25px)}
.f17{background:repeating-linear-gradient(90deg,#00f9ff,#00f9ff,#00faff,#00faff,#00faff,#00f9ff,#00f7ff,#00f5ff,#00f2ff,#00efff,#00ebff,#00e8ff,#00e5ff,#00e2ff,#00e0ff,#00deff,#00ddff,#00ddff,#00dcff,#00dcff,#00ddff,#00ddff,#00dfff,#00e1ff,#00e4ff,#00e7ff,#00eaff,#00edff,#00f0ff,#00f3ff,#00f6ff,#00f8ff,#00f9ff,#00faff,#00faff,#00f9ff,#00f9ff 135.25px)}
.f18{background:repeating-linear-gradient(90deg,#00f3ff,#00f3ff,#00f4ff,#00f4ff,#00f4ff,#00f3ff,#00f1ff,#00f0ff,#00edff,#00ebff,#00e8ff,#00e6ff,#00e3ff,#00e1ff,#00dfff,#00deff,#00ddff,#00dcff,#00dcff,#00dcff,#00dcff,#00ddff,#00deff,#00e0ff,#00e2ff,#00e5ff,#00e7ff,#00eaff,#00ecff,#00efff,#00f1ff,#00f2ff,#00f3ff,#00f4ff,#00f4ff,#00f3ff,#00f3ff 135.25px)}
.f19{background:repeating-linear-gradient(90deg,#00edff,#00edff,#00edff,#00edff,#00edff,#00ecff,#00ebff,#00eaff,#00e9ff,#00e7ff,#00e5ff,#00e3ff,#00e2ff,#00e0ff,#00deff,#00ddff,#00ddff,#00dcff,#00dcff,#00dcff,#00dcff,#00ddff,#00deff,#00dfff,#00e1ff,#00e2ff,#00e4ff,#00e6ff,#00e8ff,#00e9ff,#00ebff,#00ecff,#00edff,#00edff,#00edff,#00edff,#00edff 135.25px)}
.f20{background:repeating-linear-gradient(90deg,#00e6ff,#00e6ff,#00e6ff,#00e5ff,#00e5ff,#00e5ff,#00e4ff,#00e4ff,#00e3ff,#00e3ff,#00e2ff,#00e1ff,#00e0ff,#00dfff,#00deff,#00ddff,#00ddff,#00ddff,#00ddff,#00ddff,#00ddff,#00ddff,#00ddff,#00deff,#00dfff,#00e0ff,#00e1ff,#00e2ff,#00e3ff,#00e3ff,#00e4ff,#00e5ff,#00e5ff,#00e5ff,#00e6ff,#00e6ff,#00e6ff 135.25px)}
.f21{background:repeating-linear-gradient(90deg,#00deff,#00deff,#00ddff,#00dcff,#00dcff,#00dcff,#00dcff,#00dcff,#00ddff,#00deff,#00deff,#00deff,#00deff,#00deff,#00ddff,#00ddff,#00ddff,#00ddff,#00ddff,#00ddff,#00ddff,#00ddff,#00ddff,#00deff,#00deff,#00deff,#00deff,#00deff,#00ddff,#00dcff,#00dcff,#00dcff,#00dbff,#00dcff,#00ddff,#00ddff,#00deff 135.25px)}
.f22{background:repeating-linear-gradient(90deg,#00d5ff,#00d4ff,#00d3ff,#00d2ff,#00d1ff,#00d1ff,#00d2ff,#00d3ff,#00d6ff,#00d9ff,#00daff,#00dcff,#00ddff,#00ddff,#00ddff,#00ddff,#00deff,#00deff,#00deff,#00deff,#00deff,#00ddff,#00ddff,#00ddff,#00ddff,#00dcff,#00dbff,#00daff,#00d7ff,#00d4ff,#00d3ff,#00d2ff,#00d1ff,#00d1ff,#00d3ff,#00d4ff,#00d5ff 135.25px)}
.f23{background:repeating-linear-gradient(90deg,#00ccff,#00cbff,#00c9ff,#00c7ff,#00c5ff,#00c6ff,#00c8ff,#00caff,#00ceff,#00d3ff,#00d6ff,#00d9ff,#00dcff,#00ddff,#00ddff,#00deff,#00deff,#00dfff,#00dfff,#00dfff,#00dfff,#00deff,#00deff,#00ddff,#00dcff,#00daff,#00d8ff,#00d5ff,#00d0ff,#00cbff,#00c9ff,#00c7ff,#00c5ff,#00c6ff,#00c8ff,#00caff,#00ccff 135.25px)}
.f24{background:repeating-linear-gradient(90deg,#00c3ff,#00c2ff,#00c0ff,#00bdff,#00bbff,#00bcff,#00beff,#00c1ff,#00c7ff,#00ceff,#00d3ff,#00d7ff,#00dbff,#00ddff,#00deff,#00dfff,#00e0ff,#00e0ff,#00e1ff,#00e1ff,#00e0ff,#00dfff,#00dfff,#00deff,#00dcff,#00d9ff,#00d5ff,#00d1ff,#00caff,#00c3ff,#00c0ff,#00bdff,#00bbff,#00bcff,#00beff,#00c1ff,#00c3ff 135.25px)}
.f25{background:repeating-linear-gradient(90deg,#00bdff,#00bbff,#00b9ff,#00b6ff,#00b3ff,#00b5ff,#00b8ff,#00bbff,#00c2ff,#00cbff,#00d1ff,#00d6ff,#00dbff,#00deff,#00dfff,#00e1ff,#00e2ff,#00e2ff,#00e3ff,#00e3ff,#00e2ff,#00e1ff,#00e0ff,#00deff,#00ddff,#00d8ff,#00d3ff,#00ceff,#00c6ff,#00beff,#00b9ff,#00b6ff,#00b3ff,#00b4ff,#00b7ff,#00baff,#00bdff 135.25px)}
.f26{background:repeating-linear-gradient(90deg,#00b9ff,#00b8ff,#00b5ff,#00b2ff,#00b0ff,#00b1ff,#00b4ff,#00b8ff,#00c0ff,#00c9ff,#00d0ff,#00d6ff,#00dcff,#00dfff,#00e1ff,#00e3ff,#00e4ff,#00e5ff,#00e5ff,#00e5ff,#00e4ff,#00e3ff,#00e2ff,#00e0ff,#00deff,#00d9ff,#00d3ff,#00cdff,#00c4ff,#00bbff,#00b6ff,#00b3ff,#00b0ff,#00b1ff,#00b4ff,#00b7ff,#00b9ff 135.25px)}
.f27{background:repeating-linear-gradient(90deg,#00b9ff,#00b8ff,#00b5ff,#00b3ff,#00b0ff,#00b2ff,#00b5ff,#00b9ff,#00c1ff,#00caff,#00d1ff,#00d7ff,#00ddff,#00e1ff,#00e3ff,#00e5ff,#00e6ff,#00e7ff,#00e7ff,#00e7ff,#00e7ff,#00e6ff,#00e4ff,#00e2ff,#00dfff,#00daff,#00d4ff,#00ceff,#00c5ff,#00bcff,#00b7ff,#00b3ff,#00b0ff,#00b1ff,#00b4ff,#00b7ff,#00b9ff 135.25px)}
.f28{background:repeating-linear-gradient(90deg,#00bcff,#00bbff,#00b8ff,#00b6ff,#00b4ff,#00b5ff,#00b8ff,#00bcff,#00c4ff,#00ccff,#00d3ff,#00daff,#00e0ff,#00e4ff,#00e6ff,#00e8ff,#00e9ff,#00eaff,#00eaff,#00eaff,#00eaff,#00e9ff,#00e7ff,#00e5ff,#00e2ff,#00ddff,#00d6ff,#00d0ff,#00c8ff,#00bfff,#00baff,#00b7ff,#00b4ff,#00b5ff,#00b7ff,#00b9ff,#00bcff 135.25px)}
.f29{background:repeating-linear-gradient(90deg,#00bfff,#00beff,#00bdff,#00bbff,#00b9ff,#00bbff,#00bdff,#00c1ff,#00c8ff,#00cfff,#00d6ff,#00ddff,#00e2ff,#00e6ff,#00e9ff,#00ebff,#00ecff,#00edff,#00edff,#00edff,#00edff,#00ecff,#00eaff,#00e8ff,#00e5ff,#00dfff,#00d9ff,#00d3ff,#00cbff,#00c4ff,#00bfff,#00bcff,#00baff,#00baff,#00bcff,#00beff,#00bfff 135.25px)}
.f30{background:repeating-linear-gradient(90deg,#00c3ff,#00c2ff,#00c1ff,#00c0ff,#00bfff,#00c0ff,#00c2ff,#00c6ff,#00ccff,#00d3ff,#00d9ff,#00e0ff,#00e5ff,#00eaff,#00edff,#00eeff,#00efff,#00f0ff,#00f0ff,#00f0ff,#00f0ff,#00efff,#00eeff,#00ebff,#00e8ff,#00e2ff,#00dcff,#00d6ff,#00cfff,#00c9ff,#00c4ff,#00c1ff,#00bfff,#00bfff,#00c0ff,#00c2ff,#00c3ff 135.25px)}
.f31{background:repeating-linear-gradient(90deg,#00c7ff,#00c6ff,#00c5ff,#00c4ff,#00c4ff,#00c5ff,#00c7ff,#00cbff,#00d0ff,#00d6ff,#00ddff,#00e3ff,#00e9ff,#00edff,#00f0ff,#00f2ff,#00f2ff,#00f3ff,#00f2ff,#00f2ff,#00f3ff,#00f2ff,#00f1ff,#00eeff,#00ebff,#00e6ff,#00e0ff,#00d9ff,#00d3ff,#00cdff,#00c9ff,#00c6ff,#00c4ff,#00c4ff,#00c5ff,#00c6ff,#00c7ff 135.25px)}
.f32{background:repeating-linear-gradient(90deg,#00caff,#00caff,#00c9ff,#00c9ff,#00c8ff,#00c9ff,#00cbff,#00cfff,#00d4ff,#00daff,#00e0ff,#00e6ff,#00ecff,#00f0ff,#00f3ff,#00f5ff,#00f5ff,#00f5ff,#00f5ff,#00f5ff,#00f5ff,#00f5ff,#00f4ff,#00f2ff,#00eeff,#00e9ff,#00e3ff,#00ddff,#00d7ff,#00d1ff,#00cdff,#00caff,#00c9ff,#00c8ff,#00c9ff,#00caff,#00caff 135.25px)}
.f33{background:repeating-linear-gradient(90deg,#00ceff,#00cdff,#00cdff,#00cdff,#00cdff,#00ceff,#00d0ff,#00d3ff,#00d8ff,#00ddff,#00e4ff,#00eaff,#00efff,#00f3ff,#00f6ff,#00f8ff,#00f8ff,#00f8ff,#00f8ff,#00f8ff,#00f8ff,#00f8ff,#00f7ff,#00f5ff,#00f1ff,#00ecff,#00e7ff,#00e0ff,#00daff,#00d5ff,#00d1ff,#00cfff,#00cdff,#00cdff,#00cdff,#00cdff,#00ceff 135.25px)}
.f34{background:repeating-linear-gradient(90deg,#00d2ff,#00d2ff,#00d2ff,#00d2ff,#00d2ff,#00d3ff,#00d5ff,#00d8ff,#00dcff,#00e2ff,#00e8ff,#00eeff,#00f3ff,#00f7ff,#00f9ff,#00faff,#00fbff,#00fbff,#00fbff,#00fbff,#00fbff,#00fbff,#00faff,#00f8ff,#00f5ff,#00f0ff,#00eaff,#00e4ff,#00dfff,#00daff,#00d6ff,#00d4ff,#00d2ff,#00d2ff,#00d2ff,#00d2ff,#00d2ff 135.25px)}
.f35{background:repeating-linear-gradient(90deg,#00d7ff,#00d7ff,#00d7ff,#00d8ff,#00d8ff,#00d9ff,#00dbff,#00ddff,#00e1ff,#00e6ff,#00ecff,#00f2ff,#00f7ff,#00faff,#00fcff,#00fdff,#00fdff,#00fdff,#00fdff,#00fdff,#00fdff,#00fdff,#00fdff,#00fbff,#00f9ff,#00f4ff,#00efff,#00e9ff,#00e4ff,#00dfff,#00dcff,#00daff,#00d9ff,#00d8ff,#00d8ff,#00d7ff,#00d7ff 135.25px)}
.f36{background:repeating-linear-gradient(90deg,#00ddff,#00ddff,#00deff,#00dfff,#00e0ff,#00e0ff,#00e2ff,#00e4ff,#00e8ff,#00ecff,#00f1ff,#00f6ff,#00fbff,#00feff,#00ffff,#01fffe,#01fffe,#00ffff,#00ffff,#00ffff,#00ffff,#01fffe,#01fffe,#00ffff,#00fdff,#00f9ff,#00f4ff,#00eeff,#00e9ff,#00e6ff,#00e3ff,#00e1ff,#00e0ff,#00dfff,#00deff,#00deff,#00ddff 135.25px)}
.f37{background:repeating-linear-gradient(90deg,#00e5ff,#00e5ff,#00e6ff,#00e7ff,#00e8ff,#00e9ff,#00eaff,#00ecff,#00efff,#00f2ff,#00f7ff,#00fcff,#01fffe,#03fffc,#03fffc,#03fffc,#03fffc,#02fffd,#02fffd,#02fffd,#03fffc,#03fffc,#03fffc,#03fffc,#02fffd,#00feff,#00f9ff,#00f4ff,#00f0ff,#00edff,#00ebff,#00eaff,#00e9ff,#00e8ff,#00e7ff,#00e5ff,#00e5ff 135.25px)}
.f38{background:repeating-linear-gradient(90deg,#00edff,#00eeff,#00efff,#00f1ff,#00f2ff,#00f3ff,#00f4ff,#00f5ff,#00f7ff,#00f9ff,#00fdff,#02fffd,#05fffa,#07fff8,#07fff8,#06fff9,#05fffa,#04fffb,#04fffb,#04fffb,#05fffa,#05fffa,#06fff9,#07fff8,#06fff9,#04fffb,#00ffff,#00fbff,#00f8ff,#00f6ff,#00f4ff,#00f3ff,#00f2ff,#00f1ff,#00f0ff,#00eeff,#00edff 135.25px)}
.f39{background:repeating-linear-gradient(90deg,#00f7ff,#00f7ff,#00f9ff,#00fbff,#00fdff,#00feff,#00feff,#00ffff,#01fffe,#02fffd,#05fffa,#08fff7,#0afff5,#0bfff4,#0afff5,#08fff7,#07fff8,#06fff9,#06fff9,#06fff9,#07fff8,#07fff8,#09fff6,#0afff5,#0bfff4,#09fff6,#06fff9,#03fffc,#01fffe,#00ffff,#00ffff,#00feff,#00fdff,#00fcff,#00faff,#00f8ff,#00f7ff 135.25px)}
.f40{background:repeating-linear-gradient(90deg,#02fffd,#03fffc,#05fffa,#08fff7,#0afff5,#0bfff4,#0bfff4,#0bfff4,#0bfff4,#0bfff4,#0cfff3,#0efff1,#0ffff0,#0ffff0,#0dfff2,#0bfff4,#09fff6,#08fff7,#08fff7,#08fff7,#08fff7,#0afff5,#0cfff3,#0efff1,#0ffff0,#0ffff0,#0dfff2,#0cfff3,#0bfff4,#0bfff4,#0bfff4,#0bfff4,#0afff5,#09fff6,#07fff8,#04fffb,#02fffd 135.25px)}
.f41{background:repeating-linear-gradient(90deg,#0efff1,#0ffff0,#11ffee,#15ffea,#17ffe8,#18ffe7,#17ffe8,#16ffe9,#15ffea,#14ffeb,#15ffea,#15ffea,#15ffea,#13ffec,#10ffef,#0dfff2,#0bfff4,#0afff5,#0afff5,#0afff5,#0afff5,#0cfff3,#0ffff0,#12ffed,#14ffeb,#15ffea,#15ffea,#14ffeb,#15ffea,#16ffe9,#17ffe8,#18ffe7,#17ffe8,#16ffe9,#13ffec,#10ffef,#0efff1 135.25px)}
.f42{background:repeating-linear-gradient(90deg,#1bffe4,#1cffe3,#1fffe0,#22ffdd,#24ffdb,#25ffda,#25ffda,#23ffdc,#21ffde,#1effe1,#1dffe2,#1cffe3,#1affe5,#17ffe8,#13ffec,#0ffff0,#0dfff2,#0bfff4,#0bfff4,#0bfff4,#0cfff3,#0efff1,#11ffee,#16ffe9,#19ffe6,#1bffe4,#1dffe2,#1effe1,#1fffe0,#22ffdd,#24ffdb,#25ffda,#25ffda,#23ffdc,#20ffdf,#1dffe2,#1bffe4 135.25px)}
.f43{background:repeating-linear-gradient(90deg,#28ffd7,#29ffd6,#2cffd3,#30ffcf,#33ffcc,#34ffcb,#33ffcc,#30ffcf,#2dffd2,#29ffd6,#26ffd9,#23ffdc,#20ffdf,#1cffe3,#17ffe8,#12ffed,#0ffff0,#0dfff2,#0dfff2,#0dfff2,#0efff1,#10ffef,#14ffeb,#19ffe6,#1effe1,#22ffdd,#25ffda,#28ffd7,#2bffd4,#2fffd0,#32ffcd,#33ffcc,#33ffcc,#32ffcd,#2effd1,#2bffd4,#28ffd7 135.25px)}
.f44{background:repeating-linear-gradient(90deg,#37ffc8,#38ffc7,#3bffc4,#3fffc0,#42ffbd,#43ffbc,#41ffbe,#3effc1,#3affc5,#35ffca,#30ffcf,#2bffd4,#26ffd9,#20ffdf,#1affe5,#15ffea,#11ffee,#0ffff0,#0efff1,#0efff1,#10ffef,#13ffec,#17ffe8,#1dffe2,#23ffdc,#29ffd6,#2effd1,#32ffcd,#37ffc8,#3cffc3,#40ffbf,#42ffbd,#43ffbc,#41ffbe,#3dffc2,#39ffc6,#37ffc8 135.25px)}
.f45{background:repeating-linear-gradient(90deg,#46ffb9,#47ffb8,#4bffb4,#4fffb0,#52ffad,#52ffad,#51ffae,#4dffb2,#47ffb8,#41ffbe,#3affc5,#33ffcc,#2cffd3,#25ffda,#1effe1,#17ffe8,#13ffec,#10ffef,#0ffff0,#10ffef,#11ffee,#15ffea,#1affe5,#21ffde,#29ffd6,#30ffcf,#37ffc8,#3dffc2,#44ffbb,#4affb5,#4fffb0,#52ffad,#52ffad,#51ffae,#4dffb2,#48ffb7,#46ffb9 135.25px)}
.f46{background:repeating-linear-gradient(90deg,#56ffa9,#57ffa8,#5bffa4,#5fffa0,#62ff9d,#63ff9c,#60ff9f,#5cffa3,#55ffaa,#4dffb2,#44ffbb,#3bffc4,#32ffcd,#29ffd6,#21ffde,#1affe5,#15ffea,#12ffed,#11ffee,#11ffee,#13ffec,#17ffe8,#1effe1,#25ffda,#2effd1,#37ffc8,#40ffbf,#49ffb6,#51ffae,#59ffa6,#5effa1,#62ff9d,#63ff9c,#61ff9e,#5dffa2,#58ffa7,#56ffa9 135.25px)}
.f47{background:repeating-linear-gradient(90deg,#66ff99,#67ff98,#6bff94,#70ff8f,#73ff8c,#73ff8c,#71ff8e,#6bff94,#64ff9b,#5affa5,#4fffb0,#44ffbb,#39ffc6,#2effd1,#25ffda,#1dffe2,#17ffe8,#14ffeb,#12ffed,#12ffed,#15ffea,#1affe5,#21ffde,#29ffd6,#33ffcc,#3effc1,#4affb5,#55ffaa,#5fffa0,#68ff97,#6eff91,#72ff8d,#73ff8c,#72ff8d,#6eff91,#69ff96,#66ff99 135.25px)}
.f48{background:repeating-linear-gradient(90deg,#77ff88,#78ff87,#7cff83,#81ff7e,#84ff7b,#84ff7b,#81ff7e,#7bff84,#72ff8d,#67ff98,#5affa5,#4dffb2,#3fffc0,#33ffcc,#28ffd7,#20ffdf,#19ffe6,#15ffea,#13ffec,#14ffeb,#17ffe8,#1dffe2,#24ffdb,#2effd1,#39ffc6,#46ffb9,#54ffab,#61ff9e,#6dff92,#77ff88,#7eff81,#83ff7c,#84ff7b,#82ff7d,#7fff80,#7aff85,#77ff88 135.25px)}
.f49{background:repeating-linear-gradient(90deg,#88ff77,#89ff76,#8dff72,#92ff6d,#95ff6a,#95ff6a,#91ff6e,#8bff74,#82ff7d,#75ff8a,#66ff99,#55ffaa,#45ffba,#37ffc8,#2cffd3,#23ffdc,#1cffe3,#17ffe8,#14ffeb,#15ffea,#19ffe6,#1fffe0,#27ffd8,#32ffcd,#3effc1,#4dffb2,#5effa1,#6eff91,#7cff83,#87ff78,#8fff70,#93ff6c,#95ff6a,#94ff6b,#90ff6f,#8bff74,#88ff77 135.25px)}
.f50{background:repeating-linear-gradient(90deg,#99ff66,#9aff65,#9fff60,#a3ff5c,#a6ff59,#a5ff5a,#a2ff5d,#9bff64,#91ff6e,#83ff7c,#71ff8e,#5effa1,#4cffb3,#3cffc3,#30ffcf,#26ffd9,#1effe1,#18ffe7,#15ffea,#16ffe9,#1bffe4,#22ffdd,#2bffd4,#36ffc9,#44ffbb,#55ffaa,#68ff97,#7bff84,#8bff74,#97ff68,#9fff60,#a4ff5b,#a6ff59,#a5ff5a,#a1ff5e,#9cff63,#99ff66 135.25px)}
.f51{background:repeating-linear-gradient(90deg,#aaff55,#abff54,#b0ff4f,#b4ff4b,#b7ff48,#b6ff49,#b2ff4d,#abff54,#a0ff5f,#91ff6e,#7dff82,#67ff98,#52ffad,#41ffbe,#33ffcc,#29ffd6,#20ffdf,#19ffe6,#16ffe9,#17ffe8,#1cffe3,#24ffdb,#2effd1,#3affc5,#49ffb6,#5dffa2,#73ff8c,#88ff77,#99ff66,#a6ff59,#afff50,#b5ff4a,#b7ff48,#b6ff49,#b2ff4d,#adff52,#aaff55 135.25px)}
.f52{background:repeating-linear-gradient(90deg,#bbff44,#bcff43,#c0ff3f,#c5ff3a,#c7ff38,#c7ff38,#c3ff3c,#bbff44,#afff50,#9fff60,#89ff76,#70ff8f,#58ffa7,#45ffba,#37ffc8,#2bffd4,#22ffdd,#1bffe4,#17ffe8,#18ffe7,#1effe1,#27ffd8,#31ffce,#3effc1,#4effb1,#64ff9b,#7dff82,#95ff6a,#a8ff57,#b6ff49,#bfff40,#c5ff3a,#c7ff38,#c6ff39,#c3ff3c,#beff41,#bbff44 135.25px)}
.f53{background:repeating-linear-gradient(90deg,#cbff34,#ccff33,#d1ff2e,#d5ff2a,#d8ff27,#d7ff28,#d2ff2d,#cbff34,#beff41,#adff52,#94ff6b,#79ff86,#5fffa0,#4affb5,#3affc5,#2effd1,#24ffdb,#1cffe3,#18ffe7,#19ffe6,#20ffdf,#29ffd6,#34ffcb,#41ffbe,#54ffab,#6cff93,#87ff78,#a2ff5d,#b7ff48,#c5ff3a,#cfff30,#d5ff2a,#d8ff27,#d7ff28,#d3ff2c,#ceff31,#cbff34 135.25px)}
.f54{background:repeating-linear-gradient(90deg,#dbff24,#dcff23,#e0ff1f,#e5ff1a,#e8ff17,#e6ff19,#e2ff1d,#daff25,#cdff32,#baff45,#a0ff5f,#82ff7d,#65ff9a,#4effb1,#3dffc2,#30ffcf,#25ffda,#1dffe2,#19ffe6,#1affe5,#21ffde,#2bffd4,#37ffc8,#45ffba,#59ffa6,#73ff8c,#92ff6d,#aeff51,#c5ff3a,#d4ff2b,#deff21,#e5ff1a,#e7ff18,#e7ff18,#e3ff1c,#deff21,#dbff24 135.25px)}
.f55{background:repeating-linear-gradient(90deg,#e9ff16,#ebff14,#efff10,#f5ff0a,#f7ff08,#f6ff09,#f1ff0e,#e8ff17,#dbff24,#c7ff38,#abff54,#8bff74,#6bff94,#52ffad,#40ffbf,#32ffcd,#27ffd8,#1effe1,#19ffe6,#1bffe4,#22ffdd,#2cffd3,#39ffc6,#49ffb6,#5effa1,#7bff84,#9cff63,#bbff44,#d3ff2c,#e3ff1c,#edff12,#f4ff0b,#f7ff08,#f6ff09,#f2ff0d,#edff12,#e9ff16 135.25px)}
.f56{background:repeating-linear-gradient(90deg,#f7ff08,#f8ff07,#feff01,#fffb00,#fff900,#fffa00,#ffff00,#f7ff08,#e9ff16,#d4ff2b,#b6ff49,#93ff6c,#71ff8e,#56ffa9,#43ffbc,#34ffcb,#28ffd7,#1effe1,#1affe5,#1bffe4,#23ffdc,#2effd1,#3bffc4,#4cffb3,#63ff9c,#82ff7d,#a6ff59,#c7ff38,#e0ff1f,#f1ff0e,#fbff04,#fffc00,#fff900,#fff900,#fffe00,#fbff04,#f7ff08 135.25px)}
.f57{background:repeating-linear-gradient(90deg,#fffb00,#fff900,#fff300,#ffed00,#ffeb00,#ffec00,#fff200,#fffa00,#f6ff09,#e1ff1e,#c1ff3e,#9bff64,#77ff88,#5affa5,#45ffba,#36ffc9,#29ffd6,#1fffe0,#1affe5,#1cffe3,#24ffdb,#2fffd0,#3dffc2,#4fffb0,#68ff97,#89ff76,#afff50,#d3ff2c,#edff12,#feff01,#fff500,#ffee00,#ffeb00,#ffec00,#fff000,#fff700,#fffb00 135.25px)}
.f58{background:repeating-linear-gradient(90deg,#fff000,#ffee00,#ffe700,#ffe100,#ffde00,#ffe000,#ffe500,#ffee00,#fffb00,#edff12,#cbff34,#a3ff5c,#7dff82,#5effa1,#47ffb8,#37ffc8,#29ffd6,#1fffe0,#1affe5,#1cffe3,#24ffdb,#30ffcf,#3fffc0,#52ffad,#6dff92,#90ff6f,#b9ff46,#deff21,#f9ff06,#fff300,#ffe900,#ffe200,#ffde00,#ffdf00,#ffe400,#ffeb00,#fff000 135.25px)}
.f59{background:repeating-linear-gradient(90deg,#ffe600,#ffe400,#ffdd00,#ffd500,#ffd200,#ffd400,#ffd900,#ffe200,#fff000,#f8ff07,#d5ff2a,#abff54,#82ff7d,#61ff9e,#49ffb6,#38ffc7,#2affd5,#1fffe0,#1affe5,#1cffe3,#24ffdb,#31ffce,#40ffbf,#55ffaa,#71ff8e,#97ff68,#c1ff3e,#e9ff16,#fff900,#ffe800,#ffdd00,#ffd600,#ffd200,#ffd300,#ffd900,#ffe100,#ffe600 135.25px)}
.f60{background:repeating-linear-gradient(90deg,#ffdd00,#ffdb00,#ffd300,#ffcb00,#ffc700,#ffc900,#ffcf00,#ffd700,#ffe500,#fffc00,#deff21,#b2ff4d,#87ff78,#64ff9b,#4bffb4,#38ffc7,#2affd5,#1fffe0,#1affe5,#1cffe3,#24ffdb,#31ffce,#41ffbe,#57ffa8,#75ff8a,#9dff62,#caff35,#f2ff0d,#ffee00,#ffdd00,#ffd200,#ffcb00,#ffc800,#ffc800,#ffcf00,#ffd700,#ffdd00 135.25px)}
.f61{background:repeating-linear-gradient(90deg,#ffd500,#ffd300,#ffca00,#ffc100,#ffbd00,#ffbf00,#ffc500,#ffce00,#ffdb00,#fff300,#e7ff18,#b9ff46,#8cff73,#67ff98,#4cffb3,#39ffc6,#2affd5,#1fffe0,#1affe5,#1cffe3,#24ffdb,#31ffce,#42ffbd,#59ffa6,#79ff86,#a3ff5c,#d1ff2e,#fbff04,#ffe500,#ffd300,#ffc900,#ffc200,#ffbe00,#ffbf00,#ffc600,#ffcf00,#ffd500 135.25px)}
.f62{background:repeating-linear-gradient(90deg,#ffcf00,#ffcc00,#ffc300,#ffb900,#ffb500,#ffb700,#ffbd00,#ffc500,#ffd300,#ffea00,#eeff11,#bfff40,#90ff6f,#6aff95,#4effb1,#39ffc6,#2affd5,#1fffe0,#1affe5,#1cffe3,#24ffdb,#31ffce,#43ffbc,#5bffa4,#7cff83,#a8ff57,#d8ff27,#fffb00,#ffdc00,#ffcb00,#ffc100,#ffb900,#ffb500,#ffb600,#ffbe00,#ffc800,#ffcf00 135.25px)}
.f63{background:repeating-linear-gradient(90deg,#ffca00,#ffc700,#ffbd00,#ffb200,#ffae00,#ffb000,#ffb600,#ffbe00,#ffcb00,#ffe300,#f4ff0b,#c4ff3b,#94ff6b,#6cff93,#4fffb0,#39ffc6,#2affd5,#1fffe0,#1affe5,#1cffe3,#24ffdb,#31ffce,#44ffbb,#5dffa2,#7fff80,#acff53,#deff21,#fff400,#ffd500,#ffc300,#ffb900,#ffb200,#ffae00,#ffaf00,#ffb700,#ffc200,#ffca00 135.25px)}
.f64{background:repeating-linear-gradient(90deg,#ffc600,#ffc300,#ffb800,#ffac00,#ffa800,#ffaa00,#ffb000,#ffb800,#ffc500,#ffdd00,#faff05,#c8ff37,#97ff68,#6eff91,#50ffaf,#39ffc6,#29ffd6,#1fffe0,#1affe5,#1cffe3,#24ffdb,#31ffce,#44ffbb,#5effa1,#82ff7d,#b0ff4f,#e3ff1c,#ffee00,#ffcf00,#ffbd00,#ffb300,#ffac00,#ffa800,#ffa900,#ffb200,#ffbe00,#ffc600 135.25px)}
.f65{background:repeating-linear-gradient(90deg,#ffc300,#ffbf00,#ffb400,#ffa800,#ffa300,#ffa500,#ffab00,#ffb300,#ffc000,#ffd800,#feff01,#ccff33,#99ff66,#6fff90,#50ffaf,#39ffc6,#29ffd6,#1fffe0,#1affe5,#1cffe3,#23ffdc,#31ffce,#44ffbb,#5fffa0,#84ff7b,#b3ff4c,#e7ff18,#ffe900,#ffca00,#ffb900,#ffaf00,#ffa800,#ffa300,#ffa500,#ffae00,#ffba00,#ffc300 135.25px)}
.f66{background:repeating-linear-gradient(90deg,#ffc100,#ffbd00,#ffb100,#ffa500,#ffa000,#ffa200,#ffa800,#ffb000,#ffbd00,#ffd500,#fffd00,#ceff31,#9bff64,#70ff8f,#51ffae,#39ffc6,#29ffd6,#1effe1,#1affe5,#1cffe3,#23ffdc,#31ffce,#44ffbb,#60ff9f,#85ff7a,#b5ff4a,#e9ff16,#ffe600,#ffc700,#ffb500,#ffac00,#ffa500,#ffa000,#ffa200,#ffab00,#ffb800,#ffc100 135.25px)}
.f67{background:repeating-linear-gradient(90deg,#ffc000,#ffbc00,#ffb000,#ffa400,#ff9e00,#ffa000,#ffa700,#ffaf00,#ffbb00,#ffd300,#fffc00,#cfff30,#9cff63,#71ff8e,#51ffae,#39ffc6,#29ffd6,#1effe1,#1affe5,#1bffe4,#23ffdc,#31ffce,#44ffbb,#60ff9f,#86ff79,#b6ff49,#ebff14,#ffe500,#ffc500,#ffb400,#ffaa00,#ffa300,#ff9f00,#ffa000,#ffaa00,#ffb700,#ffc000 135.25px)}
</style></head><body>
<div class="hm" style="left:53px;top:69px"><i class="a0"></i><i class="a1"></i><i class="a2"></i><i class="a3"></i><i class="a4"></i><i class="a5"></i><i class="a6"></i><i class="a7"></i><i class="a8"></i><i class="a9"></i><i class="a10"></i><i class="a11"></i><i class="a12"></i><i class="a13"></i><i class="a14"></i><i class="a15"></i><i class="a16"></i><i class="a17"></i><i class="a18"></i><i class="a19"></i><i class="a20"></i><i class="a21"></i><i class="a22"></i><i class="a23"></i><i class="a24"></i><i class="a25"></i><i class="a26"></i><i class="a27"></i><i class="a28"></i><i class="a29"></i><i class="a30"></i><i class="a31"></i><i class="a32"></i><i class="a33"></i><i class="a34"></i><i class="a35"></i><i class="a36"></i><i class="a37"></i><i class="a38"></i><i class="a39"></i><i class="a40"></i><i class="a41"></i><i class="a42"></i><i class="a43"></i><i class="a44"></i><i class="a45"></i><i class="a46"></i><i class="a47"></i><i class="a48"></i><i class="a49"></i><i class="a50"></i><i class="a51"></i><i class="a52"></i><i class="a53"></i><i class="a54"></i><i class="a55"></i><i class="a56"></i><i class="a57"></i><i class="a58"></i><i class="a59"></i><i class="a60"></i><i class="a61"></i><i class="a62"></i><i class="a63"></i><i class="a64"></i><i class="a65"></i><i class="a66"></i><i class="a67"></i><i class="a67"></i><i class="a66"></i><i class="a65"></i><i class="a64"></i><i class="a63"></i><i class="a62"></i><i class="a61"></i><i class="a60"></i><i class="a59"></i><i class="a58"></i><i class="a57"></i><i class="a56"></i><i class="a55"></i><i class="a54"></i><i class="a53"></i><i class="a52"></i><i class="a51"></i><i class="a50"></i><i class="a49"></i><i class="a48"></i><i class="a47"></i><i class="a46"></i><i class="a45"></i><i class="a44"></i><i class="a43"></i><i class="a42"></i><i class="a41"></i><i class="a40"></i><i class="a39"></i><i class="a38"></i><i class="a37"></i><i class="a36"></i><i class="a35"></i><i class="a34"></i><i class="a33"></i><i class="a32"></i><i class="a31"></i><i class="a30"></i><i class="a29"></i><i class="a28"></i><i class="a27"></i><i class="a26"></i><i class="a25"></i><i class="a24"></i><i class="a23"></i><i class="a22"></i><i class="a21"></i><i class="a20"></i><i class="a19"></i><i class="a18"></i><i class="a17"></i><i class="a16"></i><i class="a15"></i><i class="a14"></i><i class="a13"></i><i class="a12"></i><i class="a11"></i><i class="a10"></i><i class="a9"></i><i class="a8"></i><i class="a7"></i><i class="a6"></i><i class="a5"></i><i class="a4"></i><i class="a3"></i><i class="a2"></i><i class="a1"></i><i class="a0"></i></div>
<div class="hm" style="left:452px;top:69px"><i class="b0"></i><i class="b1"></i><i class="b2"></i><i class="b3"></i><i class="b4"></i><i class="b5"></i><i class="b6"></i><i class="b7"></i><i class="b8"></i><i class="b9"></i><i class="b10"></i><i class="b11"></i><i class="b12"></i><i class="b13"></i><i class="b14"></i><i class="b15"></i><i class="b16"></i><i class="b17"></i><i class="b18"></i><i class="b19"></i><i class="b20"></i><i class="b21"></i><i class="b22"></i><i class="b23"></i><i class="b24"></i><i class="b25"></i><i class="b26"></i><i class="b27"></i><i class="b28"></i><i class="b29"></i><i class="b30"></i><i class="b31"></i><i class="b32"></i><i class="b33"></i><i class="b34"></i><i class="b35"></i><i class="b36"></i><i class="b37"></i><i class="b38"></i><i class="b39"></i><i class="b40"></i><i class="b41"></i><i class="b42"></i><i class="b43"></i><i class="b44"></i><i class="b45"></i><i class="b46"></i><i class="b47"></i><i class="b48"></i><i class="b49"></i><i class="b50"></i><i class="b51"></i><i class="b52"></i><i class="b53"></i><i class="b54"></i><i class="b55"></i><i class="b56"></i><i class="b57"></i><i class="b58"></i><i class="b59"></i><i class="b60"></i><i class="b61"></i><i class="b62"></i><i class="b63"></i><i class="b64"></i><i class="b65"></i><i class="b66"></i><i class="b67"></i><i class="b67"></i><i class="b66"></i><i class="b65"></i><i class="b64"></i><i class="b63"></i><i class="b62"></i><i class="b61"></i><i class="b60"></i><i class="b59"></i><i class="b58"></i><i class="b57"></i><i class="b56"></i><i class="b55"></i><i class="b54"></i><i class="b53"></i><i class="b52"></i><i class="b51"></i><i class="b50"></i><i class="b49"></i><i class="b48"></i><i class="b47"></i><i class="b46"></i><i class="b45"></i><i class="b44"></i><i class="b43"></i><i class="b42"></i><i class="b41"></i><i class="b40"></i><i class="b39"></i><i class="b38"></i><i class="b37"></i><i class="b36"></i><i class="b35"></i><i class="b34"></i><i class="b33"></i><i class="b32"></i><i class="b31"></i><i class="b30"></i><i class="b29"></i><i class="b28"></i><i class="b27"></i><i class="b26"></i><i class="b25"></i><i class="b24"></i><i class="b23"></i><i class="b22"></i><i class="b21"></i><i class="b20"></i><i class="b19"></i><i class="b18"></i><i class="b17"></i><i class="b16"></i><i class="b15"></i><i class="b14"></i><i class="b13"></i><i class="b12"></i><i class="b11"></i><i class="b10"></i><i class="b9"></i><i class="b8"></i><i class="b7"></i><i class="b6"></i><i class="b5"></i><i class="b4"></i><i class="b3"></i><i class="b2"></i><i class="b1"></i><i class="b0"></i></div>
<div class="hm" style="left:53px;top:273px"><i class="c0"></i><i class="c1"></i><i class="c2"></i><i class="c3"></i><i class="c4"></i><i class="c5"></i><i class="c6"></i><i class="c7"></i><i class="c8"></i><i class="c9"></i><i class="c10"></i><i class="c11"></i><i class="c12"></i><i class="c13"></i><i class="c14"></i><i class="c15"></i><i class="c16"></i><i class="c17"></i><i class="c18"></i><i class="c19"></i><i class="c20"></i><i class="c21"></i><i class="c22"></i><i class="c23"></i><i class="c24"></i><i class="c25"></i><i class="c26"></i><i class="c27"></i><i class="c28"></i><i class="c29"></i><i class="c30"></i><i class="c31"></i><i class="c32"></i><i class="c33"></i><i class="c34"></i><i class="c35"></i><i class="c36"></i><i class="c37"></i><i class="c38"></i><i class="c39"></i><i class="c40"></i><i class="c41"></i><i class="c42"></i><i class="c43"></i><i class="c44"></i><i class="c45"></i><i class="c46"></i><i class="c47"></i><i class="c48"></i><i class="c49"></i><i class="c50"></i><i class="c51"></i><i class="c52"></i><i class="c53"></i><i class="c54"></i><i class="c55"></i><i class="c56"></i><i class="c57"></i><i class="c58"></i><i class="c59"></i><i class="c60"></i><i class="c61"></i><i class="c62"></i><i class="c63"></i><i class="c64"></i><i class="c65"></i><i class="c66"></i><i class="c67"></i><i class="c67"></i><i class="c66"></i><i class="c65"></i><i class="c64"></i><i class="c63"></i><i class="c62"></i><i class="c61"></i><i class="c60"></i><i class="c59"></i><i class="c58"></i><i class="c57"></i><i class="c56"></i><i class="c55"></i><i class="c54"></i><i class="c53"></i><i class="c52"></i><i class="c51"></i><i class="c50"></i><i class="c49"></i><i class="c48"></i><i class="c47"></i><i class="c46"></i><i class="c45"></i><i class="c44"></i><i class="c43"></i><i class="c42"></i><i class="c41"></i><i class="c40"></i><i class="c39"></i><i class="c38"></i><i class="c37"></i><i class="c36"></i><i class="c35"></i><i class="c34"></i><i class="c33"></i><i class="c32"></i><i class="c31"></i><i class="c30"></i><i class="c29"></i><i class="c28"></i><i class="c27"></i><i class="c26"></i><i class="c25"></i><i class="c24"></i><i class="c23"></i><i class="c22"></i><i class="c21"></i><i class="c20"></i><i class="c19"></i><i class="c18"></i><i class="c17"></i><i class="c16"></i><i class="c15"></i><i class="c14"></i><i class="c13"></i><i class="c12"></i><i class="c11"></i><i class="c10"></i><i class="c9"></i><i class="c8"></i><i class="c7"></i><i class="c6"></i><i class="c5"></i><i class="c4"></i><i class="c3"></i><i class="c2"></i><i class="c1"></i><i class="c0"></i></div>
<div class="hm" style="left:452px;top:273px"><i class="d0"></i><i class="d1"></i><i class="d2"></i><i class="d3"></i><i class="d4"></i><i class="d5"></i><i class="d6"></i><i class="d7"></i><i class="d8"></i><i class="d9"></i><i class="d10"></i><i class="d11"></i><i class="d12"></i><i class="d13"></i><i class="d14"></i><i class="d15"></i><i class="d16"></i><i class="d17"></i><i class="d18"></i><i class="d19"></i><i class="d20"></i><i class="d21"></i><i class="d22"></i><i class="d23"></i><i class="d24"></i><i class="d25"></i><i class="d26"></i><i class="d27"></i><i class="d28"></i><i class="d29"></i><i class="d30"></i><i class="d31"></i><i class="d32"></i><i class="d33"></i><i class="d34"></i><i class="d35"></i><i class="d36"></i><i class="d37"></i><i class="d38"></i><i class="d39"></i><i class="d40"></i><i class="d41"></i><i class="d42"></i><i class="d43"></i><i class="d44"></i><i class="d45"></i><i class="d46"></i><i class="d47"></i><i class="d48"></i><i class="d49"></i><i class="d50"></i><i class="d51"></i><i class="d52"></i><i class="d53"></i><i class="d54"></i><i class="d55"></i><i class="d56"></i><i class="d57"></i><i class="d58"></i><i class="d59"></i><i class="d60"></i><i class="d61"></i><i class="d62"></i><i class="d63"></i><i class="d64"></i><i class="d65"></i><i class="d66"></i><i class="d67"></i><i class="d67"></i><i class="d66"></i><i class="d65"></i><i class="d64"></i><i class="d63"></i><i class="d62"></i><i class="d61"></i><i class="d60"></i><i class="d59"></i><i class="d58"></i><i class="d57"></i><i class="d56"></i><i class="d55"></i><i class="d54"></i><i class="d53"></i><i class="d52"></i><i class="d51"></i><i class="d50"></i><i class="d49"></i><i class="d48"></i><i class="d47"></i><i class="d46"></i><i class="d45"></i><i class="d44"></i><i class="d43"></i><i class="d42"></i><i class="d41"></i><i class="d40"></i><i class="d39"></i><i class="d38"></i><i class="d37"></i><i class="d36"></i><i class="d35"></i><i class="d34"></i><i class="d33"></i><i class="d32"></i><i class="d31"></i><i class="d30"></i><i class="d29"></i><i class="d28"></i><i class="d27"></i><i class="d26"></i><i class="d25"></i><i class="d24"></i><i class="d23"></i><i class="d22"></i><i class="d21"></i><i class="d20"></i><i class="d19"></i><i class="d18"></i><i class="d17"></i><i class="d16"></i><i class="d15"></i><i class="d14"></i><i class="d13"></i><i class="d12"></i><i class="d11"></i><i class="d10"></i><i class="d9"></i><i class="d8"></i><i class="d7"></i><i class="d6"></i><i class="d5"></i><i class="d4"></i><i class="d3"></i><i class="d2"></i><i class="d1"></i><i class="d0"></i></div>
<div class="hm" style="left:53px;top:476px"><i class="e0"></i><i class="e1"></i><i class="e2"></i><i class="e3"></i><i class="e4"></i><i class="e5"></i><i class="e6"></i><i class="e7"></i><i class="e8"></i><i class="e9"></i><i class="e10"></i><i class="e11"></i><i class="e12"></i><i class="e13"></i><i class="e14"></i><i class="e15"></i><i class="e16"></i><i class="e17"></i><i class="e18"></i><i class="e19"></i><i class="e20"></i><i class="e21"></i><i class="e22"></i><i class="e23"></i><i class="e24"></i><i class="e25"></i><i class="e26"></i><i class="e27"></i><i class="e28"></i><i class="e29"></i><i class="e30"></i><i class="e31"></i><i class="e32"></i><i class="e33"></i><i class="e34"></i><i class="e35"></i><i class="e36"></i><i class="e37"></i><i class="e38"></i><i class="e39"></i><i class="e40"></i><i class="e41"></i><i class="e42"></i><i class="e43"></i><i class="e44"></i><i class="e45"></i><i class="e46"></i><i class="e47"></i><i class="e48"></i><i class="e49"></i><i class="e50"></i><i class="e51"></i><i class="e52"></i><i class="e53"></i><i class="e54"></i><i class="e55"></i><i class="e56"></i><i class="e57"></i><i class="e58"></i><i class="e59"></i><i class="e60"></i><i class="e61"></i><i class="e62"></i><i class="e63"></i><i class="e64"></i><i class="e65"></i><i class="e66"></i><i class="e67"></i><i class="e67"></i><i class="e66"></i><i class="e65"></i><i class="e64"></i><i class="e63"></i><i class="e62"></i><i class="e61"></i><i class="e60"></i><i class="e59"></i><i class="e58"></i><i class="e57"></i><i class="e56"></i><i class="e55"></i><i class="e54"></i><i class="e53"></i><i class="e52"></i><i class="e51"></i><i class="e50"></i><i class="e49"></i><i class="e48"></i><i class="e47"></i><i class="e46"></i><i class="e45"></i><i class="e44"></i><i class="e43"></i><i class="e42"></i><i class="e41"></i><i class="e40"></i><i class="e39"></i><i class="e38"></i><i class="e37"></i><i class="e36"></i><i class="e35"></i><i class="e34"></i><i class="e33"></i><i class="e32"></i><i class="e31"></i><i class="e30"></i><i class="e29"></i><i class="e28"></i><i class="e27"></i><i class="e26"></i><i class="e25"></i><i class="e24"></i><i class="e23"></i><i class="e22"></i><i class="e21"></i><i class="e20"></i><i class="e19"></i><i class="e18"></i><i class="e17"></i><i class="e16"></i><i class="e15"></i><i class="e14"></i><i class="e13"></i><i class="e12"></i><i class="e11"></i><i class="e10"></i><i class="e9"></i><i class="e8"></i><i class="e7"></i><i class="e6"></i><i class="e5"></i><i class="e4"></i><i class="e3"></i><i class="e2"></i><i class="e1"></i><i class="e0"></i></div>
<div class="hm" style="left:452px;top:476px"><i class="f0"></i><i class="f1"></i><i class="f2"></i><i class="f3"></i><i class="f4"></i><i class="f5"></i><i class="f6"></i><i class="f7"></i><i class="f8"></i><i class="f9"></i><i class="f10"></i><i class="f11"></i><i class="f12"></i><i class="f13"></i><i class="f14"></i><i class="f15"></i><i class="f16"></i><i class="f17"></i><i class="f18"></i><i class="f19"></i><i class="f20"></i><i class="f21"></i><i class="f22"></i><i class="f23"></i><i class="f24"></i><i class="f25"></i><i class="f26"></i><i class="f27"></i><i class="f28"></i><i class="f29"></i><i class="f30"></i><i class="f31"></i><i class="f32"></i><i class="f33"></i><i class="f34"></i><i class="f35"></i><i class="f36"></i><i class="f37"></i><i class="f38"></i><i class="f39"></i><i class="f40"></i><i class="f41"></i><i class="f42"></i><i class="f43"></i><i class="f44"></i><i class="f45"></i><i class="f46"></i><i class="f47"></i><i class="f48"></i><i class="f49"></i><i class="f50"></i><i class="f51"></i><i class="f52"></i><i class="f53"></i><i class="f54"></i><i class="f55"></i><i class="f56"></i><i class="f57"></i><i class="f58"></i><i class="f59"></i><i class="f60"></i><i class="f61"></i><i class="f62"></i><i class="f63"></i><i class="f64"></i><i class="f65"></i><i class="f66"></i><i class="f67"></i><i class="f67"></i><i class="f66"></i><i class="f65"></i><i class="f64"></i><i class="f63"></i><i class="f62"></i><i class="f61"></i><i class="f60"></i><i class="f59"></i><i class="f58"></i><i class="f57"></i><i class="f56"></i><i class="f55"></i><i class="f54"></i><i class="f53"></i><i class="f52"></i><i class="f51"></i><i class="f50"></i><i class="f49"></i><i class="f48"></i><i class="f47"></i><i class="f46"></i><i class="f45"></i><i class="f44"></i><i class="f43"></i><i class="f42"></i><i class="f41"></i><i class="f40"></i><i class="f39"></i><i class="f38"></i><i class="f37"></i><i class="f36"></i><i class="f35"></i><i class="f34"></i><i class="f33"></i><i class="f32"></i><i class="f31"></i><i class="f30"></i><i class="f29"></i><i class="f28"></i><i class="f27"></i><i class="f26"></i><i class="f25"></i><i class="f24"></i><i class="f23"></i><i class="f22"></i><i class="f21"></i><i class="f20"></i><i class="f19"></i><i class="f18"></i><i class="f17"></i><i class="f16"></i><i class="f15"></i><i class="f14"></i><i class="f13"></i><i class="f12"></i><i class="f11"></i><i class="f10"></i><i class="f9"></i><i class="f8"></i><i class="f7"></i><i class="f6"></i><i class="f5"></i><i class="f4"></i><i class="f3"></i><i class="f2"></i><i class="f1"></i><i class="f0"></i></div>
<div style="position:absolute;left:281px;top:45.3px;width:199.8px;height:13.4px;background:linear-gradient(90deg,#000087 0.0000% 1.5625%,#000097 1.5625% 3.1250%,#0000a7 3.1250% 4.6875%,#0000b7 4.6875% 6.2500%,#0000c7 6.2500% 7.8125%,#0000d7 7.8125% 9.3750%,#0000e7 9.3750% 10.9375%,#0000f7 10.9375% 12.5000%,#0008ff 12.5000% 14.0625%,#0018ff 14.0625% 15.6250%,#0028ff 15.6250% 17.1875%,#0038ff 17.1875% 18.7500%,#0048ff 18.7500% 20.3125%,#0058ff 20.3125% 21.8750%,#0068ff 21.8750% 23.4375%,#0078ff 23.4375% 25.0000%,#0087ff 25.0000% 26.5625%,#0097ff 26.5625% 28.1250%,#00a7ff 28.1250% 29.6875%,#00b7ff 29.6875% 31.2500%,#00c7ff 31.2500% 32.8125%,#00d7ff 32.8125% 34.3750%,#00e7ff 34.3750% 35.9375%,#00f7ff 35.9375% 37.5000%,#08fff7 37.5000% 39.0625%,#18ffe7 39.0625% 40.6250%,#28ffd7 40.6250% 42.1875%,#38ffc7 42.1875% 43.7500%,#48ffb7 43.7500% 45.3125%,#58ffa7 45.3125% 46.8750%,#68ff97 46.8750% 48.4375%,#78ff87 48.4375% 50.0000%,#87ff78 50.0000% 51.5625%,#97ff68 51.5625% 53.1250%,#a7ff58 53.1250% 54.6875%,#b7ff48 54.6875% 56.2500%,#c7ff38 56.2500% 57.8125%,#d7ff28 57.8125% 59.3750%,#e7ff18 59.3750% 60.9375%,#f7ff08 60.9375% 62.5000%,#fff700 62.5000% 64.0625%,#ffe700 64.0625% 65.6250%,#ffd700 65.6250% 67.1875%,#ffc700 67.1875% 68.7500%,#ffb700 68.7500% 70.3125%,#ffa700 70.3125% 71.8750%,#ff9700 71.8750% 73.4375%,#ff8700 73.4375% 75.0000%,#ff7800 75.0000% 76.5625%,#ff6800 76.5625% 78.1250%,#ff5800 78.1250% 79.6875%,#ff4800 79.6875% 81.2500%,#ff3800 81.2500% 82.8125%,#ff2800 82.8125% 84.3750%,#ff1800 84.3750% 85.9375%,#ff0800 85.9375% 87.5000%,#f70000 87.5000% 89.0625%,#e70000 89.0625% 90.6250%,#d70000 90.6250% 92.1875%,#c70000 92.1875% 93.7500%,#b70000 93.7500% 95.3125%,#a70000 95.3125% 96.8750%,#970000 96.8750% 98.4375%,#870000 98.4375% 100.0000%)"></div>
<svg width="727" height="655" style="position:absolute;left:0;top:0" font-family="Liberation Sans, sans-serif" font-size="15.8" fill="#000">
<style>text{stroke:#000;stroke-width:.25px;stroke-linejoin:round}.tx{filter:blur(.3px)}</style>
<rect x="281" y="45.3" width="199.8" height="13.4" fill="none" stroke="#000" stroke-width="1"/>
<path d="M347.6 45.3v2.2M347.6 58.7v-2.2" stroke="#000" stroke-width="0.8"/>
<path d="M414.2 45.3v2.2M414.2 58.7v-2.2" stroke="#000" stroke-width="0.8"/>
<path d="M188.75 69.9V204.9" stroke="#fff" stroke-width="0.85" opacity="0.82"/>
<path d="M54.3 203.65H323.4" stroke="#fff" stroke-width="1.1" opacity="0.95" fill="none"/>
<path d="M323 203.9V70.9" stroke="#fff" stroke-width="0.6" opacity="0.3" fill="none"/>
<path d="M52.9 205.15H324.1V69.3" stroke="#666676" stroke-width="1.6" fill="none"/>
<path d="M53.5 205.5V69.9H324.6" stroke="#000" stroke-width="1.25" fill="none" opacity="0.8"/>
<path d="M98.5833 69.9v3M98.5833 204.9v-3M143.667 69.9v3M143.667 204.9v-3M188.75 69.9v3M188.75 204.9v-3M233.833 69.9v3M233.833 204.9v-3M278.917 69.9v3M278.917 204.9v-3M53.5 92.4h3M324 92.4h-3M53.5 114.9h3M324 114.9h-3M53.5 137.4h3M324 137.4h-3M53.5 159.9h3M324 159.9h-3M53.5 182.4h3M324 182.4h-3" stroke="#1a1a2a" stroke-width="1" opacity="0.8"/>
<path d="M588.15 69.9V204.9" stroke="#fff" stroke-width="0.85" opacity="0.82"/>
<path d="M453.7 203.65H722.8" stroke="#fff" stroke-width="1.1" opacity="0.95" fill="none"/>
<path d="M722.4 203.9V70.9" stroke="#fff" stroke-width="0.6" opacity="0.3" fill="none"/>
<path d="M452.3 205.15H723.5V69.3" stroke="#666676" stroke-width="1.6" fill="none"/>
<path d="M452.9 205.5V69.9H724" stroke="#000" stroke-width="1.25" fill="none" opacity="0.8"/>
<path d="M497.983 69.9v3M497.983 204.9v-3M543.067 69.9v3M543.067 204.9v-3M588.15 69.9v3M588.15 204.9v-3M633.233 69.9v3M633.233 204.9v-3M678.317 69.9v3M678.317 204.9v-3M452.9 92.4h3M723.4 92.4h-3M452.9 114.9h3M723.4 114.9h-3M452.9 137.4h3M723.4 137.4h-3M452.9 159.9h3M723.4 159.9h-3M452.9 182.4h3M723.4 182.4h-3" stroke="#1a1a2a" stroke-width="1" opacity="0.8"/>
<path d="M188.75 273.4V408.4" stroke="#fff" stroke-width="0.85" opacity="0.82"/>
<path d="M54.3 407.15H323.4" stroke="#fff" stroke-width="1.1" opacity="0.95" fill="none"/>
<path d="M323 407.4V274.4" stroke="#fff" stroke-width="0.6" opacity="0.3" fill="none"/>
<path d="M52.9 408.65H324.1V272.8" stroke="#666676" stroke-width="1.6" fill="none"/>
<path d="M53.5 409V273.4H324.6" stroke="#000" stroke-width="1.25" fill="none" opacity="0.8"/>
<path d="M98.5833 273.4v3M98.5833 408.4v-3M143.667 273.4v3M143.667 408.4v-3M188.75 273.4v3M188.75 408.4v-3M233.833 273.4v3M233.833 408.4v-3M278.917 273.4v3M278.917 408.4v-3M53.5 295.9h3M324 295.9h-3M53.5 318.4h3M324 318.4h-3M53.5 340.9h3M324 340.9h-3M53.5 363.4h3M324 363.4h-3M53.5 385.9h3M324 385.9h-3" stroke="#1a1a2a" stroke-width="1" opacity="0.8"/>
<path d="M588.15 273.4V408.4" stroke="#fff" stroke-width="0.85" opacity="0.82"/>
<path d="M453.7 407.15H722.8" stroke="#fff" stroke-width="1.1" opacity="0.95" fill="none"/>
<path d="M722.4 407.4V274.4" stroke="#fff" stroke-width="0.6" opacity="0.3" fill="none"/>
<path d="M452.3 408.65H723.5V272.8" stroke="#666676" stroke-width="1.6" fill="none"/>
<path d="M452.9 409V273.4H724" stroke="#000" stroke-width="1.25" fill="none" opacity="0.8"/>
<path d="M497.983 273.4v3M497.983 408.4v-3M543.067 273.4v3M543.067 408.4v-3M588.15 273.4v3M588.15 408.4v-3M633.233 273.4v3M633.233 408.4v-3M678.317 273.4v3M678.317 408.4v-3M452.9 295.9h3M723.4 295.9h-3M452.9 318.4h3M723.4 318.4h-3M452.9 340.9h3M723.4 340.9h-3M452.9 363.4h3M723.4 363.4h-3M452.9 385.9h3M723.4 385.9h-3" stroke="#1a1a2a" stroke-width="1" opacity="0.8"/>
<path d="M188.75 477V612" stroke="#fff" stroke-width="0.85" opacity="0.82"/>
<path d="M54.3 610.75H323.4" stroke="#fff" stroke-width="1.1" opacity="0.95" fill="none"/>
<path d="M323 611V478" stroke="#fff" stroke-width="0.6" opacity="0.3" fill="none"/>
<path d="M52.9 612.25H324.1V476.4" stroke="#666676" stroke-width="1.6" fill="none"/>
<path d="M53.5 612.6V477H324.6" stroke="#000" stroke-width="1.25" fill="none" opacity="0.8"/>
<path d="M98.5833 477v3M98.5833 612v-3M143.667 477v3M143.667 612v-3M188.75 477v3M188.75 612v-3M233.833 477v3M233.833 612v-3M278.917 477v3M278.917 612v-3M53.5 499.5h3M324 499.5h-3M53.5 522h3M324 522h-3M53.5 544.5h3M324 544.5h-3M53.5 567h3M324 567h-3M53.5 589.5h3M324 589.5h-3" stroke="#1a1a2a" stroke-width="1" opacity="0.8"/>
<path d="M588.15 477V612" stroke="#fff" stroke-width="0.85" opacity="0.82"/>
<path d="M453.7 610.75H722.8" stroke="#fff" stroke-width="1.1" opacity="0.95" fill="none"/>
<path d="M722.4 611V478" stroke="#fff" stroke-width="0.6" opacity="0.3" fill="none"/>
<path d="M452.3 612.25H723.5V476.4" stroke="#666676" stroke-width="1.6" fill="none"/>
<path d="M452.9 612.6V477H724" stroke="#000" stroke-width="1.25" fill="none" opacity="0.8"/>
<path d="M497.983 477v3M497.983 612v-3M543.067 477v3M543.067 612v-3M588.15 477v3M588.15 612v-3M633.233 477v3M633.233 612v-3M678.317 477v3M678.317 612v-3M452.9 499.5h3M723.4 499.5h-3M452.9 522h3M723.4 522h-3M452.9 544.5h3M723.4 544.5h-3M452.9 567h3M723.4 567h-3M452.9 589.5h3M723.4 589.5h-3" stroke="#1a1a2a" stroke-width="1" opacity="0.8"/>
<g class="tx"><text transform="translate(326.30 16.80) scale(1 1.05)">heat flux (W/m<tspan dy="-6.2" font-size="12.2">2</tspan><tspan dy="6.2">)</tspan></text><text transform="translate(281.70 41.60) scale(1 1.05)" text-anchor="middle">1</text><text transform="translate(348.30 41.60) scale(1 1.05)" text-anchor="middle">2</text><text transform="translate(414.90 41.60) scale(1 1.05)" text-anchor="middle">3</text><text transform="translate(481.50 41.60) scale(1 1.05)" text-anchor="middle">4</text><text transform="translate(66.98 224.50) scale(1 1.05)" text-anchor="end">–360</text><text transform="translate(112.06 224.50) scale(1 1.05)" text-anchor="end">–300</text><text transform="translate(157.14 224.50) scale(1 1.05)" text-anchor="end">–240</text><text transform="translate(202.23 224.50) scale(1 1.05)" text-anchor="end">–180</text><text transform="translate(247.31 224.50) scale(1 1.05)" text-anchor="end">–120</text><text transform="translate(288.00 224.50) scale(1 1.05)" text-anchor="end">–60</text><text transform="translate(328.69 224.50) scale(1 1.05)" text-anchor="end">0</text><text transform="translate(49.00 76.00) scale(1 1.05)" text-anchor="end">90</text><text transform="translate(49.00 98.50) scale(1 1.05)" text-anchor="end">60</text><text transform="translate(49.00 121.00) scale(1 1.05)" text-anchor="end">30</text><text transform="translate(49.00 143.50) scale(1 1.05)" text-anchor="end">0</text><text transform="translate(49.00 166.00) scale(1 1.05)" text-anchor="end">–30</text><text transform="translate(49.00 188.50) scale(1 1.05)" text-anchor="end">–60</text><text transform="translate(49.00 211.00) scale(1 1.05)" text-anchor="end">–90</text><text transform="translate(188.75 243.30) scale(1 1.05)" text-anchor="middle">Longitude (deg.)</text><text transform="translate(188.75 57.10) scale(1 1.05)" text-anchor="middle">Case A</text><text transform="translate(12.50 137.40) rotate(-90) scale(1 1.05)" text-anchor="middle">Latitude (deg.)</text><text transform="translate(466.38 224.50) scale(1 1.05)" text-anchor="end">–360</text><text transform="translate(511.46 224.50) scale(1 1.05)" text-anchor="end">–300</text><text transform="translate(556.54 224.50) scale(1 1.05)" text-anchor="end">–240</text><text transform="translate(601.63 224.50) scale(1 1.05)" text-anchor="end">–180</text><text transform="translate(646.71 224.50) scale(1 1.05)" text-anchor="end">–120</text><text transform="translate(687.40 224.50) scale(1 1.05)" text-anchor="end">–60</text><text transform="translate(728.09 224.50) scale(1 1.05)" text-anchor="end">0</text><text transform="translate(448.40 76.00) scale(1 1.05)" text-anchor="end">90</text><text transform="translate(448.40 98.50) scale(1 1.05)" text-anchor="end">60</text><text transform="translate(448.40 121.00) scale(1 1.05)" text-anchor="end">30</text><text transform="translate(448.40 143.50) scale(1 1.05)" text-anchor="end">0</text><text transform="translate(448.40 166.00) scale(1 1.05)" text-anchor="end">–30</text><text transform="translate(448.40 188.50) scale(1 1.05)" text-anchor="end">–60</text><text transform="translate(448.40 211.00) scale(1 1.05)" text-anchor="end">–90</text><text transform="translate(588.15 243.30) scale(1 1.05)" text-anchor="middle">Longitude (deg.)</text><text transform="translate(588.15 57.10) scale(1 1.05)" text-anchor="middle">Case B</text><text transform="translate(411.90 137.40) rotate(-90) scale(1 1.05)" text-anchor="middle">Latitude (deg.)</text><text transform="translate(66.98 428.00) scale(1 1.05)" text-anchor="end">–360</text><text transform="translate(112.06 428.00) scale(1 1.05)" text-anchor="end">–300</text><text transform="translate(157.14 428.00) scale(1 1.05)" text-anchor="end">–240</text><text transform="translate(202.23 428.00) scale(1 1.05)" text-anchor="end">–180</text><text transform="translate(247.31 428.00) scale(1 1.05)" text-anchor="end">–120</text><text transform="translate(288.00 428.00) scale(1 1.05)" text-anchor="end">–60</text><text transform="translate(328.69 428.00) scale(1 1.05)" text-anchor="end">0</text><text transform="translate(49.00 279.50) scale(1 1.05)" text-anchor="end">90</text><text transform="translate(49.00 302.00) scale(1 1.05)" text-anchor="end">60</text><text transform="translate(49.00 324.50) scale(1 1.05)" text-anchor="end">30</text><text transform="translate(49.00 347.00) scale(1 1.05)" text-anchor="end">0</text><text transform="translate(49.00 369.50) scale(1 1.05)" text-anchor="end">–30</text><text transform="translate(49.00 392.00) scale(1 1.05)" text-anchor="end">–60</text><text transform="translate(49.00 414.50) scale(1 1.05)" text-anchor="end">–90</text><text transform="translate(188.75 446.80) scale(1 1.05)" text-anchor="middle">Longitude (deg.)</text><text transform="translate(188.75 260.60) scale(1 1.05)" text-anchor="middle">Case C</text><text transform="translate(12.50 340.90) rotate(-90) scale(1 1.05)" text-anchor="middle">Latitude (deg.)</text><text transform="translate(466.38 428.00) scale(1 1.05)" text-anchor="end">–360</text><text transform="translate(511.46 428.00) scale(1 1.05)" text-anchor="end">–300</text><text transform="translate(556.54 428.00) scale(1 1.05)" text-anchor="end">–240</text><text transform="translate(601.63 428.00) scale(1 1.05)" text-anchor="end">–180</text><text transform="translate(646.71 428.00) scale(1 1.05)" text-anchor="end">–120</text><text transform="translate(687.40 428.00) scale(1 1.05)" text-anchor="end">–60</text><text transform="translate(728.09 428.00) scale(1 1.05)" text-anchor="end">0</text><text transform="translate(448.40 279.50) scale(1 1.05)" text-anchor="end">90</text><text transform="translate(448.40 302.00) scale(1 1.05)" text-anchor="end">60</text><text transform="translate(448.40 324.50) scale(1 1.05)" text-anchor="end">30</text><text transform="translate(448.40 347.00) scale(1 1.05)" text-anchor="end">0</text><text transform="translate(448.40 369.50) scale(1 1.05)" text-anchor="end">–30</text><text transform="translate(448.40 392.00) scale(1 1.05)" text-anchor="end">–60</text><text transform="translate(448.40 414.50) scale(1 1.05)" text-anchor="end">–90</text><text transform="translate(588.15 446.80) scale(1 1.05)" text-anchor="middle">Longitude (deg.)</text><text transform="translate(588.15 260.60) scale(1 1.05)" text-anchor="middle">Case D</text><text transform="translate(411.90 340.90) rotate(-90) scale(1 1.05)" text-anchor="middle">Latitude (deg.)</text><text transform="translate(66.98 631.60) scale(1 1.05)" text-anchor="end">–360</text><text transform="translate(112.06 631.60) scale(1 1.05)" text-anchor="end">–300</text><text transform="translate(157.14 631.60) scale(1 1.05)" text-anchor="end">–240</text><text transform="translate(202.23 631.60) scale(1 1.05)" text-anchor="end">–180</text><text transform="translate(247.31 631.60) scale(1 1.05)" text-anchor="end">–120</text><text transform="translate(288.00 631.60) scale(1 1.05)" text-anchor="end">–60</text><text transform="translate(328.69 631.60) scale(1 1.05)" text-anchor="end">0</text><text transform="translate(49.00 483.10) scale(1 1.05)" text-anchor="end">90</text><text transform="translate(49.00 505.60) scale(1 1.05)" text-anchor="end">60</text><text transform="translate(49.00 528.10) scale(1 1.05)" text-anchor="end">30</text><text transform="translate(49.00 550.60) scale(1 1.05)" text-anchor="end">0</text><text transform="translate(49.00 573.10) scale(1 1.05)" text-anchor="end">–30</text><text transform="translate(49.00 595.60) scale(1 1.05)" text-anchor="end">–60</text><text transform="translate(49.00 618.10) scale(1 1.05)" text-anchor="end">–90</text><text transform="translate(188.75 650.40) scale(1 1.05)" text-anchor="middle">Longitude (deg.)</text><text transform="translate(188.75 464.20) scale(1 1.05)" text-anchor="middle">Case E</text><text transform="translate(12.50 544.50) rotate(-90) scale(1 1.05)" text-anchor="middle">Latitude (deg.)</text><text transform="translate(466.38 631.60) scale(1 1.05)" text-anchor="end">–360</text><text transform="translate(511.46 631.60) scale(1 1.05)" text-anchor="end">–300</text><text transform="translate(556.54 631.60) scale(1 1.05)" text-anchor="end">–240</text><text transform="translate(601.63 631.60) scale(1 1.05)" text-anchor="end">–180</text><text transform="translate(646.71 631.60) scale(1 1.05)" text-anchor="end">–120</text><text transform="translate(687.40 631.60) scale(1 1.05)" text-anchor="end">–60</text><text transform="translate(728.09 631.60) scale(1 1.05)" text-anchor="end">0</text><text transform="translate(448.40 483.10) scale(1 1.05)" text-anchor="end">90</text><text transform="translate(448.40 505.60) scale(1 1.05)" text-anchor="end">60</text><text transform="translate(448.40 528.10) scale(1 1.05)" text-anchor="end">30</text><text transform="translate(448.40 550.60) scale(1 1.05)" text-anchor="end">0</text><text transform="translate(448.40 573.10) scale(1 1.05)" text-anchor="end">–30</text><text transform="translate(448.40 595.60) scale(1 1.05)" text-anchor="end">–60</text><text transform="translate(448.40 618.10) scale(1 1.05)" text-anchor="end">–90</text><text transform="translate(588.15 650.40) scale(1 1.05)" text-anchor="middle">Longitude (deg.)</text><text transform="translate(588.15 464.20) scale(1 1.05)" text-anchor="middle">Case F</text><text transform="translate(411.90 544.50) rotate(-90) scale(1 1.05)" text-anchor="middle">Latitude (deg.)</text></g>
</svg>
</body></html>
